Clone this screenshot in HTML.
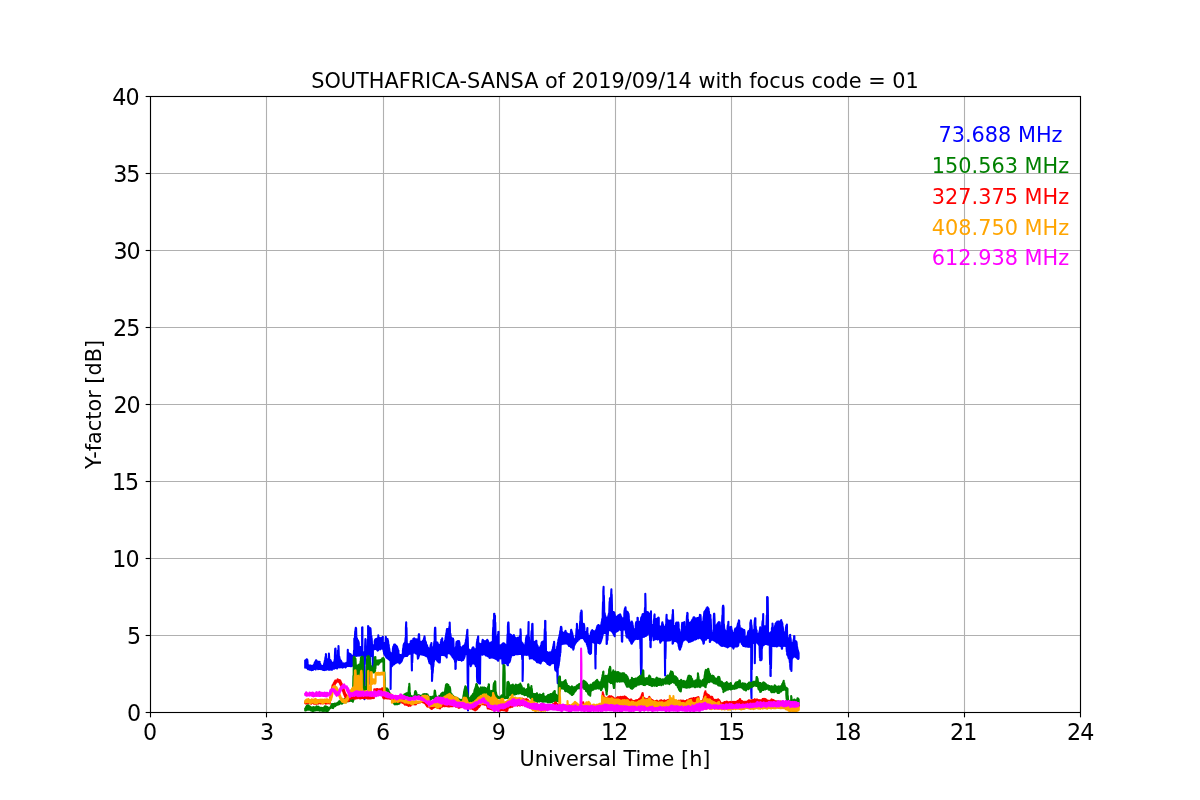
<!DOCTYPE html>
<html lang="en">
<head>
<meta charset="utf-8">
<title>SOUTHAFRICA-SANSA of 2019/09/14 with focus code = 01</title>
<style>
html,body{margin:0;padding:0;background:#fff;}
body{width:1200px;height:800px;overflow:hidden;}
svg{display:block;}
svg text{font-family:"DejaVu Sans","Liberation Sans",sans-serif;font-size:20.83px;}
svg .xlabels text,svg .ylabels text{font-size:22.22px;}
.grid line{stroke:#b0b0b0;stroke-width:1.11;}
.tick line{stroke:#000;stroke-width:1.11;}
.series polyline{fill:none;stroke-width:2.08;stroke-linejoin:round;stroke-linecap:butt;}
</style>
</head>
<body>
<svg width="1200" height="800" viewBox="0 0 1200 800">
<rect x="0" y="0" width="1200" height="800" fill="#ffffff"/>
<g class="grid">
<line x1="150.50" y1="96.00" x2="150.50" y2="712.00"/>
<line x1="266.50" y1="96.00" x2="266.50" y2="712.00"/>
<line x1="383.50" y1="96.00" x2="383.50" y2="712.00"/>
<line x1="499.50" y1="96.00" x2="499.50" y2="712.00"/>
<line x1="615.50" y1="96.00" x2="615.50" y2="712.00"/>
<line x1="731.50" y1="96.00" x2="731.50" y2="712.00"/>
<line x1="848.50" y1="96.00" x2="848.50" y2="712.00"/>
<line x1="964.50" y1="96.00" x2="964.50" y2="712.00"/>
<line x1="1080.50" y1="96.00" x2="1080.50" y2="712.00"/>
<line x1="150.00" y1="712.50" x2="1080.00" y2="712.50"/>
<line x1="150.00" y1="635.50" x2="1080.00" y2="635.50"/>
<line x1="150.00" y1="558.50" x2="1080.00" y2="558.50"/>
<line x1="150.00" y1="481.50" x2="1080.00" y2="481.50"/>
<line x1="150.00" y1="404.50" x2="1080.00" y2="404.50"/>
<line x1="150.00" y1="327.50" x2="1080.00" y2="327.50"/>
<line x1="150.00" y1="250.50" x2="1080.00" y2="250.50"/>
<line x1="150.00" y1="173.50" x2="1080.00" y2="173.50"/>
<line x1="150.00" y1="96.50" x2="1080.00" y2="96.50"/>
</g>
<defs><clipPath id="axclip"><rect x="150.5" y="96.5" width="930" height="616"/></clipPath></defs>
<g class="series" clip-path="url(#axclip)">
<polyline id="s73" stroke="#0000ff" points="305.2,659.8 305.2,667.7 305.5,667.0 305.5,662.3 305.8,660.5 305.8,667.5 306.1,667.4 306.1,659.8 306.4,659.8 306.4,667.5 306.7,667.9 306.7,659.3 307.0,659.4 307.0,668.1 307.3,668.5 307.3,659.9 307.6,662.4 307.6,668.4 307.9,669.2 307.9,664.8 308.2,665.6 308.2,669.0 308.5,669.0 308.5,665.7 308.8,665.6 308.8,669.2 309.1,669.4 309.1,665.5 309.4,666.0 309.4,669.6 309.7,669.5 309.7,666.1 310.0,665.6 310.0,669.7 310.3,669.8 310.3,665.6 310.6,666.0 310.6,669.8 310.9,669.2 310.9,665.9 311.2,666.6 311.2,670.1 311.5,670.0 311.5,665.7 311.8,666.2 311.8,670.1 312.1,669.8 312.1,666.0 312.4,666.1 312.4,669.4 312.7,669.8 312.7,666.2 313.0,665.6 313.0,669.8 313.3,669.7 313.3,665.9 313.6,665.4 313.6,669.2 313.9,669.0 313.9,664.9 314.2,664.6 314.2,668.4 314.5,668.5 314.5,663.5 314.8,662.5 314.8,668.5 315.1,669.0 315.1,662.0 315.4,661.9 315.4,669.0 315.7,669.5 315.7,661.1 316.0,660.4 316.0,669.0 316.3,668.6 316.3,660.2 316.6,661.7 316.6,668.2 316.9,668.3 316.9,661.8 317.2,662.1 317.2,668.5 317.5,668.3 317.5,661.8 317.8,662.0 317.8,668.6 318.1,669.1 318.1,661.8 318.4,662.2 318.4,668.9 318.7,669.0 318.7,661.9 319.0,662.4 319.0,668.6 319.3,668.9 319.3,662.1 319.6,661.8 319.6,668.8 319.9,668.6 319.9,663.6 320.2,663.8 320.2,669.1 320.5,668.7 320.5,665.0 320.8,665.3 320.8,668.9 321.1,669.0 321.1,665.3 321.4,666.2 321.4,669.2 321.7,669.3 321.7,666.1 322.0,666.5 322.0,669.0 322.3,669.1 322.3,666.1 322.6,666.3 322.6,669.3 322.9,669.8 322.9,666.6 323.2,666.0 323.2,669.6 323.5,669.4 323.5,666.0 323.8,664.9 323.8,670.0 324.1,670.0 324.1,664.0 324.4,662.7 324.4,670.0 324.7,670.1 324.7,661.2 325.0,660.2 325.0,669.5 325.3,669.2 325.3,658.6 325.6,656.7 325.6,669.6 325.9,669.1 325.9,654.0 326.2,657.3 326.2,669.8 326.5,669.2 326.5,659.6 326.8,659.8 326.8,669.0 327.1,668.8 327.1,659.4 327.4,659.4 327.4,668.6 327.7,668.9 327.7,659.8 328.0,659.6 328.0,669.3 328.3,669.7 328.3,659.7 328.6,659.4 328.6,669.8 328.9,669.8 328.9,653.5 329.2,658.1 329.2,669.7 329.5,669.7 329.5,659.7 329.8,660.3 329.8,669.8 330.1,669.5 330.1,660.6 330.4,660.2 330.4,669.3 330.7,668.8 330.7,660.8 331.0,661.3 331.0,669.3 331.3,669.6 331.3,662.1 331.6,662.7 331.6,669.7 331.9,669.8 331.9,662.8 332.2,663.6 332.2,669.0 332.5,669.0 332.5,663.3 332.8,663.1 332.8,668.7 333.1,668.7 333.1,662.6 333.4,662.9 333.4,668.0 333.7,668.0 333.7,663.0 334.0,663.2 334.0,668.7 334.3,668.4 334.3,663.3 334.6,659.9 334.6,668.3 334.9,668.1 334.9,656.4 335.2,648.7 335.2,667.9 335.5,667.5 335.5,648.6 335.8,659.1 335.8,667.8 336.1,668.1 336.1,659.4 336.4,659.8 336.4,668.3 336.7,668.1 336.7,659.0 337.0,659.3 337.0,668.5 337.3,668.2 337.3,659.1 337.6,655.3 337.6,667.7 337.9,667.5 337.9,650.5 338.2,650.3 338.2,667.1 338.5,666.9 338.5,646.0 338.8,654.8 338.8,667.0 339.1,666.9 339.1,656.2 339.4,657.2 339.4,667.0 339.7,667.4 339.7,658.8 340.0,660.0 340.0,667.0 340.3,666.8 340.3,660.2 340.6,660.6 340.6,667.2 340.9,667.3 340.9,660.6 341.2,661.3 341.2,666.8 341.5,666.5 341.5,661.7 341.8,662.8 341.8,666.5 342.1,666.8 342.1,663.1 342.4,663.7 342.4,667.5 342.7,667.6 342.7,664.0 343.0,664.1 343.0,667.5 343.3,666.7 343.3,664.1 343.6,663.8 343.6,666.3 343.9,666.7 343.9,663.3 344.2,663.8 344.2,666.4 344.5,666.6 344.5,663.7 344.8,664.2 344.8,666.9 345.1,667.1 345.1,664.2 345.4,663.6 345.4,667.4 345.7,667.1 345.7,663.6 346.0,663.4 346.0,666.8 346.3,666.8 346.3,662.9 346.6,663.0 346.6,666.2 346.9,665.9 346.9,663.0 347.2,663.4 347.2,666.0 347.5,665.8 347.5,663.2 347.8,649.8 347.8,665.5 348.1,665.9 348.1,653.6 348.4,652.7 348.4,665.5 348.7,665.2 348.7,653.3 349.0,653.4 349.0,666.1 349.3,665.8 349.3,654.2 349.6,654.6 349.6,665.9 349.9,665.8 349.9,654.4 350.2,654.4 350.2,665.5 350.5,666.1 350.5,654.1 350.8,655.0 350.8,666.2 351.1,665.9 351.1,655.1 351.4,655.8 351.4,666.2 351.7,665.3 351.7,655.8 352.0,655.9 352.0,666.0 352.3,662.5 352.3,655.7 352.6,655.7 352.6,656.0 353.2,655.9 353.2,655.6 353.8,655.6 354.0,650.5 354.0,655.7 354.3,655.8 354.3,638.7 354.6,638.5 354.6,655.2 354.9,655.4 354.9,638.4 355.2,631.2 355.2,655.4 355.5,655.6 355.5,629.8 355.8,627.7 355.8,655.7 356.1,656.0 356.1,628.4 356.4,638.4 356.4,655.2 356.7,655.0 356.7,638.2 357.0,638.6 357.0,655.7 357.3,655.1 357.3,639.6 357.6,639.9 357.6,655.4 357.9,655.2 357.9,640.5 358.2,641.0 358.2,655.6 358.5,655.2 358.5,641.7 358.8,643.4 358.8,655.3 359.1,655.4 359.1,646.7 359.4,646.8 359.4,655.3 359.7,655.3 359.7,647.0 360.0,647.0 360.0,655.7 360.3,655.3 360.3,647.5 360.6,647.3 360.6,655.5 360.9,655.4 360.9,647.4 361.2,646.8 361.2,655.5 361.5,655.3 361.5,647.4 361.8,647.2 361.8,655.4 362.1,655.0 362.1,627.6 362.4,627.3 362.4,655.6 362.7,656.5 362.7,652.0 363.0,652.2 363.0,656.5 363.3,655.7 363.3,652.9 363.6,653.1 363.6,655.3 363.9,656.0 363.9,652.8 364.2,652.9 364.2,690.7 364.5,699.2 364.5,652.4 364.8,652.2 364.8,664.2 365.1,655.6 365.1,646.9 365.4,639.1 365.4,655.7 365.7,655.7 365.7,646.9 366.0,647.3 366.0,655.6 366.3,655.4 366.3,646.6 366.6,647.0 366.6,655.5 366.9,655.6 366.9,646.6 367.2,647.3 367.2,655.3 367.5,655.9 367.5,647.0 367.8,639.6 367.8,655.8 368.1,655.7 368.1,626.1 368.4,626.6 368.4,655.6 368.7,655.3 368.7,627.1 369.0,629.0 369.0,655.5 369.3,655.3 369.3,628.7 369.6,628.8 369.6,683.7 369.9,656.0 369.9,628.3 370.2,628.1 370.2,655.9 370.5,655.5 370.5,628.6 370.8,633.0 370.8,655.2 371.1,655.1 371.1,636.3 371.4,636.1 371.4,655.6 371.7,655.9 371.7,638.6 372.0,645.1 372.0,655.7 372.3,656.2 372.3,645.1 372.6,645.0 372.6,655.6 372.9,667.4 372.9,645.5 373.2,645.3 373.2,649.6 373.5,648.8 373.5,645.4 373.8,645.2 373.8,649.0 374.1,648.8 374.1,645.5 374.4,645.0 374.4,649.1 374.7,649.2 374.7,641.4 375.0,640.1 375.0,648.6 375.3,648.4 375.3,639.6 375.6,639.5 375.6,649.0 375.9,649.0 375.9,639.0 376.2,639.4 376.2,649.0 376.5,649.4 376.5,639.6 376.8,638.9 376.8,649.0 377.1,649.8 377.1,638.7 377.4,639.2 377.4,649.7 377.7,650.6 377.7,639.1 378.0,638.3 378.0,650.4 378.3,649.2 378.3,635.4 378.6,637.9 378.6,649.0 378.9,649.2 378.9,638.5 379.2,638.1 379.2,649.3 379.5,648.9 379.5,638.6 379.8,638.2 379.8,648.9 380.1,649.3 380.1,638.4 380.4,638.4 380.4,648.6 380.7,648.6 380.7,638.1 381.0,638.1 381.0,648.6 381.3,647.9 381.3,637.9 381.6,638.2 381.6,648.1 381.9,648.5 381.9,638.0 382.2,638.2 382.2,648.7 382.5,648.8 382.5,637.9 382.8,636.7 382.8,648.7 383.1,648.5 383.1,643.7 383.4,643.4 383.4,648.9 383.7,651.3 383.7,643.0 384.0,643.7 384.0,653.1 384.3,654.0 384.3,643.1 384.6,643.2 384.6,654.6 384.9,654.9 384.9,643.7 385.2,643.6 385.2,655.2 385.5,656.0 385.5,643.7 385.8,636.9 385.8,656.2 386.1,656.8 386.1,637.9 386.4,639.2 386.4,657.5 386.7,657.3 386.7,639.4 387.0,638.9 387.0,658.0 387.3,658.2 387.3,639.1 387.6,639.0 387.6,658.4 387.9,658.4 387.9,640.4 388.2,642.2 388.2,658.8 388.5,658.8 388.5,644.1 388.8,645.5 388.8,659.3 389.1,659.5 389.1,647.8 389.4,649.6 389.4,659.4 389.7,660.0 389.7,651.4 390.0,653.6 390.0,660.5 390.3,660.7 390.3,653.2 390.6,653.7 390.6,689.0 390.9,666.2 390.9,653.6 391.2,653.6 391.2,666.6 391.5,666.6 391.5,653.9 391.8,653.5 391.8,665.6 392.1,665.9 392.1,653.1 392.4,653.7 392.4,665.5 392.7,665.2 392.7,653.0 393.0,648.0 393.0,664.6 393.3,664.3 393.3,646.6 393.6,646.7 393.6,663.6 393.9,663.6 393.9,646.0 394.2,644.5 394.2,664.3 394.5,663.6 394.5,645.2 394.8,644.9 394.8,663.5 395.1,663.3 395.1,644.6 395.4,645.3 395.4,663.0 395.7,662.4 395.7,645.7 396.0,645.6 396.0,662.9 396.3,662.3 396.3,646.0 396.6,646.3 396.6,662.4 396.9,662.1 396.9,646.5 397.2,647.4 397.2,661.6 397.5,662.1 397.5,648.4 397.8,649.3 397.8,661.7 398.1,662.1 398.1,650.3 398.4,650.5 398.4,662.4 398.7,661.8 398.7,653.7 399.0,655.9 399.0,662.0 399.3,662.4 399.3,655.9 399.6,656.1 399.6,663.4 399.9,663.2 399.9,655.5 400.2,655.2 400.2,662.6 400.5,662.6 400.5,655.0 400.8,655.7 400.8,662.0 401.1,661.9 401.1,655.4 401.4,655.6 401.4,661.6 401.7,660.9 401.7,655.0 402.0,654.9 402.0,660.2 402.3,658.9 402.3,654.2 402.6,654.5 402.6,658.3 402.9,657.9 402.9,650.7 403.2,648.0 403.2,657.2 403.5,656.8 403.5,645.9 403.8,644.5 403.8,656.3 404.1,656.3 404.1,643.6 404.4,643.4 404.4,655.7 404.7,655.9 404.7,643.1 405.0,642.3 405.0,656.1 405.3,655.5 405.3,642.0 405.6,637.9 405.6,656.0 405.9,655.8 405.9,628.1 406.2,622.3 406.2,655.6 406.5,656.0 406.5,627.8 406.8,643.4 406.8,655.8 407.1,656.0 407.1,643.6 407.4,644.1 407.4,655.1 407.7,654.8 407.7,644.1 408.0,644.5 408.0,654.8 408.3,654.0 408.3,644.8 408.6,644.3 408.6,653.8 408.9,654.0 408.9,644.9 409.2,644.4 409.2,653.3 409.5,653.5 409.5,644.6 409.8,645.0 409.8,653.7 410.1,653.7 410.1,644.3 410.4,643.2 410.4,653.3 410.7,652.9 410.7,641.5 411.0,641.2 411.0,653.3 411.3,653.1 411.3,640.8 411.6,640.7 411.6,657.7 411.9,670.5 411.9,641.4 412.2,641.5 412.2,662.6 412.5,656.0 412.5,641.7 412.8,641.1 412.8,652.4 413.1,652.4 413.1,640.7 413.4,638.7 413.4,652.7 413.7,652.6 413.7,639.2 414.0,638.7 414.0,652.5 414.3,652.0 414.3,638.4 414.6,638.7 414.6,652.6 414.9,652.4 414.9,638.9 415.2,639.5 415.2,652.8 415.5,652.8 415.5,639.5 415.8,639.8 415.8,653.4 416.1,653.2 416.1,639.8 416.4,639.5 416.4,653.5 416.7,653.8 416.7,639.2 417.0,639.5 417.0,653.5 417.3,654.3 417.3,639.9 417.6,639.9 417.6,654.6 417.9,658.6 417.9,639.7 418.2,639.8 418.2,658.2 418.5,657.1 418.5,639.2 418.8,634.4 418.8,656.3 419.1,655.1 419.1,634.4 419.4,641.6 419.4,653.7 419.7,653.6 419.7,641.6 420.0,641.8 420.0,654.1 420.3,654.2 420.3,641.6 420.6,642.3 420.6,654.1 420.9,653.6 420.9,642.1 421.2,641.8 421.2,654.5 421.5,654.5 421.5,642.2 421.8,642.1 421.8,654.1 422.1,654.1 422.1,642.1 422.4,641.9 422.4,654.6 422.7,654.7 422.7,641.4 423.0,640.6 423.0,654.8 423.3,654.2 423.3,640.4 423.6,640.0 423.6,654.9 423.9,654.7 423.9,639.0 424.2,637.8 424.2,654.7 424.5,655.0 424.5,636.3 424.8,638.5 424.8,654.9 425.1,655.5 425.1,640.5 425.4,641.5 425.4,655.4 425.7,655.5 425.7,641.7 426.0,642.7 426.0,656.1 426.3,655.6 426.3,644.1 426.6,644.7 426.6,656.2 426.9,656.1 426.9,645.2 427.2,646.0 427.2,656.1 427.5,656.6 427.5,647.2 427.8,647.5 427.8,656.7 428.1,658.1 428.1,648.9 428.4,648.9 428.4,658.9 428.7,659.9 428.7,649.2 429.0,648.8 429.0,661.3 429.3,662.2 429.3,648.8 429.6,648.7 429.6,663.3 429.9,663.1 429.9,648.4 430.2,648.8 430.2,663.5 430.5,663.1 430.5,646.5 430.8,644.7 430.8,663.8 431.1,664.6 431.1,645.7 431.4,643.1 431.4,665.2 431.7,669.5 431.7,648.3 432.0,647.9 432.0,680.9 432.3,675.8 432.3,648.0 432.6,647.8 432.6,673.1 432.9,669.9 432.9,647.4 433.2,647.9 433.2,666.9 433.5,664.3 433.5,647.8 433.8,646.1 433.8,661.9 434.1,660.3 434.1,643.9 434.4,641.5 434.4,658.3 434.7,658.0 434.7,634.8 435.0,627.8 435.0,658.2 435.3,659.2 435.3,627.9 435.6,639.3 435.6,658.9 435.9,659.0 435.9,642.5 436.2,642.8 436.2,658.8 436.5,658.3 436.5,642.6 436.8,642.5 436.8,659.5 437.1,660.4 437.1,642.6 437.4,642.6 437.4,660.3 437.7,661.5 437.7,643.3 438.0,644.8 438.0,661.2 438.3,661.4 438.3,645.1 438.6,645.5 438.6,661.8 438.9,662.3 438.9,645.4 439.2,645.3 439.2,661.9 439.5,660.6 439.5,645.1 439.8,644.8 439.8,662.4 440.1,656.8 440.1,645.1 440.4,644.9 440.4,655.6 440.7,654.3 440.7,643.5 441.0,641.8 441.0,654.3 441.3,654.6 441.3,639.7 441.6,639.8 441.6,654.7 441.9,654.5 441.9,641.6 442.2,638.2 442.2,655.0 442.5,654.8 442.5,642.7 442.8,642.8 442.8,655.0 443.1,654.9 443.1,642.9 443.4,642.9 443.4,654.6 443.7,654.9 443.7,643.0 444.0,642.8 444.0,655.3 444.3,655.0 444.3,642.0 444.6,641.6 444.6,654.9 444.9,655.0 444.9,640.9 445.2,640.2 445.2,655.1 445.5,655.7 445.5,638.4 445.8,636.3 445.8,656.2 446.1,656.1 446.1,634.9 446.4,632.8 446.4,655.9 446.7,657.5 446.7,630.9 447.0,629.1 447.0,654.2 447.3,653.5 447.3,629.0 447.6,629.0 447.6,653.2 447.9,652.9 447.9,629.6 448.2,629.5 448.2,652.6 448.5,653.2 448.5,629.4 448.8,629.2 448.8,652.7 449.1,652.8 449.1,629.3 449.4,626.6 449.4,652.5 449.7,652.5 449.7,622.6 450.0,632.5 450.0,653.4 450.3,653.8 450.3,633.5 450.6,635.3 450.6,653.7 450.9,653.6 450.9,637.1 451.2,638.0 451.2,654.5 451.5,655.3 451.5,638.4 451.8,638.5 451.8,655.6 452.1,655.9 452.1,638.9 452.4,638.6 452.4,656.7 452.7,657.1 452.7,638.7 453.0,638.5 453.0,657.0 453.3,657.8 453.3,639.5 453.6,646.5 453.6,658.1 453.9,658.6 453.9,648.7 454.2,648.3 454.2,658.9 454.5,659.6 454.5,648.0 454.8,648.3 454.8,659.8 455.1,662.0 455.1,648.1 455.4,648.8 455.4,668.9 455.7,668.7 455.7,648.5 456.0,646.7 456.0,661.8 456.3,659.6 456.3,643.8 456.6,641.8 456.6,659.3 456.9,659.4 456.9,642.0 457.2,641.8 457.2,659.0 457.5,659.4 457.5,641.7 457.8,641.1 457.8,659.2 458.1,659.3 458.1,641.2 458.4,641.0 458.4,659.5 458.7,660.0 458.7,641.4 459.0,641.2 459.0,659.7 459.3,659.9 459.3,642.1 459.6,644.4 459.6,659.9 459.9,659.8 459.9,646.5 460.2,647.7 460.2,659.9 460.5,659.6 460.5,647.7 460.8,647.6 460.8,659.8 461.1,659.9 461.1,647.5 461.4,647.9 461.4,660.1 461.7,660.6 461.7,647.6 462.0,648.0 462.0,660.2 462.3,659.9 462.3,647.8 462.6,647.2 462.6,660.1 462.9,660.0 462.9,646.6 463.2,646.0 463.2,659.9 463.5,658.9 463.5,645.8 463.8,645.8 463.8,658.6 464.1,658.0 464.1,646.1 464.4,645.3 464.4,657.2 464.7,656.0 464.7,645.3 465.0,644.7 465.0,654.6 465.3,654.0 465.3,643.5 465.6,642.5 465.6,654.2 465.9,653.6 465.9,640.4 466.2,639.1 466.2,653.7 466.5,654.1 466.5,637.2 466.8,634.5 466.8,654.3 467.1,654.5 467.1,632.2 467.4,629.7 467.4,653.8 467.7,683.6 467.7,637.1 468.0,648.2 468.0,710.5 468.3,671.0 468.3,648.6 468.6,649.3 468.6,663.8 468.9,663.7 468.9,650.0 469.2,650.5 469.2,663.9 469.5,663.9 469.5,650.7 469.8,650.9 469.8,663.7 470.1,663.6 470.1,650.1 470.4,650.5 470.4,663.8 470.7,666.2 470.7,650.6 471.0,650.3 471.0,664.8 471.3,664.9 471.3,650.6 471.6,650.3 471.6,663.9 471.9,663.7 471.9,649.8 472.2,648.9 472.2,663.2 472.5,662.8 472.5,647.9 472.8,647.8 472.8,663.1 473.1,663.5 473.1,647.3 473.4,647.4 473.4,663.4 473.7,663.4 473.7,648.1 474.0,649.0 474.0,663.5 474.3,663.3 474.3,649.5 474.6,649.7 474.6,662.7 474.9,663.6 474.9,650.0 475.2,649.6 475.2,664.5 475.5,665.2 475.5,649.7 475.8,649.9 475.8,666.2 476.1,666.1 476.1,649.6 476.4,648.2 476.4,666.1 476.7,667.0 476.7,645.3 477.0,641.8 477.0,677.2 477.3,681.6 477.3,639.5 477.6,639.1 477.6,681.6 477.9,682.2 477.9,638.0 478.2,636.4 478.2,682.6 478.5,683.0 478.5,643.7 478.8,643.9 478.8,682.8 479.1,683.4 479.1,643.4 479.4,643.5 479.4,679.0 479.7,668.5 479.7,643.9 480.0,644.4 480.0,683.6 480.3,654.5 480.3,644.2 480.6,644.4 480.6,654.7 480.9,654.5 480.9,644.1 481.2,644.4 481.2,654.2 481.5,654.3 481.5,644.3 481.8,644.0 481.8,654.5 482.1,654.7 482.1,644.5 482.4,640.9 482.4,654.7 482.7,654.4 482.7,639.7 483.0,640.4 483.0,654.2 483.3,654.1 483.3,640.6 483.6,641.3 483.6,654.3 483.9,654.3 483.9,641.8 484.2,641.7 484.2,654.3 484.5,654.0 484.5,641.6 484.8,641.8 484.8,654.1 485.1,654.3 485.1,641.0 485.4,641.9 485.4,654.7 485.7,655.3 485.7,641.7 486.0,641.8 486.0,655.3 486.3,655.5 486.3,641.1 486.6,641.1 486.6,655.2 486.9,655.6 486.9,641.3 487.2,639.7 487.2,655.4 487.5,656.1 487.5,640.5 487.8,640.5 487.8,656.2 488.1,656.3 488.1,641.2 488.4,642.5 488.4,656.0 488.7,656.6 488.7,642.9 489.0,643.4 489.0,657.0 489.3,657.2 489.3,643.1 489.6,643.3 489.6,658.0 489.9,657.1 489.9,643.3 490.2,643.0 490.2,657.0 490.5,657.0 490.5,643.1 490.8,642.5 490.8,657.7 491.1,657.0 491.1,642.9 491.4,642.3 491.4,656.8 491.7,657.2 491.7,642.5 492.0,641.9 492.0,657.0 492.3,657.6 492.3,641.7 492.6,641.5 492.6,657.1 492.9,657.0 492.9,634.7 493.2,627.5 493.2,656.6 493.5,656.8 493.5,620.6 493.8,619.5 493.8,657.9 494.1,657.6 494.1,613.7 494.4,613.7 494.4,658.1 494.7,657.7 494.7,616.2 495.0,615.8 495.0,657.9 495.3,658.7 495.3,622.5 495.6,637.1 495.6,658.3 495.9,658.8 495.9,636.7 496.2,636.7 496.2,659.0 496.5,659.3 496.5,636.6 496.8,636.8 496.8,659.3 497.1,659.2 497.1,637.2 497.4,636.9 497.4,659.2 497.7,659.9 497.7,636.9 498.0,634.5 498.0,660.7 498.3,660.7 498.3,632.0 498.6,631.9 498.6,659.1 498.9,657.8 498.9,645.4 499.2,645.4 499.2,658.3 499.5,658.2 499.5,645.2 499.8,645.8 499.8,658.0 500.1,658.2 500.1,645.2 500.4,646.0 500.4,658.4 500.7,657.8 500.7,645.6 501.0,645.7 501.0,657.2 501.3,658.2 501.3,645.2 501.6,644.7 501.6,658.1 501.9,658.1 501.9,644.6 502.2,644.8 502.2,658.1 502.5,663.7 502.5,644.4 502.8,644.3 502.8,663.4 503.1,660.1 503.1,643.3 503.4,643.5 503.4,663.1 503.7,663.0 503.7,643.2 504.0,643.5 504.0,663.1 504.3,663.4 504.3,643.7 504.6,643.9 504.6,662.8 504.9,663.0 504.9,644.5 505.2,645.6 505.2,662.8 505.5,662.9 505.5,645.2 505.8,645.8 505.8,662.9 506.1,663.0 506.1,645.3 506.4,645.9 506.4,663.6 506.7,663.4 506.7,645.9 507.0,645.8 507.0,663.8 507.3,663.9 507.3,642.2 507.6,634.2 507.6,665.2 507.9,665.3 507.9,626.3 508.2,622.6 508.2,663.5 508.5,663.1 508.5,622.6 508.8,631.9 508.8,662.3 509.1,662.4 509.1,635.1 509.4,634.6 509.4,661.5 509.7,661.8 509.7,634.4 510.0,635.0 510.0,660.8 510.3,659.4 510.3,634.6 510.6,635.0 510.6,658.0 510.9,657.0 510.9,634.9 511.2,635.3 511.2,655.8 511.5,655.1 511.5,635.7 511.8,636.3 511.8,655.1 512.1,654.9 512.1,635.7 512.4,635.9 512.4,655.2 512.7,655.3 512.7,636.0 513.0,635.9 513.0,655.3 513.3,655.0 513.3,636.1 513.6,636.2 513.6,654.9 513.9,654.9 513.9,635.1 514.2,636.9 514.2,655.0 514.5,654.5 514.5,636.9 514.8,638.0 514.8,654.2 515.1,654.2 515.1,637.5 515.4,638.3 515.4,654.2 515.7,654.2 515.7,638.1 516.0,638.3 516.0,653.9 516.3,654.0 516.3,638.7 516.6,638.9 516.6,654.2 516.9,654.1 516.9,638.7 517.2,638.7 517.2,654.3 517.5,654.3 517.5,637.8 517.8,638.3 517.8,654.0 518.1,653.6 518.1,637.9 518.4,638.3 518.4,654.1 518.7,654.0 518.7,637.9 519.0,638.1 519.0,654.0 519.3,653.8 519.3,637.7 519.6,636.7 519.6,653.8 519.9,654.0 519.9,636.2 520.2,635.3 520.2,654.0 520.5,653.9 520.5,629.3 520.8,634.4 520.8,653.1 521.1,653.9 521.1,641.0 521.4,642.3 521.4,654.1 521.7,654.3 521.7,642.5 522.0,643.1 522.0,654.9 522.3,659.4 522.3,643.0 522.6,643.7 522.6,680.9 522.9,669.3 522.9,644.1 523.2,645.3 523.2,654.5 523.5,654.3 523.5,645.5 523.8,645.8 523.8,654.6 524.1,654.6 524.1,645.5 524.4,646.1 524.4,654.7 524.7,654.5 524.7,645.7 525.0,646.1 525.0,654.4 525.3,654.7 525.3,645.3 525.6,642.6 525.6,654.1 525.9,654.4 525.9,640.6 526.2,637.7 526.2,654.5 526.5,654.9 526.5,636.1 526.8,636.0 526.8,655.0 527.1,654.3 527.1,635.6 527.4,635.4 527.4,653.9 527.7,654.3 527.7,635.4 528.0,635.7 528.0,653.8 528.3,654.0 528.3,631.7 528.6,622.1 528.6,654.6 528.9,654.9 528.9,636.8 529.2,641.2 529.2,655.5 529.5,656.5 529.5,641.3 529.8,641.9 529.8,658.8 530.1,657.5 530.1,641.7 530.4,642.1 530.4,657.6 530.7,657.4 530.7,641.3 531.0,641.5 531.0,657.6 531.3,658.0 531.3,636.2 531.6,631.1 531.6,657.8 531.9,658.3 531.9,637.4 532.2,624.1 532.2,658.3 532.5,657.8 532.5,623.8 532.8,641.1 532.8,658.1 533.1,657.8 533.1,641.4 533.4,642.2 533.4,658.6 533.7,658.5 533.7,642.7 534.0,642.2 534.0,659.4 534.3,659.0 534.3,642.4 534.6,642.2 534.6,658.8 534.9,659.4 534.9,641.8 535.2,641.6 535.2,660.0 535.5,660.3 535.5,641.8 535.8,641.8 535.8,660.2 536.1,660.4 536.1,640.9 536.4,640.9 536.4,661.3 536.7,661.2 536.7,643.9 537.0,645.2 537.0,662.2 537.3,661.8 537.3,645.5 537.6,646.0 537.6,661.9 537.9,662.1 537.9,647.1 538.2,647.6 538.2,662.4 538.5,662.2 538.5,647.8 538.8,648.7 538.8,662.5 539.1,662.2 539.1,648.3 539.4,648.1 539.4,662.3 539.7,662.8 539.7,647.5 540.0,647.7 540.0,662.5 540.3,662.2 540.3,647.5 540.6,646.3 540.6,663.4 540.9,662.3 540.9,645.8 541.2,645.1 541.2,661.6 541.5,661.3 541.5,643.4 541.8,642.2 541.8,661.2 542.1,661.1 542.1,642.1 542.4,641.9 542.4,660.6 542.7,660.4 542.7,641.8 543.0,641.6 543.0,660.4 543.3,660.2 543.3,641.4 543.6,641.5 543.6,659.9 543.9,660.1 543.9,641.3 544.2,640.7 544.2,660.3 544.5,660.9 544.5,639.6 544.8,629.0 544.8,660.5 545.1,660.9 545.1,620.9 545.4,621.0 545.4,660.8 545.7,661.2 545.7,631.7 546.0,652.1 546.0,662.0 546.3,661.9 546.3,652.5 546.6,652.0 546.6,662.4 546.9,662.5 546.9,652.3 547.2,652.1 547.2,663.2 547.5,663.8 547.5,652.4 547.8,652.4 547.8,663.9 548.1,663.7 548.1,652.5 548.4,653.0 548.4,664.0 548.7,664.0 548.7,653.1 549.0,653.5 549.0,664.7 549.3,664.4 549.3,652.9 549.6,653.1 549.6,664.7 549.9,665.1 549.9,652.4 550.2,652.9 550.2,664.4 550.5,664.5 550.5,652.6 550.8,652.5 550.8,663.8 551.1,663.5 551.1,653.1 551.4,652.2 551.4,663.0 551.7,662.6 551.7,651.6 552.0,651.3 552.0,662.5 552.3,662.9 552.3,650.1 552.6,649.7 552.6,663.2 552.9,662.8 552.9,648.7 553.2,646.6 553.2,662.7 553.5,663.0 553.5,645.5 553.8,643.7 553.8,662.7 554.1,662.9 554.1,641.7 554.4,647.6 554.4,662.7 554.7,664.0 554.7,650.5 555.0,649.9 555.0,667.4 555.3,669.9 555.3,650.3 555.6,650.6 555.6,670.5 555.9,670.4 555.9,650.9 556.2,651.0 556.2,670.8 556.5,671.0 556.5,650.5 556.8,649.1 556.8,670.7 557.1,672.1 557.1,646.9 557.4,646.0 557.4,676.0 557.7,683.3 557.7,644.0 558.0,642.5 558.0,668.1 558.3,666.9 558.3,640.8 558.6,639.3 558.6,665.5 558.9,663.3 558.9,638.4 559.2,637.1 559.2,661.6 559.5,658.9 559.5,635.6 559.8,634.2 559.8,656.7 560.1,654.2 560.1,632.3 560.4,630.6 560.4,652.7 560.7,644.4 560.7,628.8 561.0,626.7 561.0,644.0 561.3,644.1 561.3,627.0 561.6,629.2 561.6,644.0 561.9,644.1 561.9,631.6 562.2,633.1 562.2,643.8 562.5,643.6 562.5,633.2 562.8,633.0 562.8,643.6 563.1,643.1 563.1,632.8 563.4,633.4 563.4,643.6 563.7,643.3 563.7,632.9 564.0,633.2 564.0,643.7 564.3,643.5 564.3,633.2 564.6,632.9 564.6,643.4 564.9,643.2 564.9,632.0 565.2,631.7 565.2,643.4 565.5,643.4 565.5,630.8 565.8,632.3 565.8,643.2 566.1,642.9 566.1,632.8 566.4,633.1 566.4,643.1 566.7,643.1 566.7,633.6 567.0,633.3 567.0,643.8 567.3,643.6 567.3,633.6 567.6,633.8 567.6,643.9 567.9,643.9 567.9,634.5 568.2,634.1 568.2,644.5 568.5,645.0 568.5,634.4 568.8,634.7 568.8,645.3 569.1,646.0 569.1,634.3 569.4,634.6 569.4,645.7 569.7,645.9 569.7,634.7 570.0,634.3 570.0,646.0 570.3,646.4 570.3,634.5 570.6,633.6 570.6,646.7 570.9,647.1 570.9,631.9 571.2,629.7 571.2,646.9 571.5,647.5 571.5,630.8 571.8,632.0 571.8,647.0 572.1,647.4 572.1,632.8 572.4,634.0 572.4,647.2 572.7,647.9 572.7,635.4 573.0,637.1 573.0,647.8 573.3,649.6 573.3,638.5 573.6,639.2 573.6,649.0 573.9,646.4 573.9,639.1 574.2,639.6 574.2,645.2 574.5,644.9 574.5,639.6 574.8,639.1 574.8,644.5 575.1,643.1 575.1,639.2 575.4,639.3 575.4,642.7 575.7,642.8 575.7,638.0 576.0,635.2 576.0,642.8 576.3,641.7 576.3,633.3 576.6,628.8 576.6,641.2 576.9,641.3 576.9,623.9 577.2,627.7 577.2,640.7 577.5,641.0 577.5,629.7 577.8,630.2 577.8,640.3 578.1,639.7 578.1,630.0 578.4,630.2 578.4,639.0 578.7,638.9 578.7,630.3 579.0,630.5 579.0,639.5 579.3,639.3 579.3,630.1 579.6,630.2 579.6,638.8 579.9,638.4 579.9,625.7 580.2,621.3 580.2,637.9 580.5,637.5 580.5,616.9 580.8,612.9 580.8,637.9 581.1,638.0 581.1,616.3 581.4,610.6 581.4,638.1 581.7,637.7 581.7,611.3 582.0,624.6 582.0,638.0 582.3,637.3 582.3,624.8 582.6,624.2 582.6,637.2 582.9,637.4 582.9,624.1 583.2,624.1 583.2,638.3 583.5,638.4 583.5,623.9 583.8,623.8 583.8,638.8 584.1,639.4 584.1,624.8 584.4,628.2 584.4,639.9 584.7,640.1 584.7,631.5 585.0,632.1 585.0,640.9 585.3,641.4 585.3,632.2 585.6,632.6 585.6,641.7 585.9,641.8 585.9,632.1 586.2,632.4 586.2,642.0 586.5,642.7 586.5,632.5 586.8,632.1 586.8,643.9 587.1,644.7 587.1,630.6 587.4,628.0 587.4,645.6 587.7,646.8 587.7,633.4 588.0,637.0 588.0,647.0 588.3,649.0 588.3,637.3 588.6,637.1 588.6,651.7 588.9,652.6 588.9,636.4 589.2,636.3 589.2,653.2 589.5,653.0 589.5,636.2 589.8,636.8 589.8,653.5 590.1,654.0 590.1,636.8 590.4,635.1 590.4,649.4 590.7,653.6 590.7,634.1 591.0,632.5 591.0,653.3 591.3,642.0 591.3,631.5 591.6,630.9 591.6,641.6 591.9,641.6 591.9,630.6 592.2,630.2 592.2,641.8 592.5,641.7 592.5,630.6 592.8,631.0 592.8,642.0 593.1,642.2 593.1,630.9 593.4,631.3 593.4,642.1 593.7,642.0 593.7,631.3 594.0,631.2 594.0,642.2 594.3,642.8 594.3,631.7 594.6,631.7 594.6,642.6 594.9,642.5 594.9,631.3 595.2,631.3 595.2,650.7 595.5,668.4 595.5,631.6 595.8,631.3 595.8,654.7 596.1,642.3 596.1,630.1 596.4,629.6 596.4,642.6 596.7,642.4 596.7,628.4 597.0,627.2 597.0,642.3 597.3,642.1 597.3,626.3 597.6,625.7 597.6,642.1 597.9,642.6 597.9,625.7 598.2,625.2 598.2,642.9 598.5,642.9 598.5,625.0 598.8,625.8 598.8,642.7 599.1,643.0 599.1,626.4 599.4,626.3 599.4,642.9 599.7,643.5 599.7,625.9 600.0,626.0 600.0,643.1 600.3,643.0 600.3,625.9 600.6,626.0 600.6,642.1 600.9,641.3 600.9,626.3 601.2,624.6 601.2,640.1 601.5,639.6 601.5,623.5 601.8,621.8 601.8,638.4 602.1,637.8 602.1,619.8 602.4,618.4 602.4,636.0 602.7,634.5 602.7,613.0 603.0,602.0 603.0,633.1 603.3,633.0 603.3,591.4 603.6,586.9 603.6,633.1 603.9,632.6 603.9,595.5 604.2,608.1 604.2,633.0 604.5,632.8 604.5,612.8 604.8,613.8 604.8,632.9 605.1,632.7 605.1,615.2 605.4,616.8 605.4,632.7 605.7,632.6 605.7,617.4 606.0,618.1 606.0,633.1 606.3,633.7 606.3,617.9 606.6,618.2 606.6,644.0 606.9,643.8 606.9,618.1 607.2,618.1 607.2,640.5 607.5,639.6 607.5,617.3 607.8,617.4 607.8,635.5 608.1,629.4 608.1,618.0 608.4,615.7 608.4,629.6 608.7,629.6 608.7,614.7 609.0,613.3 609.0,630.1 609.3,629.7 609.3,611.0 609.6,601.8 609.6,630.3 609.9,629.8 609.9,598.3 610.2,598.1 610.2,629.9 610.5,630.3 610.5,597.8 610.8,597.3 610.8,630.0 611.1,630.1 611.1,594.8 611.4,589.4 611.4,630.4 611.7,631.5 611.7,594.6 612.0,607.5 612.0,631.1 612.3,631.5 612.3,612.0 612.6,612.1 612.6,632.0 612.9,632.5 612.9,611.9 613.2,612.0 613.2,633.2 613.5,633.8 613.5,613.0 613.8,612.7 613.8,634.7 614.1,635.0 614.1,612.3 614.4,612.9 614.4,634.4 614.7,636.3 614.7,614.5 615.0,616.6 615.0,632.3 615.3,631.5 615.3,617.0 615.6,617.0 615.6,631.2 615.9,631.2 615.9,617.4 616.2,616.9 616.2,631.8 616.5,631.5 616.5,617.2 616.8,617.0 616.8,631.3 617.1,631.1 617.1,616.6 617.4,616.8 617.4,630.5 617.7,630.9 617.7,617.0 618.0,615.8 618.0,630.2 618.3,630.2 618.3,615.2 618.6,615.3 618.6,629.3 618.9,629.2 618.9,615.1 619.2,615.7 619.2,629.4 619.5,629.0 619.5,614.9 619.8,614.8 619.8,629.4 620.1,629.5 620.1,614.2 620.4,614.9 620.4,629.4 620.7,630.0 620.7,615.8 621.0,616.6 621.0,629.5 621.3,629.7 621.3,617.1 621.6,618.1 621.6,629.2 621.9,641.5 621.9,618.5 622.2,618.8 622.2,641.7 622.5,629.2 622.5,618.9 622.8,618.8 622.8,629.2 623.1,629.4 623.1,618.8 623.4,618.1 623.4,629.3 623.7,629.2 623.7,618.6 624.0,617.9 624.0,629.6 624.3,629.3 624.3,613.9 624.6,610.0 624.6,629.4 624.9,629.5 624.9,608.5 625.2,612.0 625.2,629.4 625.5,629.5 625.5,607.2 625.8,611.5 625.8,630.9 626.1,633.3 626.1,611.5 626.4,611.9 626.4,636.5 626.7,636.7 626.7,611.9 627.0,611.7 627.0,636.6 627.3,637.6 627.3,611.7 627.6,612.1 627.6,637.1 627.9,637.2 627.9,612.6 628.2,613.5 628.2,637.6 628.5,637.6 628.5,613.8 628.8,616.7 628.8,637.9 629.1,638.7 629.1,619.8 629.4,622.8 629.4,639.6 629.7,640.3 629.7,623.4 630.0,622.7 630.0,640.3 630.3,641.0 630.3,622.9 630.6,622.9 630.6,641.4 630.9,641.9 630.9,623.4 631.2,623.3 631.2,642.9 631.5,643.6 631.5,623.5 631.8,621.6 631.8,643.7 632.1,642.4 632.1,622.4 632.4,623.1 632.4,642.0 632.7,641.4 632.7,625.0 633.0,627.7 633.0,641.6 633.3,641.1 633.3,629.7 633.6,629.1 633.6,640.4 633.9,639.9 633.9,629.3 634.2,629.3 634.2,639.6 634.5,639.5 634.5,629.4 634.8,629.1 634.8,638.9 635.1,639.1 635.1,629.5 635.4,628.5 635.4,638.8 635.7,638.3 635.7,626.0 636.0,622.8 636.0,638.8 636.3,638.8 636.3,622.1 636.6,622.2 636.6,638.5 636.9,638.9 636.9,622.6 637.2,623.0 637.2,638.6 637.5,638.4 637.5,617.8 637.8,617.9 637.8,639.0 638.1,638.3 638.1,621.3 638.4,622.0 638.4,638.1 638.7,638.3 638.7,622.6 639.0,622.4 639.0,638.2 639.3,638.3 639.3,622.3 639.6,622.9 639.6,639.0 639.9,638.9 639.9,622.8 640.2,622.9 640.2,638.7 640.5,648.8 640.5,621.7 640.8,620.1 640.8,662.4 641.1,674.9 641.1,618.2 641.4,617.3 641.4,675.2 641.7,662.2 641.7,617.2 642.0,616.2 642.0,636.4 642.3,636.5 642.3,616.0 642.6,614.3 642.6,636.6 642.9,636.8 642.9,614.0 643.2,614.0 643.2,636.1 643.5,636.6 643.5,614.4 643.8,614.4 643.8,636.3 644.1,636.6 644.1,614.1 644.4,613.8 644.4,636.7 644.7,636.0 644.7,613.9 645.0,607.8 645.0,635.9 645.3,635.8 645.3,593.8 645.6,605.1 645.6,635.9 645.9,635.9 645.9,611.7 646.2,611.6 646.2,635.7 646.5,635.3 646.5,612.0 646.8,612.3 646.8,634.8 647.1,634.7 647.1,612.5 647.4,612.3 647.4,634.5 647.7,633.8 647.7,612.1 648.0,612.4 648.0,633.7 648.3,633.4 648.3,613.7 648.6,614.9 648.6,633.4 648.9,633.4 648.9,614.7 649.2,614.7 649.2,633.7 649.5,633.3 649.5,614.4 649.8,613.7 649.8,633.8 650.1,640.4 650.1,613.7 650.4,614.1 650.4,646.9 650.7,647.1 650.7,614.1 651.0,611.4 651.0,640.8 651.3,635.4 651.3,625.4 651.6,625.5 651.6,635.5 651.9,635.7 651.9,624.9 652.2,625.6 652.2,635.6 652.5,635.2 652.5,625.7 652.8,625.7 652.8,635.3 653.1,635.7 653.1,625.1 653.4,624.3 653.4,635.8 653.7,640.1 653.7,621.6 654.0,619.1 654.0,637.9 654.3,639.2 654.3,615.9 654.6,614.4 654.6,639.2 654.9,638.9 654.9,619.0 655.2,619.5 655.2,639.3 655.5,638.7 655.5,619.0 655.8,619.0 655.8,638.9 656.1,638.6 656.1,619.0 656.4,619.4 656.4,638.7 656.7,638.5 656.7,619.5 657.0,619.6 657.0,638.7 657.3,639.5 657.3,618.6 657.6,618.8 657.6,639.4 657.9,639.2 657.9,618.0 658.2,618.0 658.2,638.7 658.5,639.2 658.5,617.5 658.8,618.2 658.8,639.2 659.1,638.9 659.1,625.8 659.4,627.3 659.4,638.9 659.7,639.4 659.7,627.0 660.0,627.2 660.0,640.4 660.3,642.7 660.3,627.0 660.6,626.8 660.6,641.2 660.9,641.3 660.9,626.6 661.2,627.5 661.2,641.4 661.5,641.0 661.5,626.4 661.8,625.3 661.8,640.2 662.1,640.0 662.1,623.7 662.4,622.3 662.4,640.3 662.7,640.0 662.7,623.7 663.0,624.8 663.0,639.9 663.3,640.1 663.3,625.6 663.6,627.1 663.6,639.8 663.9,640.1 663.9,627.5 664.2,627.2 664.2,640.8 664.5,640.4 664.5,627.6 664.8,627.2 664.8,650.6 665.1,675.4 665.1,627.7 665.4,627.7 665.4,658.7 665.7,646.4 665.7,627.7 666.0,624.4 666.0,640.5 666.3,640.7 666.3,619.8 666.6,614.7 666.6,640.5 666.9,640.6 666.9,618.8 667.2,620.7 667.2,640.4 667.5,640.4 667.5,620.1 667.8,620.4 667.8,640.3 668.1,640.0 668.1,620.3 668.4,621.0 668.4,640.3 668.7,640.3 668.7,620.9 669.0,620.9 669.0,640.5 669.3,640.5 669.3,621.7 669.6,621.2 669.6,639.8 669.9,639.9 669.9,621.3 670.2,620.7 670.2,640.3 670.5,639.5 670.5,620.5 670.8,620.8 670.8,638.6 671.1,638.9 671.1,621.2 671.4,621.1 671.4,639.4 671.7,639.5 671.7,620.9 672.0,621.0 672.0,639.5 672.3,638.9 672.3,618.8 672.6,614.3 672.6,643.7 672.9,643.5 672.9,610.0 673.2,618.8 673.2,641.1 673.5,641.3 673.5,625.7 673.8,625.9 673.8,640.9 674.1,641.0 674.1,626.2 674.4,626.4 674.4,641.0 674.7,641.1 674.7,626.0 675.0,626.1 675.0,641.0 675.3,640.2 675.3,626.0 675.6,625.6 675.6,640.6 675.9,640.7 675.9,623.6 676.2,622.8 676.2,641.3 676.5,641.4 676.5,622.5 676.8,622.6 676.8,641.6 677.1,641.4 677.1,623.4 677.4,623.3 677.4,641.9 677.7,642.2 677.7,622.9 678.0,622.7 678.0,642.7 678.3,643.7 678.3,622.5 678.6,624.8 678.6,645.2 678.9,646.9 678.9,628.7 679.2,632.8 679.2,648.1 679.5,649.3 679.5,632.7 679.8,632.9 679.8,649.7 680.1,649.5 680.1,632.9 680.4,632.6 680.4,648.3 680.7,647.3 680.7,632.5 681.0,632.4 681.0,646.8 681.3,645.9 681.3,633.1 681.6,629.5 681.6,644.8 681.9,643.4 681.9,626.3 682.2,622.9 682.2,642.3 682.5,641.6 682.5,623.4 682.8,623.3 682.8,640.9 683.1,640.7 683.1,623.0 683.4,623.0 683.4,640.4 683.7,640.5 683.7,623.9 684.0,625.8 684.0,639.3 684.3,639.3 684.3,622.0 684.6,627.4 684.6,639.0 684.9,639.6 684.9,627.1 685.2,627.5 685.2,639.4 685.5,638.6 685.5,627.3 685.8,627.3 685.8,638.8 686.1,639.4 686.1,627.8 686.4,626.7 686.4,639.1 686.7,639.4 686.7,621.0 687.0,615.6 687.0,639.8 687.3,640.3 687.3,612.9 687.6,613.3 687.6,640.6 687.9,640.4 687.9,619.4 688.2,622.8 688.2,640.7 688.5,641.2 688.5,622.9 688.8,622.8 688.8,642.1 689.1,641.8 689.1,622.8 689.4,622.8 689.4,641.8 689.7,641.5 689.7,623.0 690.0,623.1 690.0,641.8 690.3,641.1 690.3,622.7 690.6,622.7 690.6,640.8 690.9,640.8 690.9,622.2 691.2,621.8 691.2,641.1 691.5,640.6 691.5,621.4 691.8,621.1 691.8,640.2 692.1,640.9 692.1,620.4 692.4,619.7 692.4,640.4 692.7,640.6 692.7,619.4 693.0,619.0 693.0,640.4 693.3,640.2 693.3,618.3 693.6,617.4 693.6,639.9 693.9,639.6 693.9,617.6 694.2,617.3 694.2,639.6 694.5,639.3 694.5,617.5 694.8,618.2 694.8,639.3 695.1,639.4 695.1,618.6 695.4,618.9 695.4,638.8 695.7,639.3 695.7,619.0 696.0,618.9 696.0,638.8 696.3,639.0 696.3,618.7 696.6,618.7 696.6,638.3 696.9,638.2 696.9,618.9 697.2,618.1 697.2,638.3 697.5,637.9 697.5,618.0 697.8,618.1 697.8,638.1 698.1,638.5 698.1,618.4 698.4,618.2 698.4,637.8 698.7,637.8 698.7,618.0 699.0,617.4 699.0,637.8 699.3,637.8 699.3,617.4 699.6,617.5 699.6,637.5 699.9,637.8 699.9,614.8 700.2,616.0 700.2,637.9 700.5,638.2 700.5,615.1 700.8,619.8 700.8,637.4 701.1,637.2 701.1,622.6 701.4,623.1 701.4,638.3 701.7,639.0 701.7,623.3 702.0,622.7 702.0,639.7 702.3,639.7 702.3,622.8 702.6,623.3 702.6,640.3 702.9,641.1 702.9,623.2 703.2,621.0 703.2,641.6 703.5,643.7 703.5,618.8 703.8,616.4 703.8,643.5 704.1,640.9 704.1,613.9 704.4,611.8 704.4,640.0 704.7,639.7 704.7,611.9 705.0,611.1 705.0,639.8 705.3,639.6 705.3,611.1 705.6,610.5 705.6,639.4 705.9,639.7 705.9,609.7 706.2,609.4 706.2,639.4 706.5,638.7 706.5,608.4 706.8,608.7 706.8,638.1 707.1,637.9 707.1,608.0 707.4,607.2 707.4,637.7 707.7,637.7 707.7,607.5 708.0,608.3 708.0,637.8 708.3,637.9 708.3,608.4 708.6,609.2 708.6,637.9 708.9,637.5 708.9,611.4 709.2,614.0 709.2,638.1 709.5,638.3 709.5,615.3 709.8,615.3 709.8,642.0 710.1,641.7 710.1,615.1 710.4,615.0 710.4,640.0 710.7,640.4 710.7,619.0 711.0,627.0 711.0,639.7 711.3,639.5 711.3,634.1 711.6,634.2 711.6,639.1 711.9,638.8 711.9,634.0 712.2,633.7 712.2,639.7 712.5,639.6 712.5,633.4 712.8,633.1 712.8,639.2 713.1,639.4 713.1,633.6 713.4,630.1 713.4,639.9 713.7,640.2 713.7,620.1 714.0,613.7 714.0,640.0 714.3,640.6 714.3,613.9 714.6,620.7 714.6,640.8 714.9,640.4 714.9,625.0 715.2,625.4 715.2,640.9 715.5,641.2 715.5,625.4 715.8,625.5 715.8,641.2 716.1,641.4 716.1,625.5 716.4,625.5 716.4,642.2 716.7,642.2 716.7,625.5 717.0,624.7 717.0,642.7 717.3,642.6 717.3,624.1 717.6,624.1 717.6,642.1 717.9,642.3 717.9,623.8 718.2,622.7 718.2,642.1 718.5,642.4 718.5,622.6 718.8,622.2 718.8,642.9 719.1,643.4 719.1,623.2 719.4,622.3 719.4,643.8 719.7,644.4 719.7,622.2 720.0,627.4 720.0,644.3 720.3,644.4 720.3,627.1 720.6,627.1 720.6,644.7 720.9,645.5 720.9,626.8 721.2,626.3 721.2,645.6 721.5,645.5 721.5,626.5 721.8,626.8 721.8,645.6 722.1,645.8 722.1,621.8 722.4,615.2 722.4,645.8 722.7,645.7 722.7,608.5 723.0,605.7 723.0,645.4 723.3,645.3 723.3,605.9 723.6,608.2 723.6,645.8 723.9,645.6 723.9,624.1 724.2,628.7 724.2,645.9 724.5,645.6 724.5,629.2 724.8,630.1 724.8,646.1 725.1,646.0 725.1,630.8 725.4,630.7 725.4,646.4 725.7,645.9 725.7,631.3 726.0,631.6 726.0,646.3 726.3,646.7 726.3,631.7 726.6,631.7 726.6,646.6 726.9,646.6 726.9,631.4 727.2,631.4 727.2,647.0 727.5,647.4 727.5,628.6 727.8,625.4 727.8,647.2 728.1,646.5 728.1,626.3 728.4,621.8 728.4,646.5 728.7,646.6 728.7,627.1 729.0,627.8 729.0,645.7 729.3,646.0 729.3,627.9 729.6,627.5 729.6,645.7 729.9,645.6 729.9,627.5 730.2,627.5 730.2,645.6 730.5,645.7 730.5,627.2 730.8,627.1 730.8,645.9 731.1,646.2 731.1,626.7 731.4,628.7 731.4,646.1 731.7,646.4 731.7,629.7 732.0,631.2 732.0,646.6 732.3,646.2 732.3,632.2 732.6,632.8 732.6,647.1 732.9,647.1 732.9,632.5 733.2,632.7 733.2,647.9 733.5,648.6 733.5,633.1 733.8,633.1 733.8,647.3 734.1,646.8 734.1,632.9 734.4,632.9 734.4,646.7 734.7,646.4 734.7,630.5 735.0,629.4 735.0,645.9 735.3,646.3 735.3,628.6 735.6,628.7 735.6,646.1 735.9,645.6 735.9,628.8 736.2,628.8 736.2,645.7 736.5,646.5 736.5,628.1 736.8,628.5 736.8,645.8 737.1,646.3 737.1,627.3 737.4,626.0 737.4,645.7 737.7,646.2 737.7,624.9 738.0,623.6 738.0,646.0 738.3,645.1 738.3,623.0 738.6,621.9 738.6,643.3 738.9,641.7 738.9,620.3 739.2,621.0 739.2,641.9 739.5,641.4 739.5,625.2 739.8,628.2 739.8,641.5 740.1,641.6 740.1,628.1 740.4,628.6 740.4,641.2 740.7,641.3 740.7,628.2 741.0,629.1 741.0,641.4 741.3,641.8 741.3,629.2 741.6,628.7 741.6,642.9 741.9,643.8 741.9,628.9 742.2,629.4 742.2,644.3 742.5,644.2 742.5,629.4 742.8,630.1 742.8,644.8 743.1,645.6 743.1,629.8 743.4,629.8 743.4,645.9 743.7,646.0 743.7,630.4 744.0,630.6 744.0,645.8 744.3,646.0 744.3,630.1 744.6,632.3 744.6,645.4 744.9,646.2 744.9,637.1 745.2,637.0 745.2,646.5 745.5,646.5 745.5,637.1 745.8,637.5 745.8,646.4 746.1,646.5 746.1,637.2 746.4,637.9 746.4,646.1 746.7,646.3 746.7,637.6 747.0,637.4 747.0,646.4 747.3,646.5 747.3,636.0 747.6,634.9 747.6,645.9 747.9,646.5 747.9,633.3 748.2,631.7 748.2,647.0 748.5,646.6 748.5,631.1 748.8,631.5 748.8,646.5 749.1,646.6 749.1,631.5 749.4,631.2 749.4,646.5 749.7,646.1 749.7,631.3 750.0,628.9 750.0,646.8 750.3,647.0 750.3,623.2 750.6,621.8 750.6,647.2 750.9,647.4 750.9,620.2 751.2,623.6 751.2,691.2 751.5,698.2 751.5,625.1 751.8,628.4 751.8,669.8 752.1,645.9 752.1,630.9 752.4,631.5 752.4,643.6 752.7,642.6 752.7,631.3 753.0,630.8 753.0,642.9 753.3,642.3 753.3,630.8 753.6,631.3 753.6,642.8 753.9,642.7 753.9,631.0 754.2,629.3 754.2,643.0 754.5,642.4 754.5,624.9 754.8,620.0 754.8,663.3 755.1,642.7 755.1,618.3 755.4,618.2 755.4,642.5 755.7,642.5 755.7,626.3 756.0,629.9 756.0,642.1 756.3,641.9 756.3,630.5 756.6,630.3 756.6,642.2 756.9,642.6 756.9,633.3 757.2,634.0 757.2,642.5 757.5,642.5 757.5,634.1 757.8,634.2 757.8,643.0 758.1,643.6 758.1,633.9 758.4,633.9 758.4,644.0 758.7,644.0 758.7,634.3 759.0,634.7 759.0,644.9 759.3,644.8 759.3,633.0 759.6,631.1 759.6,647.4 759.9,658.0 759.9,630.4 760.2,627.3 760.2,660.3 760.5,660.3 760.5,630.3 760.8,629.9 760.8,660.0 761.1,660.1 761.1,630.1 761.4,630.1 761.4,660.0 761.7,658.7 761.7,630.5 762.0,630.2 762.0,648.5 762.3,645.8 762.3,624.5 762.6,621.0 762.6,646.0 762.9,645.0 762.9,626.5 763.2,614.0 763.2,644.9 763.5,644.9 763.5,626.9 763.8,627.1 763.8,644.9 764.1,644.6 764.1,626.7 764.4,626.4 764.4,644.2 764.7,644.2 764.7,626.9 765.0,626.6 765.0,643.4 765.3,643.4 765.3,627.3 765.6,627.2 765.6,643.7 765.9,643.8 765.9,626.3 766.2,626.0 766.2,644.0 766.5,643.9 766.5,626.4 766.8,615.5 766.8,643.8 767.1,644.1 767.1,597.1 767.4,597.1 767.4,644.5 767.7,644.2 767.7,597.6 768.0,619.5 768.0,644.2 768.3,643.9 768.3,633.3 768.6,633.1 768.6,644.8 768.9,644.7 768.9,633.1 769.2,633.3 769.2,644.5 769.5,643.6 769.5,634.0 769.8,633.5 769.8,652.4 770.1,664.5 770.1,633.6 770.4,633.3 770.4,675.7 770.7,676.0 770.7,632.3 771.0,632.5 771.0,668.5 771.3,650.9 771.3,632.1 771.6,631.6 771.6,645.8 771.9,646.1 771.9,628.4 772.2,627.3 772.2,645.6 772.5,645.7 772.5,623.5 772.8,628.3 772.8,645.8 773.1,645.6 773.1,628.3 773.4,628.1 773.4,645.9 773.7,645.6 773.7,628.8 774.0,628.4 774.0,646.3 774.3,645.7 774.3,628.3 774.6,628.5 774.6,645.9 774.9,645.2 774.9,627.4 775.2,625.5 775.2,645.2 775.5,645.9 775.5,624.0 775.8,623.4 775.8,645.3 776.1,645.6 776.1,623.3 776.4,622.7 776.4,646.4 776.7,646.1 776.7,622.3 777.0,622.4 777.0,646.2 777.3,646.3 777.3,621.6 777.6,622.3 777.6,646.1 777.9,645.9 777.9,622.4 778.2,621.8 778.2,645.5 778.5,645.4 778.5,621.6 778.8,621.7 778.8,645.2 779.1,645.4 779.1,621.6 779.4,621.8 779.4,645.0 779.7,645.1 779.7,621.7 780.0,621.5 780.0,645.9 780.3,645.8 780.3,621.6 780.6,621.6 780.6,646.0 780.9,646.3 780.9,620.6 781.2,620.2 781.2,646.0 781.5,646.7 781.5,621.3 781.8,622.1 781.8,648.8 782.1,648.7 782.1,622.8 782.4,624.1 782.4,646.7 782.7,645.6 782.7,626.6 783.0,629.1 783.0,645.3 783.3,645.8 783.3,631.4 783.6,632.7 783.6,645.5 783.9,645.6 783.9,632.8 784.2,632.4 784.2,645.8 784.5,645.4 784.5,632.5 784.8,632.3 784.8,645.6 785.1,645.9 785.1,632.8 785.4,632.9 785.4,645.9 785.7,646.0 785.7,630.5 786.0,627.0 786.0,646.2 786.3,646.3 786.3,625.5 786.6,632.6 786.6,648.7 786.9,651.9 786.9,624.6 787.2,639.6 787.2,654.5 787.5,655.2 787.5,639.2 787.8,639.7 787.8,655.3 788.1,656.1 788.1,639.6 788.4,639.6 788.4,657.0 788.7,658.2 788.7,639.7 789.0,638.9 789.0,658.4 789.3,659.0 789.3,637.6 789.6,636.7 789.6,659.7 789.9,662.6 789.9,635.0 790.2,634.8 790.2,666.0 790.5,669.1 790.5,637.9 790.8,640.6 790.8,664.6 791.1,659.9 791.1,642.8 791.4,642.9 791.4,670.9 791.7,659.4 791.7,642.8 792.0,642.8 792.0,658.9 792.3,658.2 792.3,643.4 792.6,643.3 792.6,657.8 792.9,657.3 792.9,643.1 793.2,642.4 793.2,656.8 793.5,656.5 793.5,640.7 793.8,639.1 793.8,656.8 794.1,656.5 794.1,636.0 794.4,636.3 794.4,656.5 794.7,656.3 794.7,640.6 795.0,641.8 795.0,656.3 795.3,656.1 795.3,641.4 795.6,641.4 795.6,656.4 795.9,657.1 795.9,641.2 796.2,641.5 796.2,657.0 796.5,657.5 796.5,642.0 796.8,644.8 796.8,657.1 797.1,657.8 797.1,646.9 797.4,648.9 797.4,658.5 797.7,658.7 797.7,649.9 798.0,650.8 798.0,658.4 798.3,658.9 798.3,651.7 798.6,653.1 798.6,658.7"/>
<polyline id="s150" stroke="#008000" points="305.2,707.9 305.2,710.5 305.7,710.4 305.7,707.9 306.0,707.4 306.0,710.1 306.3,710.2 306.3,706.6 306.6,706.4 306.6,710.0 306.9,709.7 306.9,705.8 307.2,705.3 307.2,709.5 307.5,709.2 307.5,705.4 307.8,705.5 307.8,709.3 308.1,709.6 308.1,705.4 308.4,705.3 308.4,709.7 308.7,709.2 308.7,706.6 309.0,706.2 309.0,709.7 309.3,709.7 309.3,706.3 309.6,706.2 309.6,709.4 309.9,708.9 309.9,706.7 310.2,706.8 310.2,709.0 310.6,710.1 310.6,707.5 310.9,707.8 310.9,710.5 311.2,710.3 311.2,707.9 311.7,707.8 311.7,710.4 312.1,710.7 312.1,707.4 312.4,707.5 312.4,711.0 312.7,711.6 312.7,707.6 313.0,707.7 313.0,711.2 313.3,710.7 313.3,707.3 313.6,707.0 313.6,710.8 313.9,710.1 313.9,707.2 314.2,707.7 314.2,710.1 314.5,710.2 314.5,708.3 315.0,707.5 315.0,710.6 315.3,710.3 315.3,707.4 315.6,707.9 315.6,709.8 316.0,709.6 316.0,707.6 316.3,707.2 316.3,710.2 316.6,709.9 316.6,706.2 316.9,706.8 316.9,709.7 317.2,710.0 317.2,706.8 317.5,707.5 317.5,710.2 317.8,710.3 317.8,706.9 318.1,706.8 318.1,710.0 318.4,709.5 318.4,706.9 318.9,707.3 318.9,709.7 319.3,710.5 319.3,708.1 319.6,708.2 319.6,710.7 319.9,710.2 319.9,707.9 320.4,708.9 320.4,710.4 320.8,710.5 320.8,708.3 321.1,707.7 321.1,710.5 321.4,710.4 321.4,708.0 321.9,708.1 321.9,710.6 322.2,711.0 322.2,708.8 322.6,708.3 322.6,710.5 323.1,709.4 323.1,707.9 323.5,707.7 323.5,710.8 323.8,710.9 323.8,708.2 324.1,707.6 324.1,710.9 324.4,710.8 324.4,707.7 324.7,707.0 324.7,709.8 325.0,710.1 325.0,706.2 325.3,707.5 325.3,710.2 325.6,710.4 325.6,706.9 325.9,706.4 325.9,710.9 326.2,710.8 326.2,706.7 326.5,706.9 326.5,710.7 326.8,710.1 326.8,707.3 327.1,707.5 327.1,710.9 327.4,711.1 327.4,707.1 327.7,707.5 327.7,710.8 328.0,710.7 328.0,708.0 328.3,708.1 328.3,710.6 328.8,709.7 328.8,707.9 329.2,707.9 329.2,709.0 329.8,708.3 329.8,707.8 330.4,707.6 330.4,708.2 330.7,707.8 330.7,707.0 331.0,706.1 331.0,707.7 331.3,707.2 331.3,705.5 331.6,704.4 331.6,707.1 331.9,707.5 331.9,704.1 332.2,704.4 332.2,707.3 332.5,707.9 332.5,704.7 332.8,704.3 332.8,707.8 333.1,708.1 333.1,704.4 333.4,704.2 333.4,707.4 333.7,706.7 333.7,704.3 334.2,704.5 334.2,706.4 334.6,706.3 334.6,703.7 334.9,703.6 334.9,706.2 335.4,706.0 335.4,703.8 335.8,704.0 335.8,705.4 336.3,705.3 336.3,703.8 336.7,703.4 336.7,704.9 337.2,704.7 337.2,703.3 337.8,702.8 337.8,704.7 338.2,704.0 338.2,702.5 338.7,701.9 338.7,704.3 339.1,704.2 339.1,701.4 339.6,701.4 339.6,703.7 339.9,703.7 339.9,701.3 340.3,701.4 340.3,703.2 340.8,703.2 340.8,700.9 341.1,700.3 341.1,703.3 341.4,703.5 341.4,700.8 341.7,700.8 341.7,703.8 342.0,703.5 342.0,700.3 342.3,700.3 342.3,703.4 342.6,702.9 342.6,700.0 342.9,700.2 342.9,702.8 343.3,702.6 343.3,700.5 343.8,699.6 343.8,702.1 344.1,702.1 344.1,699.4 344.4,699.1 344.4,702.0 344.8,702.1 344.8,699.7 345.3,699.4 345.3,701.8 345.7,702.3 345.7,699.6 346.0,699.1 346.0,702.0 346.3,702.2 346.3,699.2 346.8,699.6 346.8,701.1 347.2,701.0 347.2,699.6 347.7,699.6 347.7,701.2 348.1,700.7 348.1,699.5 348.6,699.6 348.6,701.1 349.0,701.2 349.0,699.5 349.5,699.5 349.5,700.8 349.9,700.9 349.9,700.0 350.5,699.6 350.5,700.7 351.1,700.8 351.1,700.2 351.7,700.2 351.7,700.9 352.3,701.0 352.3,699.8 352.8,700.1 352.8,701.8 353.1,701.1 353.1,692.2 353.4,675.9 353.4,700.1 353.7,689.2 353.7,657.3 354.0,657.3 354.0,675.3 354.3,675.4 354.3,657.6 354.6,656.9 354.6,675.5 354.9,675.7 354.9,658.2 355.2,658.2 355.2,675.8 355.5,675.3 355.5,658.7 355.8,664.6 355.8,675.2 356.1,674.9 356.1,666.1 356.4,665.7 356.4,675.7 356.7,675.2 356.7,666.0 357.0,666.2 357.0,675.2 357.3,675.3 357.3,666.2 357.6,665.9 357.6,674.9 357.9,674.9 357.9,665.9 358.2,665.3 358.2,674.6 358.5,674.7 358.5,664.8 358.8,664.9 358.8,674.6 359.1,674.3 359.1,664.6 359.4,665.1 359.4,674.2 359.7,675.0 359.7,665.2 360.0,665.3 360.0,675.1 360.3,675.0 360.3,664.8 360.6,661.4 360.6,675.7 360.9,674.9 360.9,657.8 361.2,657.4 361.2,674.7 361.5,674.5 361.5,656.7 361.8,657.1 361.8,675.5 362.1,675.2 362.1,656.7 362.4,656.9 362.4,675.4 362.7,674.8 362.7,657.0 363.0,666.6 363.0,679.3 363.3,689.5 363.3,681.3 363.6,687.1 363.6,689.3 364.0,689.8 364.0,687.3 364.5,687.5 364.5,689.4 364.9,689.5 364.9,687.5 365.2,687.2 365.2,689.8 365.5,689.6 365.5,687.3 366.0,687.4 366.0,689.3 366.4,688.7 366.4,677.0 366.7,665.3 366.7,682.1 367.0,674.9 367.0,659.9 367.3,656.5 367.3,675.0 367.6,675.4 367.6,656.8 367.9,662.5 367.9,674.5 368.2,675.2 368.2,658.7 368.5,656.1 368.5,675.2 368.8,675.5 368.8,656.4 369.1,657.2 369.1,675.7 369.4,675.6 369.4,657.4 369.7,659.0 369.7,675.9 370.0,674.4 370.0,661.8 370.3,663.9 370.3,671.4 370.6,670.9 370.6,665.5 370.9,667.9 370.9,670.4 371.2,669.7 371.2,669.0 371.5,666.3 371.5,670.4 371.8,670.2 371.8,667.5 372.1,668.2 372.1,671.1 372.4,671.0 372.4,669.1 372.7,670.2 372.7,671.5 373.0,671.7 373.0,670.5 373.3,671.2 373.3,672.4 373.9,672.4 373.9,671.8 374.2,664.9 374.2,672.3 374.5,672.1 374.5,657.2 374.8,657.2 374.8,671.3 375.1,670.9 375.1,657.3 375.4,657.0 375.4,668.7 375.7,664.0 375.7,660.6 376.0,660.4 376.0,663.9 376.3,664.3 376.3,660.6 376.6,660.6 376.6,664.3 376.9,664.5 376.9,661.5 377.2,661.4 377.2,664.0 377.5,663.9 377.5,661.2 377.8,660.7 377.8,664.5 378.1,664.5 378.1,660.3 378.4,660.8 378.4,664.6 378.7,663.5 378.7,660.9 379.0,661.0 379.0,663.5 379.3,662.9 379.3,660.3 379.8,660.5 379.8,662.5 380.2,661.5 380.2,660.2 380.7,659.9 380.7,661.6 381.1,661.6 381.1,660.4 381.6,660.3 381.6,661.4 382.0,661.4 382.0,659.5 382.3,658.3 382.3,661.2 382.6,661.3 382.6,658.8 382.9,658.7 382.9,661.2 383.2,661.5 383.2,658.7 383.5,658.1 383.5,667.8 383.8,674.8 383.8,658.7 384.1,659.8 384.1,681.5 384.4,688.9 384.4,672.1 384.7,680.6 384.7,689.8 385.0,690.3 385.0,687.4 385.5,688.0 385.5,690.1 385.8,690.1 385.8,688.1 386.1,688.7 386.1,690.2 386.7,690.2 386.7,689.3 387.0,689.6 387.0,690.5 387.3,691.1 387.3,688.6 387.6,689.3 387.6,691.7 387.9,692.6 387.9,689.6 388.2,689.7 388.2,692.9 388.5,693.0 388.5,690.7 388.8,691.4 388.8,693.5 389.1,694.5 389.1,692.3 389.4,692.7 389.4,694.7 389.7,694.7 389.7,693.2 390.0,693.9 390.0,695.6 390.4,696.7 390.4,694.8 390.9,695.9 390.9,697.9 391.3,698.7 391.3,696.7 391.8,697.9 391.8,699.3 392.2,700.5 392.2,699.0 392.7,699.7 392.7,701.1 393.1,702.1 393.1,700.0 393.6,701.2 393.6,702.5 394.0,703.5 394.0,701.4 394.5,702.1 394.5,704.0 394.8,704.4 394.8,702.2 395.1,702.6 395.1,703.4 395.4,703.7 395.4,702.8 395.8,702.5 395.8,703.7 396.3,704.1 396.3,702.1 396.7,702.3 396.7,703.7 397.2,704.3 397.2,702.1 397.6,702.1 397.6,704.0 398.1,703.9 398.1,702.5 398.5,702.1 398.5,703.4 398.8,703.7 398.8,702.4 399.3,702.2 399.3,703.6 399.7,703.1 399.7,699.1 400.0,698.1 400.0,700.8 400.5,700.0 400.5,697.4 400.9,697.0 400.9,699.5 401.2,698.4 401.2,698.1 401.8,697.4 401.8,697.9 402.4,697.7 402.4,697.1 403.0,696.7 403.0,697.0 403.6,696.7 403.6,696.0 404.1,695.1 404.1,697.3 404.5,697.7 404.5,694.2 404.8,694.6 404.8,697.8 405.1,697.9 405.1,694.6 405.4,694.3 405.4,698.0 405.7,697.6 405.7,693.9 406.0,693.9 406.0,697.1 406.3,696.2 406.3,693.4 406.6,693.6 406.6,696.6 406.9,696.7 406.9,693.3 407.2,693.7 407.2,696.6 407.5,696.2 407.5,693.9 407.8,693.2 407.8,697.4 408.1,697.3 408.1,693.1 408.4,692.1 408.4,697.5 408.7,697.0 408.7,690.1 409.0,686.7 409.0,697.7 409.3,697.1 409.3,683.9 409.6,688.4 409.6,696.8 409.9,696.7 409.9,692.7 410.2,695.8 410.2,696.8 410.8,696.9 410.8,695.9 411.3,696.5 411.3,696.9 411.9,696.9 411.9,696.4 412.5,696.7 412.5,697.1 413.1,697.1 413.1,696.4 413.7,696.6 413.7,697.1 414.3,697.0 414.3,696.6 414.6,694.7 414.6,697.0 414.9,697.0 414.9,692.5 415.2,691.4 415.2,696.9 415.5,696.8 415.5,691.0 415.8,691.6 415.8,697.0 416.1,697.3 416.1,692.1 416.4,693.0 416.4,697.3 416.7,697.2 416.7,694.4 417.0,695.2 417.0,697.7 417.4,697.9 417.4,695.2 417.9,695.3 417.9,697.6 418.3,697.6 418.3,695.4 418.8,695.2 418.8,697.3 419.2,697.1 419.2,695.7 419.7,695.6 419.7,697.0 420.3,696.8 420.3,695.8 420.7,696.1 420.7,696.6 421.2,696.7 421.2,695.9 421.8,695.8 421.8,696.8 422.4,696.8 422.4,695.2 422.8,694.8 422.8,697.1 423.1,697.1 423.1,694.3 423.4,694.8 423.4,696.9 423.9,697.6 423.9,694.9 424.2,694.8 424.2,697.4 424.5,697.1 424.5,694.0 424.8,694.2 424.8,697.1 425.1,696.4 425.1,694.2 425.5,694.5 425.5,696.0 426.0,696.3 426.0,694.3 426.4,694.2 426.4,697.5 426.7,697.8 426.7,694.3 427.0,694.7 427.0,697.5 427.3,697.5 427.3,694.5 427.6,694.5 427.6,697.4 427.9,698.0 427.9,695.4 428.2,696.0 428.2,698.3 428.7,698.7 428.7,696.8 429.1,696.8 429.1,700.5 429.4,700.6 429.4,697.1 429.7,697.1 429.7,700.2 430.0,699.6 430.0,696.7 430.3,697.4 430.3,699.3 430.8,699.1 430.8,697.0 431.2,697.8 431.2,699.0 431.7,698.5 431.7,697.5 432.3,696.6 432.3,698.3 432.7,698.2 432.7,696.7 433.2,697.0 433.2,698.0 433.6,698.2 433.6,696.4 434.1,696.0 434.1,698.8 434.4,698.8 434.4,693.9 434.7,690.5 434.7,698.6 435.0,698.7 435.0,690.7 435.3,693.2 435.3,698.6 435.6,697.6 435.6,694.9 435.9,696.3 435.9,697.2 436.3,697.3 436.3,696.4 436.9,697.1 436.9,697.5 437.5,697.5 439.1,697.4 439.3,697.8 439.3,695.8 439.6,695.7 439.6,697.6 439.9,697.6 439.9,696.8 440.5,695.9 440.5,697.6 441.0,697.8 441.0,694.5 441.3,693.7 441.3,698.4 441.6,697.8 441.6,693.6 441.9,694.1 441.9,698.1 442.2,697.5 442.2,693.0 442.5,692.7 442.5,697.6 442.8,698.2 442.8,692.8 443.1,693.4 443.1,698.3 443.4,698.0 443.4,693.4 443.7,693.2 443.7,697.7 444.0,697.6 444.0,692.5 444.3,692.6 444.3,697.4 444.6,697.3 444.6,692.2 444.9,691.2 444.9,696.4 445.2,696.5 445.2,690.1 445.5,687.8 445.5,696.5 445.8,696.6 445.8,686.1 446.1,684.8 446.1,696.4 446.4,696.5 446.4,684.2 446.7,684.2 446.7,697.1 447.0,698.1 447.0,684.1 447.3,685.0 447.3,698.0 447.6,697.5 447.6,684.8 447.9,685.2 447.9,696.9 448.2,696.6 448.2,684.7 448.5,685.5 448.5,697.4 448.8,697.1 448.8,686.9 449.1,686.8 449.1,697.1 449.4,696.6 449.4,686.9 449.7,687.0 449.7,696.6 450.0,696.4 450.0,687.8 450.3,690.4 450.3,695.9 450.6,696.1 450.6,692.6 450.9,694.1 450.9,696.1 451.3,696.6 451.3,694.3 451.8,694.3 451.8,696.7 452.2,696.7 452.2,695.5 452.7,695.7 452.7,697.1 453.1,697.5 453.1,695.8 453.6,696.5 453.6,697.5 454.2,697.5 454.2,696.9 454.8,697.5 454.8,698.2 455.4,698.2 455.4,697.6 456.0,698.1 456.0,698.5 456.6,698.6 456.8,699.5 456.8,697.7 457.2,698.3 457.2,699.2 457.8,699.4 457.8,698.3 458.4,699.1 458.4,699.6 459.0,700.1 459.0,699.3 459.6,699.5 459.6,700.2 460.2,699.9 461.0,700.1 461.2,700.3 461.2,700.0 461.8,699.8 461.8,700.5 462.4,700.4 462.4,700.1 463.0,699.4 463.0,700.2 463.3,700.5 463.3,697.3 463.6,695.0 463.6,700.6 463.9,700.2 463.9,693.4 464.2,691.1 464.2,700.3 464.5,699.9 464.5,690.0 464.8,688.6 464.8,700.1 465.1,700.1 465.1,687.3 465.4,686.2 465.4,700.2 465.7,699.3 465.7,686.6 466.0,687.2 466.0,699.8 466.3,699.8 466.3,688.8 466.6,690.2 466.6,699.5 466.9,699.2 466.9,691.9 467.2,692.9 467.2,699.1 467.5,699.3 467.5,694.2 467.8,695.7 467.8,699.2 468.1,699.9 468.1,697.2 468.4,698.1 468.4,700.6 468.9,701.1 468.9,698.7 469.2,699.1 469.2,701.8 469.5,703.3 469.5,698.8 469.8,698.6 469.8,703.4 470.1,702.1 470.1,698.2 470.4,697.6 470.4,701.9 470.7,702.7 470.7,697.4 471.0,696.9 471.0,702.9 471.3,702.3 471.3,696.4 471.6,695.9 471.6,701.7 471.9,701.1 471.9,695.8 472.2,695.7 472.2,701.7 472.5,701.3 472.5,695.3 472.8,694.8 472.8,701.2 473.1,701.3 473.1,693.8 473.4,694.0 473.4,701.5 473.7,701.0 473.7,693.3 474.0,693.0 474.0,700.4 474.3,700.1 474.3,691.6 474.6,689.9 474.6,699.7 474.9,700.0 474.9,689.0 475.2,688.6 475.2,699.6 475.5,699.6 475.5,687.4 475.8,686.8 475.8,699.0 476.1,699.0 476.1,685.1 476.4,684.0 476.4,698.4 476.7,698.0 476.7,684.2 477.0,684.9 477.0,697.7 477.3,698.0 477.3,686.3 477.6,686.8 477.6,697.4 477.9,697.6 477.9,687.3 478.2,687.8 478.2,696.8 478.5,696.6 478.5,688.5 478.8,688.8 478.8,696.0 479.1,696.5 479.1,688.8 479.4,689.0 479.4,696.8 479.7,697.5 479.7,689.5 480.0,689.1 480.0,697.6 480.3,697.5 480.3,688.7 480.6,687.7 480.6,697.4 480.9,697.4 480.9,687.4 481.2,687.9 481.2,697.3 481.5,696.8 481.5,687.8 481.8,687.8 481.8,696.5 482.1,696.2 482.1,687.8 482.4,687.5 482.4,696.0 482.7,696.7 482.7,687.9 483.0,687.6 483.0,696.4 483.3,696.4 483.3,688.1 483.6,687.9 483.6,696.5 483.9,697.1 483.9,688.6 484.2,687.6 484.2,697.2 484.5,696.5 484.5,688.0 484.8,687.9 484.8,696.9 485.1,696.8 485.1,688.5 485.4,688.7 485.4,697.3 485.7,697.4 485.7,688.2 486.0,688.5 486.0,696.8 486.3,696.7 486.3,688.6 486.6,688.8 486.6,697.1 486.9,697.4 486.9,689.6 487.2,689.4 487.2,697.6 487.5,697.5 487.5,688.8 487.8,687.8 487.8,697.8 488.1,697.9 488.1,686.9 488.4,686.4 488.4,698.2 488.7,698.2 488.7,684.2 489.0,684.5 489.0,698.5 489.3,698.2 489.3,690.0 489.6,690.4 489.6,698.2 489.9,697.4 489.9,690.9 490.2,691.3 490.2,697.5 490.5,696.8 490.5,691.9 490.8,691.7 490.8,697.0 491.1,697.7 491.1,691.3 491.4,691.0 491.4,697.2 491.7,697.8 491.7,692.0 492.0,691.5 492.0,697.4 492.3,697.3 492.3,691.1 492.6,690.5 492.6,697.0 492.9,697.5 492.9,691.0 493.2,690.3 493.2,698.1 493.5,698.2 493.5,687.2 493.8,684.1 493.8,698.6 494.1,698.2 494.1,683.1 494.4,682.9 494.4,697.9 494.7,697.5 494.7,685.4 495.0,681.4 495.0,697.8 495.3,697.9 495.3,681.6 495.6,691.4 495.6,697.9 495.9,697.4 495.9,692.0 496.2,693.4 496.2,697.6 496.5,697.9 496.5,694.9 496.8,695.3 496.8,697.5 497.2,697.7 497.2,695.7 497.7,696.5 497.7,698.1 498.1,698.0 498.1,696.8 498.7,697.5 498.7,697.9 499.3,697.8 499.3,697.5 499.9,697.4 499.9,697.9 500.5,698.0 500.5,697.5 500.8,696.7 500.8,698.3 501.1,697.8 501.1,696.0 501.6,695.3 501.6,698.6 501.9,698.7 501.9,695.6 502.2,695.6 502.2,698.5 502.5,697.5 502.5,695.3 502.9,695.0 502.9,697.5 503.2,697.6 503.2,679.8 503.5,664.9 503.5,697.3 503.8,697.8 503.8,665.8 504.1,665.3 504.1,697.6 504.4,697.8 504.4,665.5 504.7,673.2 504.7,698.0 505.0,698.2 505.0,696.2 505.3,698.0 506.3,697.8 506.5,697.6 506.5,697.9 507.1,697.5 507.1,689.1 507.4,682.3 507.4,698.1 507.7,698.0 507.7,682.0 508.0,682.4 508.0,697.9 508.3,696.9 508.3,681.8 508.6,682.6 508.6,695.8 508.9,695.7 508.9,683.0 509.2,685.4 509.2,695.4 509.5,694.7 509.5,685.7 509.8,685.4 509.8,694.4 510.1,694.7 510.1,685.4 510.4,685.8 510.4,694.9 510.7,694.8 510.7,685.8 511.0,685.6 511.0,694.4 511.3,693.5 511.3,685.4 511.6,685.6 511.6,693.6 511.9,693.5 511.9,685.7 512.2,685.0 512.2,693.8 512.5,694.1 512.5,685.1 512.8,684.5 512.8,693.6 513.1,694.0 513.1,685.0 513.4,685.6 513.4,694.4 513.7,694.2 513.7,686.0 514.0,686.5 514.0,694.5 514.3,693.7 514.3,686.1 514.6,685.9 514.6,693.4 514.9,694.4 514.9,686.0 515.2,685.8 515.2,693.6 515.5,693.8 515.5,685.0 515.8,684.6 515.8,693.4 516.1,693.8 516.1,684.7 516.4,685.3 516.4,693.9 516.7,693.4 516.7,685.4 517.0,685.7 517.0,693.3 517.3,693.4 517.3,685.5 517.6,685.5 517.6,692.7 517.9,692.4 517.9,685.0 518.2,685.4 518.2,692.3 518.5,693.5 518.5,684.8 518.8,684.7 518.8,693.6 519.1,693.2 519.1,684.8 519.4,684.6 519.4,693.0 519.7,693.2 519.7,684.5 520.0,684.8 520.0,693.3 520.3,693.2 520.3,683.6 520.6,685.2 520.6,692.6 520.9,692.6 520.9,685.2 521.2,685.4 521.2,692.7 521.5,693.0 521.5,686.0 521.8,686.8 521.8,693.7 522.1,694.1 522.1,688.0 522.4,688.6 522.4,693.8 522.7,693.7 522.7,689.4 523.0,688.9 523.0,694.0 523.3,693.8 523.3,688.6 523.6,688.4 523.6,693.7 523.9,694.3 523.9,688.8 524.2,688.5 524.2,694.9 524.5,695.1 524.5,689.3 524.8,690.1 524.8,694.9 525.1,694.8 525.1,689.7 525.4,690.2 525.4,694.4 525.7,694.5 525.7,690.3 526.0,690.6 526.0,695.0 526.3,694.9 526.3,689.6 526.6,689.4 526.6,694.7 526.9,694.8 526.9,689.0 527.2,689.4 527.2,695.2 527.5,695.7 527.5,689.3 527.8,689.2 527.8,696.6 528.1,696.3 528.1,684.4 528.4,684.3 528.4,696.5 528.7,695.9 528.7,686.1 529.0,688.2 529.0,695.9 529.3,696.1 529.3,689.0 529.6,688.3 529.6,696.5 529.9,696.9 529.9,688.8 530.2,688.5 530.2,697.6 530.5,697.8 530.5,688.5 530.8,688.6 530.8,698.2 531.1,698.1 531.1,688.6 531.4,686.1 531.4,698.8 531.7,699.3 531.7,688.4 532.0,690.5 532.0,699.7 532.3,699.7 532.3,693.0 532.6,693.6 532.6,699.6 532.9,699.8 532.9,694.0 533.2,694.2 533.2,699.9 533.5,700.2 533.5,694.0 533.8,694.2 533.8,699.9 534.1,700.6 534.1,694.1 534.4,694.0 534.4,701.3 534.7,701.4 534.7,694.6 535.0,694.7 535.0,701.0 535.3,700.5 535.3,694.8 535.6,694.0 535.6,700.6 535.9,700.5 535.9,694.1 536.2,694.1 536.2,700.5 536.5,700.8 536.5,694.3 536.8,693.4 536.8,701.3 537.1,701.2 537.1,693.4 537.4,695.0 537.4,701.9 537.7,701.2 537.7,695.7 538.0,695.8 538.0,701.1 538.3,701.1 538.3,695.6 538.6,695.7 538.6,701.2 538.9,701.3 538.9,695.2 539.2,694.8 539.2,701.6 539.5,701.3 539.5,694.8 539.8,694.4 539.8,701.1 540.1,700.4 540.1,695.4 540.4,695.1 540.4,700.7 540.7,700.4 540.7,694.8 541.0,695.1 541.0,701.1 541.3,701.1 541.3,695.3 541.6,695.4 541.6,700.9 541.9,701.0 541.9,695.8 542.2,695.5 542.2,701.2 542.5,701.7 542.5,694.7 542.8,694.8 542.8,701.3 543.1,701.2 543.1,693.8 543.4,693.6 543.4,701.6 543.7,701.6 543.7,696.0 544.0,697.2 544.0,700.7 544.3,700.6 544.3,697.0 544.6,696.9 544.6,701.0 544.9,701.3 544.9,696.9 545.2,697.2 545.2,701.7 545.5,701.3 545.5,697.1 545.8,696.8 545.8,701.3 546.1,701.0 546.1,697.2 546.4,696.7 546.4,700.5 546.7,701.0 546.7,696.4 547.0,696.7 547.0,701.7 547.3,702.1 547.3,697.0 547.6,696.3 547.6,701.9 547.9,702.0 547.9,695.2 548.2,694.9 548.2,702.5 548.5,702.1 548.5,695.1 548.8,695.5 548.8,702.1 549.1,701.8 549.1,695.9 549.4,694.9 549.4,702.1 549.7,701.5 549.7,695.0 550.0,694.9 550.0,701.6 550.3,702.4 550.3,694.7 550.6,694.0 550.6,701.7 550.9,701.6 550.9,694.2 551.2,694.7 551.2,701.4 551.5,701.4 551.5,694.4 551.8,694.4 551.8,702.1 552.1,701.8 552.1,694.0 552.4,693.7 552.4,701.8 552.7,700.9 552.7,693.5 553.0,693.2 553.0,700.8 553.3,700.3 553.3,692.5 553.6,692.2 553.6,700.9 553.9,700.5 553.9,692.7 554.2,692.8 554.2,700.6 554.5,700.9 554.5,691.1 554.8,691.1 554.8,701.2 555.1,701.5 555.1,694.9 555.4,695.4 555.4,701.5 555.7,700.8 555.7,695.4 556.0,694.7 556.0,700.4 556.3,700.7 556.3,694.8 556.6,695.5 556.6,701.4 556.9,700.9 556.9,695.8 557.2,696.5 557.2,700.7 557.5,701.0 557.5,696.7 557.8,696.5 557.8,699.1 558.1,697.8 558.1,695.8 558.4,695.8 558.4,696.5 558.7,701.1 558.7,679.3 559.0,677.3 559.0,699.2 559.3,698.5 559.3,676.9 559.6,676.7 559.6,691.8 559.9,690.7 559.9,676.6 560.2,682.3 560.2,689.7 560.5,687.6 560.5,683.9 560.8,683.3 560.8,687.7 561.1,688.3 561.1,683.2 561.4,683.3 561.4,688.2 561.7,688.0 561.7,682.5 562.0,682.1 562.0,688.1 562.3,688.0 562.3,682.5 562.6,682.8 562.6,688.2 562.9,688.6 562.9,683.0 563.2,682.8 563.2,688.2 563.5,687.9 563.5,682.9 563.8,681.9 563.8,688.1 564.1,688.7 564.1,682.4 564.4,681.5 564.4,689.1 564.7,689.3 564.7,681.1 565.0,680.6 565.0,690.3 565.3,691.1 565.3,680.7 565.6,680.1 565.6,691.1 565.9,691.0 565.9,681.9 566.2,683.1 566.2,691.3 566.5,690.8 566.5,683.5 566.8,683.9 566.8,690.8 567.1,690.6 567.1,685.2 567.4,685.5 567.4,690.6 567.7,691.3 567.7,686.1 568.0,686.7 568.0,691.9 568.3,692.0 568.3,686.5 568.6,686.0 568.6,692.3 568.9,692.0 568.9,686.4 569.2,687.1 569.2,692.6 569.5,692.9 569.5,687.4 569.8,687.1 569.8,692.9 570.1,693.5 570.1,687.5 570.4,687.3 570.4,693.0 570.7,693.6 570.7,687.2 571.0,687.4 571.0,693.2 571.3,694.5 571.3,687.2 571.6,687.1 571.6,694.4 571.9,694.9 571.9,686.2 572.2,687.3 572.2,694.9 572.5,694.6 572.5,687.7 572.8,687.3 572.8,693.9 573.1,693.5 573.1,687.6 573.4,687.6 573.4,694.1 573.7,692.8 573.7,687.3 574.0,687.4 574.0,692.5 574.3,692.4 574.3,687.0 574.6,687.6 574.6,692.0 574.9,691.6 574.9,687.8 575.2,687.9 575.2,691.0 575.5,691.0 575.5,687.7 575.8,687.3 575.8,690.4 576.1,689.9 576.1,686.6 576.4,686.6 576.4,689.2 576.7,688.8 576.7,686.0 577.0,685.7 577.0,688.5 577.3,688.3 577.3,685.4 577.6,685.4 577.6,688.6 577.9,688.2 577.9,685.5 578.2,685.0 578.2,688.3 578.5,688.1 578.5,685.3 578.8,684.9 578.8,687.9 579.1,687.3 579.1,684.0 579.4,684.2 579.4,687.6 579.7,687.8 579.7,684.2 580.0,683.9 580.0,687.8 580.3,688.8 580.3,684.2 580.6,683.4 580.6,688.4 580.9,688.4 580.9,683.0 581.2,682.3 581.2,688.3 581.5,687.7 581.5,682.6 581.8,683.0 581.8,687.3 582.1,686.9 582.1,682.3 582.4,682.1 582.4,687.4 582.7,687.4 582.7,681.8 583.0,681.4 583.0,687.5 583.3,686.7 583.3,680.9 583.6,680.8 583.6,687.3 583.9,687.8 583.9,680.9 584.2,681.1 584.2,688.9 584.5,688.7 584.5,682.2 584.8,681.9 584.8,688.3 585.1,688.7 585.1,681.7 585.4,681.8 585.4,688.8 585.7,689.5 585.7,682.1 586.0,682.7 586.0,691.0 586.3,691.0 586.3,683.0 586.6,683.4 586.6,691.2 586.9,691.2 586.9,683.4 587.2,684.3 587.2,691.8 587.5,692.2 587.5,684.5 587.8,685.1 587.8,692.2 588.1,693.4 588.1,686.0 588.4,685.7 588.4,694.3 588.7,694.7 588.7,685.5 589.0,686.2 589.0,694.0 589.3,694.0 589.3,685.9 589.6,686.0 589.6,694.2 589.9,693.6 589.9,685.4 590.2,685.0 590.2,695.8 590.5,692.1 590.5,684.7 590.8,684.5 590.8,691.3 591.1,690.9 591.1,685.0 591.4,686.2 591.4,690.6 591.7,689.9 591.7,685.7 592.0,685.3 592.0,690.2 592.3,689.4 592.3,685.1 592.6,684.0 592.6,689.3 592.9,689.4 592.9,683.6 593.2,682.8 593.2,689.6 593.5,689.6 593.5,682.8 593.8,682.5 593.8,688.7 594.1,688.0 594.1,682.8 594.4,682.9 594.4,688.0 594.7,688.7 594.7,682.4 595.0,682.0 595.0,688.5 595.3,688.1 595.3,682.1 595.6,681.4 595.6,687.7 595.9,688.7 595.9,681.3 596.2,681.1 596.2,688.6 596.5,688.5 596.5,680.6 596.8,680.4 596.8,688.0 597.1,687.9 597.1,679.8 597.4,681.3 597.4,687.7 597.7,688.1 597.7,681.5 598.0,681.4 598.0,688.2 598.3,688.3 598.3,681.7 598.6,682.2 598.6,688.5 598.9,688.6 598.9,683.8 599.2,684.1 599.2,688.3 599.5,688.5 599.5,683.7 599.8,683.1 599.8,687.9 600.1,687.4 600.1,682.3 600.4,682.7 600.4,687.2 600.7,688.3 600.7,683.5 601.0,683.2 601.0,690.3 601.3,690.1 601.3,681.6 601.6,679.8 601.6,689.2 601.9,688.7 601.9,679.4 602.2,677.4 602.2,687.8 602.5,686.9 602.5,675.5 602.8,674.5 602.8,685.9 603.1,686.1 603.1,672.1 603.4,671.7 603.4,686.6 603.7,686.1 603.7,676.1 604.0,676.8 604.0,686.4 604.3,686.6 604.3,677.0 604.6,677.1 604.6,685.8 604.9,686.1 604.9,676.9 605.2,676.4 605.2,686.7 605.5,688.2 605.5,675.9 605.8,675.9 605.8,689.1 606.1,690.5 606.1,676.3 606.4,677.0 606.4,692.6 606.7,694.5 606.7,676.5 607.0,676.0 607.0,691.8 607.3,686.5 607.3,675.7 607.6,676.1 607.6,681.8 607.9,681.2 607.9,675.9 608.2,676.3 608.2,681.1 608.5,681.3 608.5,676.0 608.8,673.6 608.8,681.2 609.1,681.6 609.1,669.9 609.4,668.7 609.4,682.0 609.7,681.4 609.7,669.2 610.0,666.7 610.0,681.7 610.3,682.5 610.3,667.2 610.6,672.7 610.6,683.1 610.9,682.7 610.9,672.4 611.2,673.0 611.2,682.9 611.5,682.8 611.5,673.0 611.8,673.2 611.8,682.7 612.1,682.8 612.1,673.1 612.4,672.6 612.4,683.3 612.7,683.1 612.7,672.2 613.0,671.3 613.0,683.7 613.3,684.7 613.3,670.4 613.6,672.4 613.6,685.8 613.9,688.0 613.9,673.1 614.2,673.3 614.2,687.9 614.5,684.4 614.5,672.8 614.8,673.0 614.8,682.0 615.1,681.9 615.1,672.0 615.4,671.6 615.4,681.3 615.7,680.7 615.7,672.1 616.0,672.0 616.0,681.1 616.3,680.5 616.3,672.6 616.6,672.5 616.6,680.5 616.9,681.6 616.9,672.9 617.2,673.2 617.2,681.7 617.5,681.2 617.5,672.8 617.8,672.1 617.8,680.8 618.1,681.2 618.1,672.0 618.4,672.2 618.4,681.3 618.7,681.3 618.7,672.9 619.0,673.7 619.0,681.2 619.3,681.5 619.3,673.6 619.6,673.4 619.6,681.2 619.9,681.7 619.9,673.5 620.2,673.4 620.2,681.3 620.5,681.0 620.5,673.6 620.8,674.1 620.8,681.1 621.1,681.1 621.1,674.7 621.4,673.8 621.4,681.1 621.7,681.3 621.7,673.9 622.0,673.7 622.0,681.3 622.3,681.3 622.3,673.3 622.6,673.5 622.6,681.0 622.9,681.0 622.9,673.3 623.2,674.1 623.2,680.9 623.5,681.2 623.5,673.4 623.8,673.7 623.8,681.4 624.1,681.3 624.1,673.4 624.4,674.1 624.4,681.5 624.7,682.0 624.7,674.3 625.0,675.2 625.0,682.6 625.3,682.9 625.3,674.9 625.6,675.1 625.6,683.6 625.9,684.4 625.9,675.7 626.2,675.1 626.2,684.9 626.5,685.6 626.5,675.8 626.8,676.2 626.8,686.6 627.1,686.5 627.1,676.4 627.4,676.9 627.4,686.7 627.7,686.6 627.7,677.9 628.0,678.2 628.0,685.6 628.3,686.6 628.3,679.3 628.6,679.9 628.6,686.2 628.9,686.3 628.9,680.3 629.2,680.7 629.2,685.7 629.5,685.9 629.5,680.5 629.8,680.8 629.8,686.1 630.1,687.1 630.1,680.7 630.4,680.3 630.4,687.3 630.7,688.1 630.7,681.0 631.0,680.6 631.0,687.7 631.3,688.0 631.3,679.8 631.6,679.6 631.6,688.1 631.9,688.6 631.9,677.8 632.2,679.2 632.2,688.8 632.5,688.0 632.5,679.8 632.8,679.6 632.8,687.8 633.1,687.9 633.1,679.0 633.4,679.0 633.4,687.5 633.7,687.3 633.7,679.0 634.0,679.6 634.0,686.5 634.3,685.8 634.3,679.3 634.6,679.5 634.6,686.0 634.9,686.3 634.9,679.4 635.2,679.1 635.2,686.1 635.5,685.8 635.5,678.5 635.8,678.6 635.8,686.3 636.1,685.8 636.1,678.6 636.4,678.7 636.4,685.5 636.7,685.4 636.7,678.6 637.0,678.4 637.0,684.3 637.3,683.0 637.3,678.6 637.6,678.3 637.6,682.9 637.9,684.1 637.9,677.7 638.2,677.4 638.2,684.3 638.5,684.7 638.5,677.4 638.8,677.2 638.8,684.4 639.1,684.2 639.1,677.4 639.4,676.6 639.4,684.5 639.7,684.0 639.7,676.6 640.0,675.9 640.0,683.9 640.3,683.6 640.3,676.5 640.6,676.7 640.6,683.9 640.9,684.0 640.9,677.3 641.2,677.1 641.2,684.2 641.5,683.5 641.5,677.0 641.8,676.2 641.8,683.4 642.1,683.4 642.1,675.5 642.4,674.0 642.4,683.7 642.7,683.9 642.7,673.2 643.0,670.2 643.0,684.2 643.3,684.8 643.3,670.5 643.6,678.2 643.6,684.9 643.9,685.0 643.9,677.9 644.2,678.1 644.2,684.5 644.5,684.6 644.5,678.2 644.8,678.4 644.8,684.4 645.1,685.1 645.1,679.2 645.4,679.3 645.4,684.5 645.7,684.5 645.7,679.8 646.0,679.2 646.0,684.0 646.3,683.7 646.3,678.6 646.6,678.2 646.6,683.5 646.9,683.5 646.9,678.6 647.2,678.7 647.2,683.9 647.5,683.9 647.5,678.9 647.8,678.5 647.8,684.1 648.1,683.7 648.1,678.0 648.4,678.1 648.4,683.8 648.7,684.2 648.7,677.4 649.0,676.4 649.0,684.8 649.3,684.9 649.3,675.6 649.6,676.4 649.6,684.5 649.9,684.8 649.9,676.2 650.2,676.6 650.2,684.8 650.5,684.2 650.5,677.8 650.8,678.8 650.8,685.2 651.1,685.1 651.1,679.3 651.4,679.4 651.4,685.7 651.7,685.4 651.7,679.3 652.0,679.1 652.0,686.1 652.3,686.0 652.3,679.6 652.6,679.1 652.6,685.5 652.9,685.6 652.9,679.4 653.2,679.4 653.2,685.2 653.5,684.5 653.5,679.3 653.8,679.8 653.8,685.0 654.1,684.5 654.1,679.6 654.4,679.9 654.4,685.1 654.7,685.6 654.7,679.6 655.0,680.1 655.0,685.5 655.3,685.4 655.3,680.1 655.6,679.7 655.6,685.1 655.9,685.2 655.9,679.5 656.2,678.4 656.2,685.2 656.5,685.9 656.5,677.9 656.8,677.7 656.8,686.0 657.1,685.8 657.1,678.1 657.4,678.9 657.4,685.1 657.7,685.2 657.7,679.7 658.0,679.8 658.0,684.8 658.3,684.3 658.3,679.0 658.6,679.0 658.6,684.6 658.9,684.7 658.9,678.6 659.2,679.0 659.2,684.9 659.5,684.6 659.5,679.3 659.8,679.2 659.8,684.4 660.1,684.4 660.1,678.9 660.4,679.7 660.4,684.5 660.7,684.6 660.7,679.5 661.0,679.9 661.0,684.5 661.3,685.3 661.3,680.0 661.6,679.7 661.6,684.8 661.9,684.5 661.9,680.3 662.2,680.0 662.2,684.5 662.5,683.9 662.5,680.0 662.8,679.2 662.8,684.3 663.1,684.7 663.1,679.9 663.4,679.7 663.4,683.9 663.7,683.4 663.7,680.2 664.0,679.7 664.0,683.3 664.3,683.1 664.3,679.3 664.6,679.4 664.6,683.1 664.9,683.0 664.9,679.5 665.2,678.5 665.2,683.4 665.5,683.6 665.5,678.3 665.8,677.8 665.8,683.0 666.1,682.4 666.1,677.4 666.4,677.3 666.4,683.2 666.7,683.3 666.7,676.4 667.0,676.2 667.0,683.4 667.3,682.7 667.3,676.1 667.6,675.6 667.6,682.5 667.9,683.3 667.9,675.6 668.2,675.6 668.2,683.5 668.5,683.4 668.5,676.0 668.8,675.8 668.8,683.6 669.1,683.2 669.1,675.7 669.4,676.2 669.4,684.2 669.7,683.5 669.7,675.4 670.0,673.9 670.0,682.8 670.3,682.8 670.3,673.2 670.6,672.6 670.6,682.6 670.9,683.0 670.9,671.4 671.2,671.9 671.2,682.8 671.5,682.0 671.5,672.1 671.8,672.3 671.8,682.2 672.1,682.1 672.1,672.2 672.4,671.9 672.4,681.9 672.7,681.6 672.7,672.6 673.0,674.0 673.0,681.8 673.3,682.0 673.3,675.2 673.6,676.3 673.6,682.5 673.9,682.7 673.9,676.4 674.2,676.4 674.2,682.7 674.5,682.8 674.5,676.4 674.8,677.1 674.8,682.5 675.1,683.2 675.1,677.0 675.4,676.5 675.4,683.5 675.7,684.2 675.7,676.8 676.0,676.9 676.0,684.7 676.3,685.0 676.3,678.1 676.6,677.8 676.6,684.4 676.9,684.7 676.9,678.3 677.2,678.2 677.2,685.2 677.5,686.1 677.5,679.0 677.8,680.3 677.8,687.1 678.1,687.4 678.1,680.7 678.4,680.7 678.4,687.6 678.7,688.7 678.7,680.9 679.0,681.1 679.0,689.6 679.3,689.9 679.3,681.6 679.6,682.1 679.6,690.0 679.9,690.9 679.9,681.8 680.2,681.7 680.2,690.2 680.5,689.9 680.5,680.6 680.8,680.4 680.8,691.5 681.1,688.7 681.1,679.8 681.4,680.3 681.4,688.1 681.7,687.4 681.7,681.1 682.0,681.9 682.0,686.7 682.3,685.8 682.3,681.6 682.6,682.2 682.6,686.3 682.9,685.6 682.9,681.8 683.2,681.1 683.2,686.1 683.5,686.7 683.5,681.0 683.8,680.9 683.8,687.2 684.1,687.1 684.1,681.7 684.4,682.1 684.4,687.2 684.7,687.0 684.7,681.7 685.0,681.6 685.0,686.6 685.3,686.9 685.3,682.1 685.6,682.2 685.6,687.5 685.9,687.6 685.9,682.4 686.2,682.0 686.2,687.8 686.5,686.9 686.5,681.2 686.8,680.7 686.8,687.6 687.1,687.6 687.1,680.8 687.4,679.8 687.4,687.2 687.7,686.9 687.7,678.6 688.0,677.5 688.0,687.4 688.3,687.2 688.3,676.4 688.6,675.8 688.6,686.7 688.9,686.7 688.9,675.9 689.2,675.7 689.2,687.3 689.5,687.5 689.5,676.8 689.8,676.6 689.8,687.1 690.1,687.2 690.1,676.0 690.4,676.3 690.4,687.0 690.7,687.0 690.7,676.2 691.0,676.6 691.0,686.3 691.3,685.7 691.3,677.9 691.6,678.6 691.6,685.9 691.9,686.2 691.9,679.1 692.2,679.1 692.2,686.5 692.5,686.4 692.5,680.7 692.8,681.3 692.8,686.2 693.1,686.5 693.1,681.9 693.4,681.7 693.4,685.7 693.7,686.3 693.7,681.4 694.0,681.5 694.0,686.4 694.3,686.3 694.3,681.2 694.6,681.9 694.6,686.6 694.9,687.1 694.9,681.3 695.2,680.7 695.2,687.1 695.5,686.6 695.5,680.8 695.8,680.7 695.8,686.5 696.1,686.7 696.1,680.2 696.4,681.0 696.4,686.5 696.7,686.7 696.7,681.2 697.0,680.6 697.0,686.8 697.3,686.7 697.3,680.6 697.6,677.8 697.6,686.0 697.9,686.6 697.9,673.2 698.2,675.1 698.2,686.4 698.5,686.1 698.5,676.5 698.8,681.1 698.8,686.4 699.1,685.7 699.1,681.4 699.4,680.5 699.4,686.6 699.7,686.4 699.7,680.6 700.0,680.4 700.0,687.3 700.3,686.7 700.3,681.0 700.6,682.1 700.6,686.7 700.9,685.9 700.9,681.9 701.2,682.3 701.2,685.3 701.5,685.0 701.5,681.8 701.8,681.2 701.8,685.2 702.1,685.1 702.1,681.2 702.4,680.7 702.4,685.5 702.7,685.5 702.7,680.0 703.0,679.8 703.0,685.1 703.3,685.7 703.3,679.8 703.6,679.3 703.6,685.4 703.9,685.5 703.9,679.1 704.2,679.2 704.2,685.4 704.5,685.2 704.5,677.2 704.8,674.9 704.8,686.2 705.1,686.8 705.1,673.0 705.4,671.3 705.4,686.5 705.7,687.2 705.7,670.4 706.0,669.9 706.0,685.1 706.3,684.3 706.3,670.4 706.6,670.3 706.6,684.1 706.9,683.0 706.9,671.1 707.2,670.7 707.2,682.7 707.5,681.7 707.5,670.8 707.8,670.5 707.8,681.8 708.1,682.0 708.1,668.7 708.4,669.1 708.4,681.6 708.7,681.9 708.7,670.7 709.0,671.8 709.0,682.2 709.3,681.6 709.3,673.1 709.6,674.2 709.6,681.0 709.9,680.8 709.9,673.9 710.2,674.2 710.2,681.2 710.5,681.5 710.5,675.5 710.8,676.1 710.8,681.4 711.1,681.3 711.1,676.2 711.4,676.1 711.4,681.0 711.7,681.2 711.7,676.1 712.0,676.3 712.0,681.7 712.3,681.5 712.3,676.2 712.6,675.6 712.6,681.5 712.9,681.9 712.9,675.8 713.2,676.6 713.2,682.4 713.5,682.8 713.5,676.1 713.8,676.5 713.8,683.0 714.1,683.3 714.1,677.4 714.4,678.2 714.4,682.3 714.7,682.1 714.7,678.2 715.0,678.3 715.0,682.5 715.3,683.1 715.3,678.8 715.6,679.0 715.6,683.1 715.9,683.6 715.9,679.2 716.2,678.8 716.2,682.9 716.5,683.5 716.5,679.4 716.8,678.9 716.8,683.2 717.1,684.0 717.1,679.5 717.4,679.6 717.4,683.8 717.7,684.6 717.7,679.0 718.0,677.2 718.0,684.5 718.3,685.3 718.3,676.7 718.6,677.7 718.6,685.3 718.9,685.3 718.9,677.1 719.2,677.1 719.2,685.7 719.5,685.5 719.5,678.0 719.8,679.6 719.8,685.4 720.1,684.7 720.1,681.6 720.4,681.6 720.4,685.5 720.7,685.4 720.7,681.7 721.0,681.7 721.0,686.1 721.3,686.5 721.3,681.7 721.6,681.7 721.6,686.7 721.9,686.9 721.9,681.8 722.2,682.9 722.2,687.2 722.5,688.3 722.5,683.1 722.8,683.1 722.8,689.1 723.1,689.5 723.1,683.8 723.4,683.4 723.4,692.1 723.7,691.4 723.7,683.3 724.0,683.7 724.0,690.9 724.3,691.0 724.3,684.6 724.6,683.6 724.6,690.6 724.9,690.4 724.9,683.8 725.2,683.8 725.2,690.8 725.5,690.8 725.5,683.0 725.8,683.3 725.8,690.6 726.1,689.5 726.1,683.5 726.4,683.8 726.4,688.7 726.7,689.0 726.7,682.1 727.0,683.3 727.0,689.0 727.3,689.5 727.3,683.2 727.6,683.3 727.6,689.1 727.9,689.7 727.9,684.3 728.2,684.1 728.2,688.9 728.5,688.2 728.5,684.0 728.8,684.3 728.8,688.3 729.1,688.8 729.1,683.9 729.4,684.2 729.4,688.2 729.7,688.7 729.7,683.9 730.0,683.8 730.0,689.0 730.3,689.3 730.3,683.6 730.6,683.0 730.6,689.3 730.9,689.4 730.9,683.1 731.2,686.0 731.2,689.2 731.5,688.7 731.5,686.3 732.0,685.8 732.0,688.3 732.3,688.8 732.3,685.8 732.6,685.8 732.6,688.7 732.9,688.2 732.9,686.5 733.3,686.3 733.3,688.2 733.8,688.6 733.8,686.3 734.2,685.7 734.2,688.5 734.5,688.8 734.5,684.9 734.8,684.8 734.8,688.6 735.1,688.2 735.1,683.8 735.4,683.3 735.4,688.4 735.7,688.4 735.7,682.9 736.0,682.6 736.0,688.3 736.3,688.3 736.3,682.6 736.6,683.2 736.6,688.2 736.9,687.9 736.9,683.0 737.2,682.9 737.2,687.8 737.5,687.2 737.5,682.1 737.8,682.2 737.8,687.2 738.1,686.8 738.1,682.4 738.4,682.5 738.4,687.2 738.7,687.1 738.7,682.4 739.0,681.4 739.0,687.2 739.3,686.7 739.3,680.6 739.6,680.5 739.6,686.7 739.9,686.8 739.9,680.6 740.2,683.2 740.2,687.3 740.5,687.3 740.5,683.3 740.8,683.4 740.8,687.1 741.1,686.1 741.1,683.7 741.4,684.5 741.4,685.9 741.9,687.3 741.9,683.9 742.2,683.6 742.2,687.9 742.5,687.9 742.5,683.9 742.8,683.3 742.8,688.5 743.1,688.5 743.1,683.4 743.4,683.6 743.4,689.0 743.7,689.3 743.7,684.5 744.0,684.1 744.0,689.7 744.3,689.8 744.3,684.3 744.6,683.7 744.6,689.8 744.9,689.2 744.9,683.7 745.2,683.8 745.2,689.9 745.5,689.9 745.5,684.3 745.8,684.6 745.8,690.4 746.1,690.5 746.1,685.3 746.4,685.5 746.4,688.4 746.7,687.9 746.7,685.1 747.0,684.8 747.0,688.6 747.3,688.1 747.3,684.6 747.6,684.0 747.6,688.1 747.9,688.7 747.9,683.8 748.2,683.6 748.2,689.3 748.5,689.3 748.5,683.8 748.8,682.7 748.8,689.0 749.1,688.2 749.1,682.5 749.4,682.7 749.4,687.8 749.7,687.3 749.7,682.6 750.0,683.5 750.0,687.4 750.3,687.3 750.3,683.6 750.6,684.3 750.6,687.5 750.9,686.5 750.9,683.7 751.2,683.8 751.2,686.8 751.5,686.8 751.5,682.7 751.8,682.7 751.8,687.0 752.1,686.4 752.1,683.0 752.4,682.7 752.4,686.4 752.7,686.5 752.7,682.5 753.0,682.1 753.0,686.0 753.3,686.0 753.3,681.7 753.6,681.9 753.6,685.9 753.9,685.0 753.9,682.4 754.2,682.1 754.2,685.4 754.5,685.3 754.5,681.9 754.8,681.8 754.8,685.5 755.1,685.6 755.1,682.0 755.4,681.9 755.4,685.3 755.7,685.7 755.7,681.3 756.0,681.2 756.0,685.4 756.3,685.8 756.3,681.4 756.6,677.1 756.6,685.5 756.9,686.0 756.9,677.1 757.2,678.0 757.2,685.6 757.5,685.8 757.5,678.5 757.8,680.8 757.8,686.2 758.1,687.1 758.1,681.8 758.4,682.9 758.4,688.6 758.7,689.1 758.7,682.5 759.0,683.3 759.0,689.5 759.3,689.9 759.3,683.4 759.6,683.4 759.6,689.7 759.9,689.9 759.9,683.1 760.2,683.2 760.2,692.0 760.5,691.0 760.5,683.1 760.8,683.7 760.8,691.7 761.1,691.2 761.1,683.9 761.4,684.2 761.4,690.5 761.7,690.0 761.7,683.9 762.0,683.7 762.0,690.1 762.3,689.3 762.3,683.7 762.6,683.8 762.6,689.8 762.9,689.6 762.9,683.6 763.2,682.6 763.2,689.6 763.5,689.9 763.5,682.4 763.8,682.5 763.8,689.2 764.1,688.6 764.1,682.7 764.4,682.7 764.4,689.2 764.7,688.7 764.7,683.0 765.0,683.7 765.0,688.9 765.3,689.3 765.3,683.8 765.6,684.0 765.6,688.8 765.9,688.9 765.9,684.1 766.2,685.2 766.2,688.9 766.5,688.6 766.5,685.5 766.8,685.3 766.8,688.5 767.1,687.8 767.1,685.4 767.4,685.3 767.4,687.8 767.8,688.0 767.8,685.6 768.1,685.7 768.1,688.9 768.4,689.1 768.4,685.6 768.7,686.2 768.7,689.7 769.0,689.3 769.0,686.0 769.3,686.5 769.3,688.8 769.6,689.6 769.6,686.1 769.9,686.4 769.9,690.0 770.2,690.1 770.2,686.6 770.5,686.9 770.5,690.5 770.8,690.6 770.8,687.4 771.1,686.9 771.1,691.5 771.4,692.1 771.4,686.3 771.7,686.4 771.7,692.1 772.0,691.6 772.0,686.4 772.3,686.5 772.3,692.2 772.6,691.3 772.6,686.8 772.9,686.8 772.9,690.4 773.2,691.2 773.2,687.3 773.5,687.0 773.5,692.1 773.8,692.2 773.8,686.6 774.1,687.0 774.1,692.3 774.4,691.6 774.4,686.7 774.7,685.2 774.7,691.6 775.0,691.3 775.0,685.5 775.3,686.4 775.3,691.5 775.6,691.0 775.6,687.2 775.9,687.3 775.9,691.3 776.2,691.0 776.2,686.7 776.5,686.9 776.5,691.4 776.8,691.0 776.8,686.5 777.1,686.8 777.1,691.8 777.4,692.2 777.4,687.5 777.7,687.8 777.7,693.0 778.0,692.8 778.0,687.7 778.3,686.8 778.3,693.0 778.6,692.2 778.6,686.6 778.9,686.3 778.9,692.2 779.2,692.8 779.2,686.7 779.5,687.4 779.5,692.3 779.8,691.6 779.8,688.3 780.1,688.2 780.1,691.5 780.4,691.5 780.4,688.3 780.7,686.8 780.7,691.2 781.0,691.4 781.0,686.6 781.3,685.7 781.3,690.9 781.6,690.6 781.6,685.8 781.9,685.3 781.9,690.3 782.2,690.1 782.2,684.1 782.5,683.9 782.5,690.2 782.8,689.4 782.8,683.5 783.1,682.5 783.1,689.9 783.4,689.4 783.4,681.8 783.7,680.8 783.7,689.1 784.0,689.1 784.0,682.9 784.3,683.2 784.3,688.4 784.6,688.9 784.6,685.0 784.9,686.2 784.9,689.7 785.2,689.9 785.2,687.0 785.5,687.6 785.5,689.8 786.0,689.9 786.0,688.8 786.3,688.0 786.3,694.6 786.6,698.8 786.6,687.9 786.9,688.4 786.9,703.6 787.2,703.7 787.2,688.9 787.5,688.8 787.5,703.8 787.8,703.6 787.8,695.9 788.1,701.4 788.1,703.6 788.4,704.0 788.4,701.6 788.8,701.8 788.8,704.0 789.3,704.0 789.3,701.0 789.6,701.2 789.6,703.5 789.9,703.6 789.9,700.9 790.3,701.5 790.3,704.1 790.6,704.3 790.6,701.2 790.9,701.3 790.9,704.1 791.2,704.7 791.2,696.1 791.5,697.8 791.5,705.1 791.8,705.2 791.8,699.8 792.1,700.1 792.1,705.2 792.4,704.9 792.4,701.4 792.7,701.0 792.7,704.8 793.0,704.5 793.0,700.4 793.3,700.3 793.3,704.9 793.6,705.2 793.6,700.0 793.9,700.0 793.9,704.8 794.2,704.7 794.2,699.6 794.5,699.6 794.5,704.8 794.8,705.3 794.8,700.6 795.1,701.2 795.1,705.4 795.4,705.8 795.4,700.9 795.7,700.4 795.7,705.2 796.0,704.9 796.0,700.6 796.3,701.0 796.3,704.9 796.6,705.0 796.6,701.0 796.9,700.4 796.9,704.5 797.2,704.7 797.2,700.3 797.5,698.2 797.5,705.1 797.8,705.6 797.8,700.6 798.1,702.5 798.1,705.4 798.4,706.1 798.4,698.9 798.7,699.6 798.7,705.9"/>
<polyline id="s327" stroke="#ff0000" points="305.2,701.4 305.2,703.2 305.7,703.5 305.7,700.9 306.0,701.5 306.0,703.5 306.3,703.3 306.3,700.6 306.6,700.7 306.6,703.4 307.0,702.6 307.0,700.6 307.5,701.4 307.5,703.3 307.9,703.0 307.9,701.6 308.4,701.0 308.4,703.0 308.8,703.1 308.8,700.4 309.1,701.0 309.1,702.7 309.4,703.1 309.4,701.0 309.9,701.3 309.9,703.1 310.3,702.8 310.3,701.4 310.8,701.4 310.8,703.3 311.2,703.7 311.2,700.5 311.5,700.9 311.5,703.2 311.8,703.1 311.8,701.3 312.1,701.0 312.1,703.1 312.6,703.0 312.6,701.2 313.0,701.5 313.0,702.9 313.5,703.3 313.5,701.4 313.9,700.9 313.9,703.8 314.4,703.7 314.4,700.8 314.7,700.9 314.7,703.8 315.0,703.3 315.0,701.2 315.3,701.4 315.3,703.3 315.6,703.5 315.6,700.9 315.9,701.1 315.9,703.8 316.2,703.5 316.2,700.7 316.5,701.0 316.5,703.4 316.8,703.6 316.8,700.6 317.2,701.4 317.2,702.8 317.7,702.9 317.7,701.5 318.1,700.7 318.1,703.6 318.4,703.2 318.4,701.0 318.7,700.4 318.7,703.5 319.2,702.8 319.2,701.3 319.6,701.6 319.6,703.0 320.1,702.9 320.1,701.4 320.5,700.9 320.5,703.4 321.0,703.4 321.0,700.8 321.4,700.9 321.4,702.9 321.9,702.6 321.9,700.4 322.3,700.5 322.3,703.2 322.8,703.4 322.8,700.9 323.2,700.9 323.2,703.4 323.7,703.1 323.7,700.8 324.1,701.4 324.1,702.9 324.6,702.6 324.6,701.3 325.0,701.4 325.0,703.1 325.5,703.7 325.5,701.0 325.8,701.0 325.8,703.3 326.2,703.5 326.2,700.7 326.5,700.7 326.5,703.5 326.8,703.4 326.8,701.0 327.3,701.1 327.3,703.3 327.7,702.9 327.7,701.0 328.2,701.1 328.2,703.2 328.6,703.1 328.6,701.0 328.9,700.9 328.9,703.3 329.2,702.9 329.2,701.3 329.7,699.8 329.7,703.5 330.0,702.0 330.0,698.6 330.3,697.3 330.3,700.4 330.6,699.2 330.6,695.6 330.9,693.8 330.9,697.4 331.2,696.2 331.2,692.3 331.5,690.7 331.5,694.7 331.8,693.2 331.8,689.3 332.1,687.9 332.1,692.1 332.4,690.4 332.4,686.3 332.7,685.1 332.7,688.4 333.0,688.2 333.0,685.0 333.3,684.6 333.3,687.8 333.6,686.9 333.6,683.5 333.9,683.0 333.9,686.2 334.2,685.9 334.2,682.6 334.5,682.2 334.5,685.5 334.8,684.3 334.8,681.2 335.1,681.3 335.1,683.9 335.4,683.5 335.4,680.6 335.7,680.5 335.7,683.2 336.0,681.8 336.0,681.1 336.6,680.6 336.6,681.8 337.2,681.5 337.2,680.5 337.6,679.3 337.6,681.6 338.1,681.4 338.1,679.8 338.5,680.6 338.5,681.2 339.1,682.3 339.1,680.9 339.4,681.6 339.4,682.0 339.7,682.8 339.7,680.1 340.0,680.3 340.0,683.5 340.3,684.3 340.3,680.7 340.6,681.6 340.6,684.4 340.9,685.7 340.9,682.1 341.2,683.0 341.2,686.0 341.5,686.7 341.5,683.3 341.8,683.9 341.8,687.2 342.1,688.1 342.1,684.6 342.4,685.4 342.4,689.4 342.7,689.9 342.7,686.9 343.0,687.5 343.0,691.0 343.3,691.8 343.3,688.3 343.6,689.5 343.6,692.8 343.9,693.8 343.9,689.9 344.2,690.4 344.2,694.3 344.5,695.1 344.5,691.9 344.8,692.4 344.8,695.5 345.1,696.7 345.1,693.4 345.4,693.5 345.4,697.2 345.7,697.5 345.7,694.8 346.0,694.8 346.0,698.0 346.3,698.5 346.3,695.5 346.6,695.5 346.6,698.9 346.9,699.2 346.9,695.8 347.2,696.3 347.2,699.6 347.5,698.4 347.7,698.8 347.7,698.2 348.3,698.5 348.3,701.1 348.6,701.1 348.6,698.3 348.9,697.9 348.9,700.5 349.2,699.4 349.2,697.1 349.7,696.5 349.7,698.7 350.0,697.9 350.0,696.8 350.3,697.7 350.3,698.2 350.9,698.0 350.9,697.1 351.3,696.8 351.3,698.7 351.8,698.1 351.8,696.3 352.2,696.8 352.2,698.1 352.7,697.9 352.7,696.7 353.3,696.7 353.3,697.8 353.7,698.2 353.7,696.6 354.2,696.5 354.2,698.5 354.6,698.7 354.6,697.0 355.1,697.0 355.1,698.7 355.5,698.4 355.5,697.1 356.0,696.6 356.0,697.9 356.4,697.8 356.4,696.9 357.0,697.0 357.0,698.4 357.5,697.8 357.5,696.8 358.1,697.0 358.1,697.5 358.7,697.8 358.7,696.7 359.1,697.0 359.1,698.3 359.6,698.1 359.6,696.3 360.0,696.4 360.0,698.4 360.5,698.2 360.5,696.9 360.9,696.4 360.9,698.5 361.4,697.8 361.4,696.3 361.8,696.7 361.8,697.7 362.3,698.0 362.3,696.8 362.9,696.9 362.9,697.7 363.3,697.9 363.3,696.8 363.8,696.4 363.8,698.2 364.2,698.1 364.2,696.9 364.7,696.7 364.7,698.1 365.1,697.5 365.1,696.2 365.6,697.0 365.6,697.4 366.2,697.8 366.2,696.6 366.6,696.3 366.6,697.8 367.1,698.4 367.1,696.8 367.5,697.0 367.5,698.4 368.0,698.4 368.0,696.5 368.4,696.7 368.4,698.0 368.9,698.4 368.9,697.1 369.3,697.2 369.3,698.0 369.8,698.4 369.8,695.2 370.1,689.5 370.1,698.3 370.4,698.4 370.4,687.0 370.7,694.2 370.7,698.5 371.0,698.2 371.0,696.5 371.4,696.5 371.4,698.2 371.9,698.2 371.9,696.5 372.3,696.8 372.3,697.8 372.8,697.9 372.8,696.6 373.1,696.6 373.1,697.7 373.5,698.1 373.5,696.6 374.0,694.1 374.0,697.9 374.3,695.5 374.3,689.2 374.6,689.5 374.6,693.0 374.9,692.5 374.9,689.7 375.2,689.8 375.2,692.9 375.5,692.8 375.5,689.8 375.8,689.4 375.8,692.6 376.1,692.6 376.1,689.3 376.4,689.3 376.4,693.2 376.7,692.7 376.7,689.9 377.0,689.1 377.0,692.3 377.3,692.8 377.3,689.1 377.6,689.1 377.6,693.2 377.9,693.0 377.9,689.3 378.2,689.8 378.2,693.2 378.5,693.4 378.5,690.1 378.8,690.0 378.8,693.1 379.1,692.9 379.1,689.5 379.4,689.4 379.4,693.0 379.7,692.7 379.7,689.5 380.0,689.3 380.0,693.5 380.3,693.7 380.3,689.4 380.6,689.6 380.6,693.1 380.9,693.4 380.9,689.9 381.2,689.3 381.2,693.4 381.5,692.8 381.5,689.0 381.8,688.8 381.8,692.4 382.1,692.8 382.1,688.4 382.4,688.4 382.4,692.6 382.7,693.8 382.7,690.0 383.0,694.0 383.0,697.1 383.3,697.7 383.3,696.8 383.7,696.9 383.7,698.0 384.2,698.5 384.2,696.6 384.6,697.0 384.6,698.2 385.2,698.2 385.2,697.2 385.8,697.2 385.8,698.0 386.4,698.2 386.4,697.6 387.0,697.9 387.0,698.4 387.6,698.4 387.6,697.9 388.2,698.2 388.2,698.4 388.8,698.4 388.8,698.1 389.4,698.2 389.4,698.6 390.0,698.5 392.0,698.8 392.2,699.4 392.2,698.6 392.8,698.4 392.8,699.5 393.4,699.2 393.6,699.4 393.6,699.1 394.2,699.4 394.2,699.8 394.8,700.3 394.8,699.4 395.4,699.4 395.4,700.4 396.0,700.9 396.0,700.1 396.6,699.9 396.6,701.1 397.2,701.1 397.2,700.5 397.8,700.3 397.8,701.4 398.4,701.7 398.4,700.8 399.0,700.7 399.0,701.4 399.6,701.7 399.6,700.9 400.1,699.7 400.1,701.3 400.4,701.5 400.4,701.0 401.0,699.7 401.0,701.6 401.4,701.4 401.4,700.2 401.9,700.2 401.9,701.9 402.3,702.8 402.3,700.7 402.8,700.2 402.8,702.7 403.2,702.4 403.2,699.9 403.7,700.4 403.7,703.0 404.0,703.2 404.0,700.4 404.3,700.2 404.3,704.0 404.6,704.4 404.6,701.2 404.9,701.4 404.9,704.7 405.2,704.5 405.2,702.0 405.5,702.3 405.5,704.3 405.9,703.8 405.9,700.8 406.2,700.8 406.2,704.0 406.5,704.8 406.5,701.4 406.8,702.1 406.8,704.9 407.1,704.4 407.1,702.6 407.6,701.8 407.6,704.6 407.9,705.3 407.9,701.5 408.2,701.1 408.2,705.5 408.5,705.9 408.5,701.7 408.8,701.5 408.8,705.7 409.1,705.4 409.1,702.2 409.4,701.9 409.4,705.0 409.7,705.1 409.7,702.5 410.0,703.0 410.0,705.6 410.3,705.0 410.3,702.4 410.6,702.8 410.6,705.6 410.9,704.8 410.9,702.7 411.2,702.3 411.2,704.7 411.6,704.3 411.6,702.5 412.1,702.6 412.1,704.3 412.5,704.3 412.5,702.5 413.0,702.5 413.0,704.2 413.4,704.1 413.4,702.4 413.9,701.9 413.9,704.1 414.3,704.3 414.3,702.1 414.8,702.1 414.8,704.1 415.2,704.1 415.2,702.0 415.7,701.8 415.7,704.4 416.1,704.2 416.1,701.6 416.6,702.3 416.6,703.2 417.0,703.0 417.0,702.0 417.6,702.2 417.6,702.8 418.2,702.8 418.2,702.0 418.8,702.0 418.8,702.6 419.4,702.3 419.4,701.9 420.0,701.6 420.0,702.4 420.6,702.2 420.6,701.7 421.2,701.8 421.8,701.7 424.8,703.1 425.6,703.8 425.8,703.9 425.8,704.3 426.4,705.2 426.4,704.2 427.0,704.5 427.0,706.2 427.5,706.6 427.5,704.5 427.8,705.3 427.8,706.3 428.1,705.4 428.1,704.7 428.7,704.9 428.7,706.1 429.1,706.9 429.1,705.1 429.6,704.8 429.6,707.2 430.0,707.3 430.0,705.2 430.5,704.9 430.5,708.3 430.8,708.3 430.8,704.9 431.1,704.6 431.1,708.6 431.4,708.5 431.4,704.8 431.7,704.6 431.7,709.0 432.0,708.4 432.0,704.6 432.3,704.5 432.3,707.6 432.6,708.3 432.6,704.1 432.9,704.4 432.9,708.0 433.2,707.5 433.2,704.6 433.5,705.1 433.5,707.0 433.9,707.5 433.9,705.4 434.4,705.1 434.4,707.1 434.8,706.6 434.8,704.9 435.3,704.3 435.3,707.0 435.7,706.6 435.7,704.3 436.0,705.0 436.0,706.9 436.5,706.8 436.5,704.8 436.9,705.7 436.9,707.3 437.4,707.7 437.4,705.2 437.8,704.9 437.8,708.0 438.1,707.7 438.1,704.8 438.4,704.9 438.4,707.9 438.7,707.8 438.7,705.0 439.2,705.4 439.2,708.3 439.5,708.3 439.5,704.9 439.8,705.0 439.8,707.9 440.1,708.3 440.1,704.6 440.4,705.2 440.4,707.9 440.7,707.2 440.7,705.7 441.1,705.2 441.1,707.1 441.6,706.5 441.6,704.8 442.0,704.6 442.0,706.8 442.5,706.2 442.5,705.1 442.9,704.9 442.9,706.0 443.5,705.8 443.5,704.9 444.1,705.4 444.1,706.2 444.7,706.3 444.7,705.2 445.3,705.1 445.3,706.0 445.9,705.8 445.9,705.4 446.5,705.3 446.5,705.9 447.1,706.2 447.1,705.6 447.7,705.6 447.7,706.3 448.3,706.5 448.3,705.6 448.9,705.5 448.9,706.5 449.5,706.4 449.5,705.9 450.1,705.7 450.1,706.3 450.7,706.3 450.7,705.7 451.3,705.6 451.3,706.3 451.9,705.9 452.3,705.8 452.5,706.2 452.5,705.7 453.1,705.7 453.1,706.1 453.7,705.8 454.3,705.7 454.9,705.9 455.1,706.1 455.1,705.9 455.7,705.8 455.7,706.6 456.3,706.5 456.3,706.0 456.9,706.1 456.9,706.4 457.5,707.1 457.5,706.2 458.1,706.4 458.1,707.3 458.7,707.8 458.7,706.1 459.2,705.8 459.2,707.6 459.6,707.6 459.6,706.1 460.1,706.1 460.1,707.2 460.7,707.0 460.7,706.2 461.3,706.3 461.3,707.1 461.9,706.8 461.9,706.5 462.5,706.5 462.5,706.9 463.1,706.8 463.1,706.3 463.7,706.5 463.7,706.9 464.3,706.9 464.3,706.5 464.9,706.5 464.9,707.0 465.5,707.2 465.5,706.7 466.1,706.9 466.1,707.2 466.7,707.2 466.7,706.7 467.3,706.8 467.3,707.4 467.9,707.3 467.9,706.5 468.5,706.6 468.5,708.4 468.9,708.1 468.9,706.9 469.4,706.1 469.4,708.1 469.8,708.2 469.8,706.3 470.3,705.8 470.3,708.2 470.6,708.5 470.6,705.6 470.9,705.6 470.9,708.6 471.2,708.5 471.2,705.6 471.6,705.7 471.6,707.9 471.9,708.1 471.9,705.8 472.2,705.2 472.2,708.4 472.5,708.4 472.5,705.5 472.8,705.8 472.8,709.2 473.1,709.0 473.1,705.2 473.4,705.0 473.4,709.0 473.7,709.2 473.7,705.1 474.0,704.9 474.0,709.8 474.3,709.7 474.3,705.1 474.6,705.1 474.6,709.0 474.9,709.4 474.9,704.8 475.2,705.1 475.2,710.4 475.5,710.0 475.5,705.0 475.8,705.1 475.8,709.7 476.1,709.1 476.1,704.4 476.4,704.1 476.4,709.7 476.7,709.2 476.7,704.1 477.0,704.1 477.0,709.2 477.3,709.1 477.3,703.9 477.6,704.0 477.6,708.4 477.9,707.7 477.9,704.4 478.2,704.4 478.2,707.4 478.5,707.3 478.5,704.0 478.8,703.8 478.8,707.2 479.1,706.8 479.1,703.6 479.4,703.5 479.4,706.7 479.7,705.6 479.7,703.8 480.2,703.1 480.2,705.3 480.6,704.3 480.6,703.2 481.2,703.3 481.2,704.2 481.8,703.8 481.8,703.2 482.4,703.2 482.4,704.1 483.0,704.2 483.0,703.0 483.6,703.5 483.6,703.9 484.2,704.5 484.2,703.3 484.5,703.1 484.5,704.7 485.1,704.5 485.1,703.9 485.7,704.5 486.9,705.3 487.1,705.3 487.1,705.8 487.4,707.1 487.4,705.9 487.7,706.4 487.7,708.5 488.0,707.9 488.0,707.0 488.5,706.9 488.5,708.2 488.8,708.4 488.8,706.8 489.1,706.7 489.1,708.3 489.7,708.5 489.7,706.7 490.1,707.2 490.1,709.0 490.6,708.9 490.6,707.0 491.0,707.4 491.0,708.7 491.5,709.4 491.5,707.2 491.9,708.0 491.9,709.5 492.4,709.2 492.4,707.5 492.8,707.4 492.8,709.0 493.3,709.8 493.3,707.3 493.7,706.9 493.7,709.3 494.0,709.7 494.0,707.3 494.3,706.9 494.3,710.0 494.6,710.2 494.6,707.5 494.9,707.9 494.9,710.2 495.4,710.2 495.4,707.7 495.8,707.4 495.8,710.2 496.3,709.7 496.3,707.8 496.7,707.6 496.7,709.9 497.2,710.0 497.2,707.8 497.6,708.1 497.6,709.6 498.1,709.7 498.1,707.7 498.5,708.6 498.5,709.6 499.0,709.6 499.0,708.6 499.4,708.0 499.4,710.2 499.9,709.8 499.9,708.8 500.3,707.8 500.3,710.4 500.8,709.9 500.8,707.3 501.1,706.9 501.1,709.7 501.4,709.7 501.4,707.4 501.7,707.2 501.7,709.5 502.1,710.0 502.1,706.4 502.4,706.3 502.4,709.8 502.7,709.8 502.7,706.6 503.0,706.5 503.0,710.2 503.3,709.9 503.3,706.7 503.6,706.6 503.6,710.2 503.9,710.2 503.9,706.4 504.2,706.6 504.2,709.7 504.5,710.1 504.5,706.7 504.8,706.3 504.8,710.3 505.1,710.4 505.1,705.8 505.4,705.9 505.4,710.1 505.7,710.1 505.7,706.1 506.0,706.0 506.0,710.3 506.3,711.1 506.3,706.9 506.6,707.1 506.6,710.5 506.9,710.5 506.9,707.2 507.2,707.0 507.2,710.7 507.5,710.1 507.5,706.9 507.8,706.4 507.8,708.6 508.1,707.7 508.1,706.3 508.7,706.7 508.7,707.3 509.3,707.2 509.3,706.7 509.9,706.3 509.9,707.4 510.5,706.9 510.5,706.0 511.1,705.2 511.1,706.7 511.6,706.8 511.6,704.5 512.0,704.3 512.0,706.9 512.5,706.7 512.5,703.7 512.8,703.7 512.8,705.9 513.1,705.7 513.1,703.6 513.5,703.1 513.5,705.5 514.0,704.8 514.0,702.7 514.4,702.1 514.4,705.0 514.9,704.3 514.9,702.2 515.3,702.0 515.3,705.1 515.6,704.7 515.6,701.5 515.9,701.2 515.9,704.8 516.2,703.8 516.2,701.2 516.5,701.4 516.5,704.5 516.8,705.2 516.8,701.2 517.1,700.3 517.1,705.2 517.4,705.6 517.4,699.8 517.7,699.3 517.7,705.2 518.0,704.5 518.0,699.2 518.3,699.6 518.3,704.0 518.6,704.1 518.6,699.1 518.9,699.6 518.9,704.2 519.2,705.1 519.2,699.3 519.5,699.3 519.5,705.4 519.8,705.1 519.8,699.0 520.1,698.9 520.1,705.4 520.4,704.9 520.4,698.6 520.7,698.8 520.7,704.4 521.0,704.8 521.0,699.2 521.3,699.9 521.3,704.5 521.6,703.9 521.6,698.9 521.9,699.2 521.9,704.7 522.2,705.1 522.2,698.5 522.5,698.8 522.5,705.1 522.8,705.2 522.8,699.0 523.1,699.5 523.1,704.7 523.4,704.7 523.4,699.6 523.7,699.2 523.7,704.2 524.0,704.8 524.0,699.5 524.3,699.9 524.3,704.8 524.6,705.3 524.6,699.9 524.9,699.9 524.9,705.6 525.2,705.7 525.2,699.7 525.5,699.6 525.5,705.1 525.8,705.0 525.8,699.3 526.1,699.4 526.1,704.7 526.4,704.9 526.4,699.1 526.7,699.9 526.7,705.4 527.0,705.3 527.0,700.1 527.3,700.3 527.3,705.5 527.6,705.9 527.6,699.8 527.9,700.1 527.9,705.4 528.2,705.9 528.2,700.4 528.5,701.0 528.5,705.4 528.8,705.1 528.8,701.5 529.1,701.5 529.1,705.1 529.4,705.7 529.4,702.2 529.7,703.2 529.7,705.3 530.0,705.0 530.0,703.1 530.5,703.5 530.5,704.9 530.9,705.3 530.9,703.4 531.4,703.8 531.4,704.9 531.8,705.4 531.8,703.5 532.3,703.5 532.3,705.5 532.7,705.2 532.7,704.0 533.2,704.1 533.2,705.1 533.8,705.1 533.8,704.2 534.4,704.2 534.4,705.2 535.0,705.2 535.0,704.6 535.6,704.8 535.6,705.3 536.2,705.2 537.8,705.4 538.0,705.5 538.0,705.1 538.6,705.4 541.2,705.4 541.4,705.1 541.4,705.5 542.0,705.5 542.0,704.8 542.6,705.0 542.6,705.7 543.2,705.4 543.2,704.7 543.6,704.8 543.6,705.6 544.2,705.4 544.2,704.9 544.8,705.3 544.8,705.8 545.4,705.6 548.0,705.7 548.2,705.9 548.2,705.6 548.8,705.4 548.8,706.0 549.4,706.0 549.4,705.5 550.0,705.5 550.0,705.8 550.6,705.8 550.6,705.1 551.2,705.2 551.2,706.3 551.8,706.3 551.8,705.3 552.4,704.6 552.4,705.7 552.9,705.9 552.9,704.3 553.5,703.8 553.5,706.0 553.9,706.5 553.9,704.3 554.4,703.8 554.4,706.3 554.8,706.3 554.8,703.3 555.1,702.6 555.1,706.5 555.4,705.9 555.4,702.3 555.7,702.6 555.7,706.4 556.0,706.2 556.0,702.5 556.3,703.8 556.3,705.9 556.6,706.1 556.6,704.2 557.1,704.1 557.1,706.2 557.5,706.2 557.5,705.1 558.0,704.9 558.0,706.4 558.6,706.4 558.6,704.9 559.2,704.7 559.2,705.9 559.8,706.1 559.8,705.3 560.4,705.0 560.4,706.2 561.0,706.1 561.0,705.1 561.6,705.7 561.6,706.6 562.2,706.7 562.2,705.7 562.8,705.6 562.8,706.3 563.4,706.3 563.4,705.7 564.0,705.4 564.0,706.4 564.6,706.5 564.6,705.6 565.2,705.6 565.2,706.4 565.8,706.9 565.8,705.6 566.4,705.8 566.4,707.1 567.0,706.6 567.0,706.0 567.6,706.0 567.6,706.6 568.2,706.8 568.2,706.2 568.8,706.1 568.8,706.5 569.4,706.9 569.4,706.2 570.0,706.1 570.0,706.7 570.6,706.9 570.6,706.2 571.2,706.1 571.2,706.7 571.8,706.8 571.8,706.4 572.4,706.3 572.4,706.9 573.0,706.8 573.0,706.5 573.6,706.7 573.6,706.9 574.2,706.8 575.0,706.8 575.2,707.0 575.2,706.6 575.8,706.7 575.8,706.9 576.4,706.9 576.4,706.7 577.0,706.7 577.0,706.9 577.6,707.1 577.6,706.7 578.2,706.6 578.2,707.2 578.8,707.1 578.8,706.7 579.4,706.8 579.4,707.0 580.0,707.3 580.0,706.5 580.6,706.4 580.6,707.1 581.2,707.2 581.2,706.6 581.8,706.6 581.8,707.3 582.4,707.3 582.4,706.5 582.7,705.3 582.7,707.7 583.0,707.4 583.0,702.4 583.3,702.4 583.3,707.3 583.6,707.1 583.6,703.8 583.9,706.7 583.9,707.0 584.5,707.1 584.5,706.5 585.1,706.7 585.1,707.3 585.7,707.2 585.7,706.8 586.3,706.6 586.3,707.6 586.9,707.2 586.9,706.5 587.5,706.8 587.5,707.3 588.1,707.5 588.1,706.8 588.7,706.6 588.7,707.7 589.3,707.5 589.3,706.6 589.9,706.9 589.9,707.5 590.5,707.6 590.5,706.9 591.1,706.8 591.1,707.7 591.7,707.5 591.7,706.6 592.3,706.6 592.3,707.5 592.9,707.5 592.9,706.7 593.5,706.7 593.5,707.7 594.1,707.8 594.1,706.5 594.7,706.8 594.7,707.6 595.3,707.9 595.3,706.2 595.7,706.1 595.7,708.3 596.2,707.8 596.2,706.3 596.8,706.8 596.8,707.8 597.4,707.7 597.4,706.4 598.0,706.5 598.0,707.8 598.6,707.8 598.6,706.3 599.2,706.9 599.2,707.9 599.8,707.7 599.8,706.6 600.4,706.5 600.4,707.9 600.8,707.6 600.8,705.8 601.3,705.7 601.3,708.2 601.7,708.1 601.7,706.1 602.2,705.9 602.2,707.3 602.5,707.5 602.5,697.6 602.8,692.4 602.8,707.6 603.1,708.0 603.1,693.9 603.4,694.7 603.4,708.4 603.7,708.2 603.7,696.0 604.0,698.0 604.0,708.3 604.3,708.3 604.3,698.3 604.6,697.8 604.6,708.4 604.9,708.3 604.9,698.0 605.2,697.8 605.2,708.0 605.5,707.5 605.5,697.8 605.8,698.5 605.8,707.6 606.1,707.9 606.1,698.2 606.4,698.6 606.4,708.2 606.7,708.7 606.7,698.4 607.0,698.2 607.0,708.6 607.3,707.9 607.3,697.9 607.6,697.6 607.6,708.2 607.9,708.0 607.9,697.6 608.2,697.2 608.2,708.7 608.5,708.6 608.5,696.9 608.8,697.3 608.8,708.2 609.1,707.8 609.1,696.3 609.4,696.3 609.4,708.1 609.7,708.7 609.7,696.4 610.0,696.8 610.0,708.7 610.3,708.6 610.3,696.5 610.6,697.0 610.6,707.8 610.9,708.1 610.9,696.3 611.2,696.6 611.2,708.1 611.5,708.6 611.5,696.3 611.8,696.7 611.8,708.2 612.1,708.2 612.1,697.1 612.4,697.3 612.4,708.6 612.7,708.2 612.7,697.0 613.0,697.7 613.0,708.2 613.3,708.2 613.3,698.0 613.6,699.0 613.6,708.0 613.9,708.4 613.9,699.3 614.2,698.9 614.2,708.1 614.5,706.9 614.5,698.3 614.8,698.8 614.8,707.2 615.1,707.4 615.1,699.0 615.4,699.2 615.4,707.9 615.7,707.7 615.7,699.1 616.0,698.8 616.0,707.6 616.3,707.2 616.3,699.0 616.6,698.1 616.6,707.7 616.9,707.1 616.9,697.7 617.2,697.6 617.2,707.4 617.5,707.8 617.5,697.6 617.8,697.2 617.8,707.8 618.1,707.6 618.1,697.9 618.4,697.7 618.4,708.1 618.7,708.3 618.7,697.4 619.0,697.3 619.0,708.0 619.3,708.6 619.3,697.3 619.6,697.2 619.6,708.2 619.9,708.6 619.9,697.2 620.2,697.2 620.2,708.1 620.5,707.8 620.5,696.7 620.8,697.3 620.8,707.7 621.1,708.2 621.1,697.3 621.4,697.6 621.4,707.9 621.7,708.2 621.7,697.4 622.0,697.1 622.0,708.2 622.3,707.9 622.3,696.7 622.6,697.4 622.6,708.0 622.9,707.9 622.9,697.1 623.2,697.9 623.2,708.4 623.5,707.7 623.5,697.7 623.8,697.1 623.8,707.5 624.1,707.8 624.1,697.0 624.4,696.4 624.4,707.4 624.7,707.8 624.7,696.6 625.0,697.1 625.0,707.5 625.3,707.0 625.3,697.2 625.6,696.9 625.6,706.7 625.9,707.2 625.9,697.0 626.2,697.5 626.2,708.4 626.5,708.4 626.5,698.3 626.8,697.9 626.8,707.9 627.1,707.2 627.1,698.6 627.4,698.8 627.4,707.8 627.7,708.5 627.7,698.8 628.0,699.3 628.0,708.1 628.3,708.1 628.3,699.7 628.6,700.2 628.6,707.8 628.9,707.3 628.9,699.6 629.2,700.1 629.2,707.8 629.5,708.0 629.5,700.6 629.8,700.5 629.8,708.2 630.1,708.3 630.1,700.4 630.4,700.2 630.4,708.0 630.7,707.7 630.7,699.8 631.0,699.4 631.0,708.7 631.3,708.8 631.3,699.7 631.6,700.2 631.6,708.5 631.9,708.3 631.9,700.3 632.2,700.8 632.2,707.9 632.5,708.1 632.5,700.8 632.8,700.9 632.8,707.8 633.1,708.0 633.1,701.3 633.4,701.8 633.4,708.1 633.7,708.1 633.7,701.4 634.0,701.7 634.0,708.5 634.3,708.2 634.3,701.2 634.6,701.1 634.6,708.1 634.9,708.0 634.9,701.0 635.2,700.6 635.2,708.1 635.5,708.3 635.5,700.6 635.8,701.1 635.8,708.1 636.1,708.6 636.1,701.1 636.4,700.4 636.4,707.9 636.7,707.7 636.7,700.3 637.0,700.5 637.0,708.3 637.3,708.3 637.3,700.5 637.6,700.0 637.6,708.0 637.9,708.1 637.9,700.0 638.2,700.4 638.2,707.6 638.5,707.2 638.5,700.4 638.8,699.9 638.8,707.1 639.1,707.1 639.1,699.1 639.4,699.0 639.4,707.5 639.7,707.9 639.7,699.0 640.0,698.9 640.0,707.8 640.3,707.8 640.3,698.5 640.6,697.3 640.6,708.0 640.9,708.0 640.9,697.5 641.2,697.4 641.2,708.5 641.5,708.2 641.5,696.3 641.8,694.9 641.8,707.9 642.1,707.9 642.1,694.9 642.4,693.3 642.4,708.1 642.7,708.4 642.7,693.1 643.0,696.6 643.0,708.7 643.3,708.1 643.3,697.3 643.6,697.6 643.6,708.5 643.9,708.4 643.9,698.1 644.2,698.4 644.2,708.5 644.5,707.7 644.5,698.0 644.8,699.1 644.8,707.9 645.1,707.6 645.1,699.5 645.4,700.3 645.4,707.9 645.7,707.4 645.7,700.6 646.0,699.6 646.0,707.4 646.3,707.8 646.3,699.7 646.6,699.0 646.6,707.8 646.9,707.9 646.9,699.4 647.2,699.3 647.2,706.8 647.5,707.3 647.5,698.8 647.8,699.3 647.8,707.6 648.1,707.9 648.1,699.7 648.4,699.2 648.4,708.5 648.7,708.7 648.7,698.6 649.0,698.9 649.0,708.6 649.3,708.2 649.3,696.8 649.6,697.4 649.6,708.2 649.9,708.3 649.9,697.9 650.2,698.5 650.2,707.9 650.5,708.5 650.5,698.6 650.8,699.1 650.8,708.2 651.1,707.2 651.1,699.9 651.4,700.2 651.4,707.2 651.7,708.1 651.7,699.9 652.0,700.1 652.0,708.1 652.3,708.0 652.3,700.7 652.6,700.5 652.6,707.8 652.9,708.1 652.9,700.4 653.2,701.0 653.2,708.4 653.5,708.7 653.5,701.0 653.8,701.3 653.8,708.6 654.1,708.3 654.1,701.0 654.4,701.2 654.4,709.0 654.7,709.0 654.7,701.5 655.0,701.3 655.0,709.2 655.3,708.3 655.3,701.5 655.6,701.2 655.6,708.7 655.9,708.6 655.9,701.3 656.2,701.5 656.2,708.3 656.5,709.0 656.5,701.0 656.8,700.6 656.8,708.8 657.1,708.9 657.1,701.3 657.4,701.4 657.4,708.0 657.7,707.6 657.7,701.0 658.0,701.8 658.0,707.7 658.3,707.4 658.3,702.2 658.6,702.0 658.6,707.8 658.9,707.9 658.9,702.1 659.2,702.0 659.2,707.6 659.5,707.5 659.5,702.1 659.8,701.0 659.8,707.5 660.1,707.6 660.1,700.6 660.4,700.6 660.4,707.7 660.7,707.9 660.7,701.4 661.0,701.0 661.0,708.2 661.3,708.0 661.3,700.4 661.6,700.6 661.6,708.3 661.9,708.6 661.9,700.6 662.2,701.0 662.2,708.4 662.5,708.3 662.5,701.5 662.8,701.4 662.8,708.5 663.1,707.8 663.1,701.6 663.4,701.0 663.4,708.0 663.7,708.1 663.7,700.8 664.0,700.5 664.0,708.0 664.3,708.2 664.3,700.8 664.6,700.3 664.6,708.4 664.9,707.6 664.9,700.9 665.2,700.9 665.2,707.4 665.5,707.5 665.5,701.2 665.8,701.1 665.8,707.9 666.1,708.8 666.1,701.2 666.4,701.1 666.4,708.9 666.7,709.3 666.7,701.0 667.0,700.5 667.0,709.1 667.3,709.0 667.3,700.3 667.6,700.2 667.6,708.5 667.9,707.9 667.9,700.7 668.2,700.3 668.2,708.1 668.5,707.6 668.5,700.1 668.8,699.8 668.8,708.1 669.1,708.4 669.1,700.2 669.4,700.5 669.4,708.7 669.7,708.0 669.7,700.8 670.0,700.2 670.0,707.3 670.3,707.3 670.3,700.2 670.6,700.4 670.6,707.9 670.9,708.2 670.9,700.3 671.2,700.6 671.2,708.9 671.5,708.8 671.5,700.4 671.8,701.0 671.8,708.3 672.1,708.6 672.1,701.0 672.4,700.5 672.4,708.0 672.7,708.0 672.7,700.7 673.0,701.2 673.0,708.0 673.3,708.2 673.3,701.0 673.6,701.0 673.6,707.5 673.9,708.0 673.9,700.9 674.2,700.7 674.2,708.6 674.5,708.9 674.5,700.5 674.8,701.4 674.8,708.9 675.1,708.3 675.1,701.5 675.4,701.8 675.4,707.6 675.7,707.5 675.7,701.9 676.0,701.8 676.0,707.5 676.3,707.1 676.3,701.9 676.6,702.3 676.6,707.8 676.9,708.5 676.9,702.3 677.2,702.0 677.2,708.9 677.5,709.2 677.5,702.4 677.8,702.1 677.8,709.1 678.1,708.7 678.1,701.1 678.4,700.8 678.4,708.8 678.7,707.7 678.7,701.1 679.0,700.8 679.0,707.3 679.3,706.7 679.3,701.5 679.6,701.3 679.6,707.3 679.9,707.7 679.9,701.2 680.2,700.7 680.2,708.3 680.5,707.9 680.5,700.6 680.8,701.0 680.8,707.7 681.1,707.7 681.1,701.0 681.4,700.8 681.4,707.6 681.7,707.4 681.7,701.0 682.0,700.7 682.0,707.6 682.3,707.9 682.3,700.9 682.6,701.4 682.6,708.2 682.9,708.2 682.9,700.7 683.2,700.7 683.2,708.2 683.5,708.0 683.5,700.9 683.8,701.7 683.8,707.8 684.1,707.7 684.1,701.9 684.4,701.3 684.4,707.8 684.7,708.4 684.7,701.4 685.0,701.5 685.0,709.1 685.3,709.2 685.3,701.1 685.6,701.2 685.6,708.5 685.9,708.2 685.9,701.5 686.2,701.0 686.2,707.7 686.5,707.3 686.5,701.2 686.8,700.4 686.8,707.5 687.1,707.9 687.1,700.3 687.4,700.2 687.4,707.8 687.7,708.0 687.7,700.6 688.0,700.7 688.0,708.5 688.3,707.9 688.3,700.5 688.6,700.3 688.6,708.0 688.9,708.4 688.9,700.0 689.2,699.4 689.2,708.2 689.5,707.8 689.5,699.1 689.8,699.6 689.8,708.0 690.1,708.8 690.1,699.7 690.4,699.0 690.4,708.3 690.7,708.9 690.7,698.7 691.0,699.0 691.0,708.4 691.3,708.6 691.3,699.4 691.6,698.6 691.6,708.4 691.9,708.1 691.9,699.2 692.2,699.4 692.2,707.8 692.5,707.9 692.5,698.9 692.8,698.5 692.8,708.7 693.1,708.1 693.1,698.7 693.4,698.0 693.4,707.7 693.7,707.3 693.7,698.3 694.0,698.8 694.0,707.3 694.3,707.3 694.3,698.4 694.6,698.3 694.6,707.8 694.9,707.5 694.9,698.4 695.2,698.1 695.2,707.6 695.5,708.5 695.5,698.5 695.8,698.9 695.8,708.5 696.1,708.5 696.1,698.3 696.4,697.8 696.4,707.7 696.7,707.3 696.7,697.9 697.0,698.2 697.0,707.1 697.3,707.7 697.3,698.3 697.6,697.8 697.6,707.2 697.9,707.3 697.9,697.3 698.2,697.0 698.2,707.1 698.5,707.5 698.5,697.2 698.8,700.3 698.8,707.7 699.1,707.3 699.1,700.9 699.4,701.4 699.4,707.9 699.7,708.3 699.7,701.3 700.0,701.7 700.0,708.8 700.3,708.1 700.3,701.6 700.6,701.8 700.6,707.4 700.9,707.4 700.9,701.5 701.2,701.6 701.2,708.1 701.5,707.3 701.5,701.9 701.8,701.0 701.8,707.5 702.1,708.1 702.1,701.3 702.4,701.0 702.4,708.3 702.7,708.5 702.7,700.7 703.0,700.5 703.0,708.1 703.3,707.7 703.3,699.9 703.6,698.6 703.6,708.1 703.9,708.3 703.9,696.7 704.2,695.9 704.2,708.0 704.5,707.8 704.5,694.6 704.8,692.7 704.8,708.0 705.1,708.2 705.1,693.0 705.4,691.3 705.4,708.2 705.7,707.9 705.7,693.5 706.0,693.2 706.0,707.7 706.3,708.1 706.3,693.3 706.6,693.8 706.6,707.8 706.9,708.3 706.9,694.0 707.2,695.2 707.2,708.3 707.5,708.1 707.5,695.5 707.8,694.8 707.8,708.1 708.1,708.2 708.1,694.7 708.4,695.3 708.4,707.5 708.7,708.0 708.7,695.0 709.0,695.8 709.0,707.8 709.3,707.7 709.3,695.9 709.6,696.5 709.6,707.7 709.9,707.6 709.9,697.0 710.2,696.7 710.2,708.0 710.5,707.9 710.5,696.8 710.8,697.2 710.8,707.4 711.1,707.5 711.1,697.4 711.4,696.8 711.4,707.9 711.7,707.8 711.7,697.2 712.0,696.8 712.0,708.1 712.3,708.0 712.3,697.1 712.6,698.5 712.6,707.4 712.9,707.3 712.9,698.6 713.2,699.3 713.2,707.4 713.5,707.4 713.5,699.2 713.8,700.2 713.8,706.8 714.1,707.2 714.1,700.4 714.4,700.3 714.4,707.5 714.7,708.0 714.7,700.2 715.0,700.4 715.0,708.1 715.3,707.8 715.3,700.2 715.6,699.8 715.6,707.7 715.9,707.4 715.9,700.0 716.2,699.9 716.2,706.9 716.5,706.7 716.5,700.3 716.8,700.5 716.8,707.2 717.1,707.8 717.1,700.3 717.4,700.4 717.4,707.6 717.7,707.5 717.7,700.1 718.0,699.3 718.0,707.1 718.3,707.8 718.3,699.6 718.6,699.9 718.6,708.0 718.9,708.1 718.9,700.0 719.2,700.2 719.2,707.4 719.5,706.8 719.5,700.8 719.8,701.3 719.8,707.3 720.1,707.7 720.1,701.9 720.4,702.7 720.4,707.4 720.7,707.3 720.7,702.6 721.0,703.2 721.0,707.5 721.3,707.2 721.3,703.6 721.6,703.9 721.6,707.1 721.9,707.3 721.9,704.1 722.2,703.7 722.2,707.8 722.5,707.9 722.5,703.3 722.8,703.1 722.8,707.5 723.1,707.7 723.1,702.9 723.4,702.7 723.4,707.2 723.7,707.1 723.7,702.9 724.0,703.1 724.0,707.4 724.3,707.0 724.3,702.6 724.6,702.2 724.6,707.3 724.9,707.7 724.9,702.0 725.2,702.6 725.2,707.7 725.5,707.3 725.5,702.8 725.8,702.2 725.8,707.7 726.1,707.6 726.1,702.1 726.4,701.6 726.4,707.1 726.7,707.7 726.7,701.9 727.0,702.2 727.0,707.3 727.3,707.6 727.3,701.8 727.6,702.1 727.6,707.8 727.9,707.5 727.9,702.1 728.2,702.9 728.2,706.9 728.5,707.2 728.5,702.9 728.8,702.7 728.8,707.3 729.1,707.1 729.1,702.4 729.4,703.0 729.4,707.5 729.7,708.2 729.7,702.8 730.0,702.0 730.0,707.7 730.3,707.6 730.3,701.8 730.6,702.3 730.6,706.7 730.9,707.1 730.9,702.6 731.2,702.5 731.2,707.1 731.5,707.3 731.5,702.4 731.8,702.7 731.8,707.0 732.1,707.1 732.1,702.7 732.4,702.7 732.4,707.5 732.7,707.1 732.7,701.9 733.0,701.8 733.0,707.1 733.3,707.8 733.3,702.1 733.6,702.1 733.6,707.5 733.9,707.4 733.9,702.1 734.2,701.9 734.2,706.9 734.5,706.8 734.5,702.1 734.8,702.2 734.8,707.2 735.1,707.5 735.1,702.1 735.4,702.0 735.4,707.9 735.7,708.1 735.7,702.0 736.0,701.8 736.0,707.9 736.3,707.5 736.3,702.4 736.6,702.2 736.6,707.2 736.9,707.2 736.9,701.9 737.2,701.4 737.2,706.7 737.5,707.2 737.5,701.3 737.8,701.1 737.8,707.2 738.1,707.6 738.1,700.8 738.4,700.6 738.4,707.4 738.7,707.2 738.7,700.6 739.0,701.1 739.0,707.4 739.3,706.9 739.3,701.2 739.6,700.3 739.6,706.6 739.9,707.2 739.9,699.1 740.2,699.2 740.2,707.6 740.5,707.3 740.5,700.7 740.8,700.6 740.8,708.3 741.1,708.1 741.1,700.7 741.4,701.2 741.4,708.0 741.7,707.1 741.7,701.3 742.0,701.2 742.0,706.9 742.3,706.7 742.3,701.3 742.6,701.7 742.6,707.4 742.9,708.0 742.9,701.5 743.2,702.0 743.2,707.5 743.5,707.4 743.5,702.8 743.8,702.6 743.8,707.2 744.1,707.7 744.1,702.5 744.4,702.2 744.4,707.8 744.7,708.1 744.7,702.2 745.0,701.7 745.0,707.1 745.3,706.8 745.3,702.1 745.6,702.5 745.6,706.9 745.9,706.3 745.9,702.2 746.2,702.0 746.2,706.6 746.5,705.8 746.5,701.7 746.8,702.0 746.8,706.0 747.1,706.4 747.1,702.0 747.4,701.2 747.4,707.5 747.7,707.6 747.7,701.0 748.0,701.1 748.0,707.8 748.3,707.1 748.3,701.0 748.6,700.4 748.6,706.6 748.9,707.1 748.9,700.7 749.2,700.3 749.2,707.1 749.5,707.2 749.5,700.6 749.8,700.8 749.8,707.9 750.1,707.5 750.1,700.7 750.4,700.5 750.4,707.6 750.7,706.8 750.7,700.5 751.0,700.4 751.0,707.2 751.3,707.0 751.3,701.0 751.6,700.6 751.6,706.9 751.9,707.3 751.9,701.0 752.2,700.5 752.2,707.1 752.5,706.4 752.5,700.0 752.8,700.3 752.8,706.0 753.1,706.7 753.1,700.2 753.4,700.2 753.4,707.1 753.7,706.7 753.7,700.8 754.0,700.8 754.0,706.9 754.3,706.5 754.3,699.8 754.6,699.3 754.6,706.2 754.9,706.5 754.9,699.3 755.2,700.0 755.2,706.6 755.5,706.5 755.5,700.4 755.8,700.2 755.8,706.7 756.1,706.7 756.1,699.9 756.4,699.5 756.4,707.3 756.7,707.1 756.7,699.8 757.0,699.6 757.0,706.8 757.3,707.4 757.3,699.5 757.6,700.2 757.6,707.3 757.9,707.2 757.9,700.6 758.2,701.2 758.2,706.8 758.5,707.0 758.5,700.7 758.8,700.5 758.8,706.9 759.1,706.9 759.1,700.1 759.4,700.7 759.4,707.4 759.7,707.3 759.7,701.2 760.0,700.5 760.0,707.7 760.3,708.0 760.3,700.5 760.6,700.3 760.6,707.5 760.9,707.4 760.9,700.4 761.2,700.4 761.2,707.3 761.5,706.8 761.5,701.0 761.8,701.1 761.8,706.2 762.1,706.8 762.1,700.8 762.4,699.7 762.4,706.4 762.7,706.9 762.7,699.0 763.0,698.9 763.0,706.6 763.3,706.8 763.3,699.4 763.6,699.2 763.6,707.8 763.9,708.0 763.9,699.7 764.2,700.3 764.2,707.3 764.5,707.5 764.5,699.3 764.8,698.8 764.8,707.2 765.1,706.6 765.1,699.3 765.4,699.4 765.4,706.6 765.7,706.8 765.7,699.2 766.0,699.5 766.0,706.8 766.3,707.1 766.3,700.0 766.6,700.2 766.6,706.6 766.9,706.5 766.9,700.0 767.2,700.8 767.2,707.0 767.5,707.6 767.5,700.7 767.8,700.9 767.8,707.5 768.1,706.6 768.1,701.2 768.4,701.4 768.4,706.7 768.7,706.9 768.7,700.8 769.0,700.7 769.0,707.3 769.3,706.6 769.3,701.1 769.6,701.3 769.6,707.1 769.9,706.8 769.9,700.9 770.2,700.9 770.2,707.1 770.5,707.1 770.5,700.8 770.8,700.6 770.8,707.6 771.1,707.1 771.1,700.1 771.4,699.5 771.4,707.2 771.7,707.0 771.7,699.4 772.0,699.8 772.0,706.8 772.3,706.1 772.3,700.2 772.6,700.3 772.6,706.5 772.9,706.6 772.9,700.1 773.2,700.3 773.2,707.3 773.5,707.4 773.5,700.1 773.8,700.3 773.8,707.2 774.1,706.5 774.1,700.7 774.4,700.7 774.4,706.1 774.7,705.9 774.7,701.6 775.0,701.5 775.0,705.8 775.3,706.2 775.3,701.3 775.6,701.2 775.6,706.0 775.9,706.3 775.9,701.8 776.2,701.8 776.2,705.9 776.5,706.3 776.5,701.2 776.8,702.1 776.8,705.9 777.1,706.4 777.1,701.9 777.4,702.1 777.4,707.0 777.7,707.3 777.7,701.9 778.0,701.3 778.0,707.3 778.3,707.7 778.3,701.9 778.6,701.9 778.6,707.1 778.9,707.2 778.9,702.7 779.2,702.3 779.2,706.8 779.5,706.7 779.5,701.9 779.8,701.9 779.8,706.2 780.1,707.2 780.1,701.7 780.4,701.6 780.4,706.8 780.7,706.9 780.7,702.1 781.0,701.6 781.0,706.7 781.3,706.4 781.3,701.7 781.6,702.2 781.6,705.6 781.9,705.6 781.9,701.8 782.2,701.8 782.2,706.1 782.5,705.7 782.5,701.5 782.8,701.2 782.8,706.0 783.1,705.8 783.1,701.6 783.4,701.7 783.4,706.0 783.7,705.9 783.7,701.9 784.0,702.5 784.0,705.9 784.3,707.1 784.3,702.5 784.6,702.8 784.6,707.5 784.9,707.9 784.9,702.2 785.2,702.4 785.2,707.9 785.5,707.5 785.5,702.3 785.8,702.8 785.8,706.7 786.1,706.5 786.1,703.2 786.4,703.0 786.4,706.2 786.7,706.5 786.7,703.2 787.0,702.8 787.0,706.4 787.3,706.0 787.3,703.1 787.6,703.2 787.6,705.6 787.9,706.7 787.9,703.2 788.2,703.6 788.2,706.6 788.5,707.0 788.5,703.2 788.8,703.9 788.8,706.8 789.1,706.4 789.1,704.4 789.4,704.2 789.4,706.6 789.8,706.1 789.8,704.9 790.3,704.7 790.3,706.2 790.7,705.8 790.7,704.8 791.3,705.1 791.3,706.1 791.9,706.3 791.9,704.8 792.4,704.6 792.4,706.2 792.8,706.2 792.8,704.8 793.4,705.6 793.4,706.0 794.0,706.2 794.0,705.6 794.6,705.5 794.6,706.4 795.2,706.5 795.2,705.7 795.8,705.7 795.8,706.4 796.4,706.1 796.4,705.5 797.0,705.6 797.0,706.1 797.6,706.3 797.6,705.7 798.2,705.8 798.2,706.3 798.8,706.1 798.8,705.8"/>
<polyline id="s408" stroke="#ffa500" points="305.2,700.4 305.2,702.5 305.7,701.9 305.7,700.3 306.1,700.2 306.1,702.0 306.6,702.0 306.6,699.5 307.0,700.2 307.0,702.3 307.5,702.1 307.5,699.4 307.8,699.3 307.8,702.2 308.1,701.8 308.1,699.2 308.4,699.1 308.4,702.0 308.7,701.7 308.7,699.4 309.0,699.9 309.0,701.9 309.4,702.4 309.4,700.0 309.7,700.7 309.7,703.3 310.0,703.3 310.0,700.7 310.3,700.7 310.3,703.1 310.6,702.9 310.6,700.2 310.9,700.1 310.9,703.0 311.2,702.8 311.2,699.7 311.5,699.8 311.5,702.3 311.8,702.0 311.8,699.4 312.1,699.6 312.1,702.5 312.6,702.2 312.6,700.7 313.0,699.8 313.0,702.0 313.5,702.5 313.5,700.0 313.8,699.6 313.8,702.6 314.1,702.7 314.1,699.7 314.4,700.0 314.4,702.9 314.7,703.1 314.7,699.9 315.0,699.6 315.0,702.8 315.3,702.9 315.3,698.8 315.6,699.5 315.6,702.6 315.9,702.1 315.9,699.1 316.2,699.7 316.2,702.2 316.5,703.2 316.5,700.4 316.8,700.6 316.8,702.6 317.1,703.1 317.1,700.1 317.4,700.2 317.4,702.8 317.8,702.4 317.8,700.4 318.3,700.1 318.3,701.8 318.7,701.9 318.7,700.4 319.2,700.6 319.2,701.8 319.6,702.1 319.6,700.3 320.1,699.6 320.1,701.3 320.5,701.7 320.5,699.8 321.0,699.8 321.0,702.0 321.4,702.5 321.4,699.9 321.9,699.7 321.9,702.5 322.3,702.8 322.3,699.9 322.6,699.8 322.6,703.4 322.9,702.7 322.9,700.2 323.2,699.9 323.2,702.7 323.5,702.3 323.5,700.4 324.0,700.7 324.0,702.8 324.4,702.1 324.4,699.6 324.9,699.7 324.9,701.9 325.3,701.8 325.3,699.7 325.8,699.6 325.8,701.8 326.2,702.0 326.2,699.3 326.5,700.0 326.5,701.8 327.0,701.8 327.0,700.0 327.4,699.3 327.4,702.4 327.9,702.1 327.9,699.6 328.3,700.1 328.3,702.3 328.8,701.7 328.8,699.9 329.2,699.9 329.2,700.9 329.5,702.4 329.5,700.2 329.8,698.9 329.8,702.0 330.1,701.5 330.1,698.8 330.4,697.7 330.4,700.6 330.7,700.0 330.7,697.1 331.0,696.1 331.0,699.4 331.3,699.1 331.3,695.3 331.6,693.4 331.6,697.7 331.9,696.5 331.9,692.3 332.2,690.5 332.2,695.1 332.5,693.4 332.5,689.3 332.8,687.8 332.8,691.8 333.1,690.1 333.1,687.1 333.4,686.9 333.4,690.2 333.7,689.5 333.7,686.9 334.0,686.5 334.0,688.5 334.3,688.5 334.3,685.9 334.6,687.1 334.6,688.1 335.2,688.2 335.2,687.7 335.8,687.1 335.8,689.2 336.1,689.5 336.1,687.6 336.6,687.3 336.6,690.3 337.0,691.0 337.0,688.2 337.3,688.7 337.3,691.7 337.6,692.1 337.6,689.6 337.9,690.0 337.9,693.0 338.2,693.6 338.2,691.2 338.5,692.1 338.5,694.1 338.8,694.9 338.8,692.1 339.1,693.1 339.1,695.6 339.4,696.4 339.4,693.7 339.7,694.2 339.7,697.0 340.0,697.9 340.0,695.3 340.3,696.1 340.3,698.7 340.6,699.3 340.6,696.8 340.9,697.6 340.9,700.1 341.2,700.2 341.2,697.7 341.7,698.7 341.7,700.7 342.1,701.7 342.1,698.8 342.6,699.0 342.6,702.0 342.9,701.0 342.9,700.3 343.5,700.3 343.5,701.9 343.9,702.3 343.9,700.2 344.4,699.7 344.4,702.4 344.7,702.8 344.7,700.2 345.1,700.5 345.1,701.9 345.6,701.2 345.6,700.3 345.9,699.3 345.9,701.9 346.2,702.4 346.2,698.9 346.5,698.5 346.5,701.2 346.8,700.8 346.8,698.2 347.1,697.9 347.1,700.7 347.4,700.3 347.4,697.1 347.7,696.8 347.7,699.5 348.0,698.9 348.0,695.9 348.3,695.5 348.3,698.3 348.6,697.2 348.6,694.1 348.9,693.3 348.9,697.1 349.2,695.9 349.2,693.1 349.5,692.1 349.5,694.9 349.8,693.8 349.8,690.8 350.1,690.5 350.1,693.0 350.5,693.1 350.5,690.3 350.8,691.6 350.8,692.5 351.1,692.9 351.1,691.1 351.6,690.1 351.6,692.6 351.9,692.6 351.9,689.3 352.2,688.3 352.2,692.8 352.5,692.7 352.5,688.9 352.8,687.9 352.8,693.3 353.1,693.3 353.1,687.5 353.4,687.4 353.4,693.4 353.7,692.8 353.7,687.0 354.0,686.7 354.0,692.9 354.3,692.4 354.3,685.7 354.6,676.0 354.6,692.8 354.9,692.4 354.9,670.9 355.2,670.3 355.2,692.2 355.5,692.8 355.5,670.4 355.8,674.9 355.8,692.8 356.1,692.9 356.1,675.7 356.4,676.5 356.4,693.0 356.7,692.8 356.7,676.3 357.0,676.8 357.0,692.9 357.3,693.3 357.3,676.5 357.6,676.4 357.6,692.4 357.9,692.1 357.9,675.9 358.2,675.7 358.2,692.7 358.5,693.4 358.5,676.0 358.8,677.1 358.8,692.9 359.1,693.2 359.1,677.2 359.4,677.1 359.4,692.8 359.7,692.6 359.7,676.4 360.0,676.9 360.0,692.3 360.3,692.7 360.3,677.1 360.6,674.0 360.6,692.2 360.9,692.7 360.9,671.6 361.2,670.9 361.2,692.4 361.5,692.8 361.5,670.9 361.8,674.5 361.8,692.4 362.1,692.4 362.1,688.9 362.4,691.1 362.4,693.1 362.8,692.4 362.8,691.5 363.4,691.9 363.4,692.6 364.0,692.7 364.0,691.8 364.5,691.5 364.5,692.7 364.9,692.5 364.9,691.4 365.5,691.3 365.5,692.7 366.0,693.1 366.0,691.3 366.6,691.5 366.6,692.8 367.2,692.7 367.2,691.2 367.8,691.7 367.8,692.9 368.1,692.3 368.1,671.1 368.4,670.9 368.4,692.6 368.7,692.7 368.7,691.5 369.3,691.7 369.3,692.4 369.9,692.9 369.9,691.5 370.5,685.8 370.5,692.9 370.8,688.0 370.8,672.2 371.1,672.1 371.1,683.1 371.4,683.6 371.4,672.6 371.7,672.3 371.7,683.5 372.0,684.1 372.0,679.7 372.3,679.8 372.3,683.3 372.6,683.1 372.6,679.9 372.9,679.7 372.9,683.5 373.2,683.4 373.2,679.5 373.5,679.5 373.5,683.1 373.8,683.0 373.8,679.6 374.1,679.9 374.1,683.0 374.4,683.1 374.4,679.6 374.7,679.6 374.7,683.6 375.0,683.3 375.0,679.6 375.3,679.8 375.3,683.4 375.6,681.5 375.6,673.4 375.9,672.8 375.9,674.1 376.3,674.2 376.3,672.9 376.8,673.1 376.8,674.3 377.2,674.6 377.2,673.0 377.7,672.9 377.7,674.8 378.1,674.8 378.1,673.0 378.6,672.8 378.6,674.4 379.0,674.6 379.0,673.0 379.5,673.3 379.5,674.8 379.9,674.6 379.9,673.0 380.4,672.9 380.4,674.7 380.8,674.1 380.8,673.2 381.3,672.9 381.3,674.1 381.7,674.5 381.7,672.8 382.2,673.0 382.2,674.2 382.6,674.5 382.6,672.7 383.1,672.9 383.1,674.6 383.5,674.6 383.5,673.1 384.0,672.6 384.0,682.8 384.3,693.1 384.3,680.8 384.6,691.6 384.6,692.7 385.0,692.8 385.0,692.1 385.5,692.0 385.5,693.0 385.9,693.0 385.9,692.7 386.5,693.0 386.5,693.4 387.1,693.5 387.1,693.3 387.7,693.6 387.7,694.0 388.3,694.1 388.3,693.8 388.9,693.9 388.9,694.6 389.5,694.8 389.5,694.2 390.1,694.6 390.1,695.1 390.7,695.8 390.7,694.6 391.2,694.4 391.2,696.1 391.6,696.5 391.6,694.8 391.9,694.8 391.9,702.8 392.2,702.1 392.2,699.7 392.7,700.3 392.7,702.0 393.1,702.2 393.1,700.2 393.4,700.6 393.4,701.3 394.0,701.2 394.0,700.6 394.6,700.3 394.6,701.4 395.2,701.9 395.2,699.9 395.7,700.1 395.7,701.5 396.1,701.0 396.1,699.8 396.6,699.5 396.6,701.4 397.0,701.5 397.0,700.2 397.5,700.2 397.5,701.2 397.9,701.8 397.9,699.9 398.4,700.1 398.4,701.5 398.8,700.4 398.8,700.0 399.4,700.0 399.4,700.3 400.0,700.8 400.0,699.2 400.5,700.0 400.5,700.5 401.1,700.3 401.1,699.8 401.7,700.0 401.7,700.6 402.3,701.1 402.3,700.4 402.9,700.6 402.9,701.1 403.5,701.4 403.5,700.9 404.1,700.9 404.1,702.0 404.7,702.5 404.7,700.8 405.1,701.1 405.1,702.6 405.6,702.5 405.6,701.3 406.0,701.1 406.0,702.6 406.5,702.1 406.5,700.6 406.9,701.3 406.9,702.4 407.4,702.6 407.4,700.8 407.8,701.3 407.8,702.7 408.3,703.2 408.3,701.5 408.7,701.1 408.7,703.2 409.2,702.9 409.2,701.1 409.6,701.8 409.6,702.9 410.1,703.2 410.1,701.5 410.5,701.9 410.5,703.4 411.0,703.6 411.0,701.7 411.4,701.6 411.4,704.2 411.9,703.4 411.9,701.4 412.3,701.7 412.3,704.2 412.8,704.0 412.8,701.4 413.2,701.6 413.2,704.0 413.7,703.4 413.7,701.6 414.1,702.3 414.1,703.0 414.6,702.8 414.6,701.8 415.0,701.6 415.0,702.9 415.5,702.5 415.5,701.4 415.9,701.8 415.9,702.7 416.4,703.1 416.4,701.4 416.8,701.6 416.8,702.8 417.4,702.4 417.4,701.5 418.0,701.6 418.0,702.2 418.6,702.2 418.6,701.8 419.2,701.6 419.2,702.2 419.8,702.0 419.8,701.7 420.4,701.7 420.4,702.0 421.0,702.0 421.0,701.6 421.6,700.6 421.6,701.4 421.9,701.3 421.9,697.5 422.2,696.0 422.2,700.9 422.5,700.1 422.5,696.0 422.8,695.7 422.8,699.9 423.1,699.5 423.1,696.3 423.4,696.8 423.4,699.6 423.7,699.5 423.7,696.6 424.0,696.7 424.0,700.1 424.3,699.6 424.3,695.8 424.6,695.8 424.6,699.5 424.9,698.9 424.9,696.0 425.2,695.7 425.2,699.4 425.5,699.5 425.5,695.7 425.8,696.2 425.8,699.5 426.1,700.3 426.1,696.7 426.4,696.7 426.4,699.9 426.7,699.7 426.7,696.2 427.0,696.2 427.0,700.0 427.3,700.2 427.3,695.9 427.6,696.7 427.6,700.7 427.9,700.2 427.9,696.7 428.2,696.8 428.2,700.7 428.5,702.1 428.5,696.7 428.8,701.1 428.8,704.7 429.1,706.5 429.1,703.3 429.4,703.5 429.4,706.4 429.7,706.3 429.7,703.0 430.0,703.0 430.0,706.3 430.3,705.4 430.3,703.4 430.8,703.0 430.8,705.6 431.2,706.0 431.2,703.9 431.7,703.7 431.7,705.5 432.1,705.8 432.1,703.6 432.6,702.9 432.6,705.7 432.9,705.4 432.9,703.2 433.3,703.8 433.3,706.0 433.8,705.2 433.8,704.0 434.2,703.0 434.2,705.4 434.7,705.8 434.7,703.0 435.1,703.4 435.1,705.9 435.6,706.0 435.6,703.7 435.9,703.1 435.9,706.7 436.2,706.8 436.2,704.0 436.5,703.8 436.5,707.4 436.8,706.9 436.8,703.4 437.1,703.8 437.1,707.6 437.4,707.3 437.4,703.4 437.7,703.7 437.7,707.7 438.0,707.3 438.0,703.5 438.3,703.5 438.3,707.6 438.6,707.1 438.6,703.3 438.9,703.2 438.9,706.9 439.2,706.8 439.2,702.8 439.5,703.0 439.5,705.7 439.8,706.0 439.8,703.2 440.2,702.9 440.2,704.5 440.5,706.1 440.5,703.4 440.8,703.1 440.8,706.5 441.1,705.9 441.1,701.6 441.4,699.7 441.4,704.6 441.7,703.8 441.7,698.6 442.0,697.7 442.0,702.8 442.3,702.6 442.3,700.9 442.6,699.1 442.6,702.6 442.9,703.2 442.9,698.1 443.2,698.4 443.2,702.8 443.5,703.3 443.5,698.3 443.8,697.7 443.8,703.0 444.1,703.5 444.1,697.2 444.4,697.0 444.4,703.2 444.7,703.4 444.7,696.8 445.0,696.5 445.0,703.9 445.3,704.2 445.3,696.6 445.6,696.6 445.6,704.1 445.9,703.5 445.9,696.9 446.2,696.3 446.2,703.5 446.5,703.8 446.5,695.8 446.8,695.3 446.8,703.6 447.1,702.9 447.1,695.5 447.4,695.4 447.4,703.4 447.7,703.0 447.7,695.9 448.0,694.8 448.0,702.5 448.3,702.8 448.3,694.5 448.6,694.6 448.6,703.0 448.9,703.2 448.9,695.1 449.2,694.8 449.2,703.3 449.5,703.9 449.5,693.7 449.8,694.0 449.8,704.0 450.1,704.4 450.1,694.4 450.4,695.4 450.4,704.2 450.7,703.2 450.7,695.0 451.0,695.5 451.0,703.8 451.3,703.6 451.3,695.5 451.6,696.0 451.6,704.3 451.9,704.3 451.9,695.4 452.2,695.6 452.2,704.3 452.5,703.6 452.5,696.2 452.8,696.7 452.8,703.5 453.1,703.8 453.1,696.8 453.4,697.7 453.4,704.3 453.7,703.9 453.7,697.7 454.0,697.3 454.0,704.4 454.3,704.4 454.3,697.5 454.6,697.8 454.6,705.1 454.9,704.4 454.9,697.3 455.2,697.4 455.2,703.9 455.5,703.6 455.5,697.5 455.8,697.3 455.8,704.2 456.1,704.6 456.1,697.5 456.4,697.7 456.4,704.0 456.7,703.9 456.7,697.9 457.0,698.6 457.0,704.1 457.3,704.5 457.3,698.3 457.6,698.4 457.6,705.3 457.9,705.0 457.9,699.2 458.2,700.1 458.2,704.6 458.5,703.9 458.5,700.4 458.8,701.1 458.8,704.8 459.1,704.9 459.1,701.5 459.4,701.9 459.4,705.1 459.7,705.1 459.7,701.6 460.0,702.1 460.0,705.0 460.3,704.3 460.3,701.7 460.8,702.7 460.8,704.7 461.2,704.8 461.2,702.5 461.5,701.7 461.5,704.5 461.8,704.4 461.8,702.5 462.1,702.3 462.1,704.2 462.6,704.8 462.6,702.0 462.9,702.0 462.9,705.2 463.2,705.4 463.2,699.9 463.5,698.3 463.5,704.8 463.8,705.2 463.8,697.8 464.1,697.5 464.1,704.9 464.4,704.3 464.4,697.7 464.7,697.8 464.7,704.6 465.0,704.5 465.0,697.8 465.3,697.9 465.3,704.0 465.6,704.2 465.6,698.0 465.9,697.9 465.9,704.4 466.2,704.8 466.2,698.4 466.5,699.3 466.5,704.5 466.8,704.1 466.8,699.6 467.1,700.7 467.1,704.1 467.4,705.1 467.4,701.4 467.7,702.4 467.7,704.8 468.0,704.5 468.0,702.6 468.4,703.6 468.4,705.2 468.9,704.4 468.9,703.2 469.3,703.2 469.3,704.3 469.8,704.3 469.8,703.2 470.4,702.8 470.4,704.1 471.0,704.6 471.0,703.0 471.4,703.3 471.4,705.0 471.9,704.8 471.9,702.9 472.3,702.8 472.3,704.9 472.8,704.5 472.8,702.5 473.2,702.9 473.2,704.2 473.7,704.9 473.7,702.6 474.1,702.2 474.1,704.9 474.4,704.7 474.4,701.7 474.7,701.8 474.7,704.6 475.0,704.6 475.0,701.1 475.3,701.4 475.3,704.6 475.6,704.0 475.6,701.3 475.9,700.4 475.9,704.4 476.2,704.1 476.2,700.3 476.5,699.9 476.5,703.6 476.8,703.2 476.8,700.0 477.1,699.7 477.1,703.9 477.4,703.7 477.4,699.3 477.7,698.5 477.7,703.5 478.0,703.8 478.0,698.2 478.3,697.8 478.3,704.0 478.6,703.6 478.6,697.7 478.9,697.6 478.9,703.7 479.2,704.0 479.2,697.8 479.5,697.3 479.5,703.9 479.8,704.0 479.8,697.2 480.1,697.0 480.1,703.9 480.4,703.7 480.4,696.4 480.7,696.2 480.7,703.8 481.0,704.0 481.0,695.8 481.3,695.9 481.3,703.2 481.6,702.9 481.6,696.4 481.9,696.0 481.9,703.2 482.2,703.2 482.2,695.9 482.5,695.5 482.5,703.1 482.8,702.8 482.8,694.8 483.1,695.2 483.1,702.7 483.4,702.9 483.4,695.2 483.7,694.5 483.7,702.5 484.0,703.3 484.0,694.8 484.3,694.3 484.3,703.3 484.6,703.0 484.6,694.7 484.9,695.5 484.9,703.1 485.2,703.3 485.2,695.4 485.5,694.8 485.5,702.8 485.8,703.0 485.8,694.5 486.1,694.4 486.1,703.5 486.4,703.6 486.4,695.0 486.7,695.5 486.7,703.5 487.0,702.8 487.0,696.4 487.3,696.3 487.3,703.7 487.6,703.4 487.6,696.3 487.9,696.3 487.9,703.2 488.2,703.0 488.2,696.8 488.5,697.1 488.5,703.4 488.8,703.9 488.8,696.9 489.1,697.0 489.1,704.2 489.4,704.2 489.4,697.0 489.7,698.2 489.7,704.6 490.0,704.5 490.0,699.1 490.3,698.6 490.3,704.4 490.6,704.1 490.6,698.3 490.9,698.4 490.9,704.6 491.2,705.1 491.2,698.6 491.5,698.3 491.5,705.0 491.8,705.4 491.8,698.2 492.1,697.4 492.1,705.3 492.4,704.2 492.4,697.4 492.7,696.4 492.7,705.1 493.0,705.0 493.0,693.0 493.3,693.0 493.3,705.4 493.6,704.6 493.6,694.8 493.9,694.9 493.9,704.7 494.2,705.2 494.2,695.8 494.5,696.5 494.5,705.5 494.8,705.6 494.8,697.3 495.1,697.8 495.1,705.1 495.4,704.9 495.4,698.2 495.7,698.6 495.7,705.0 496.0,705.5 496.0,698.7 496.3,698.6 496.3,705.4 496.6,705.5 496.6,699.1 496.9,700.0 496.9,705.6 497.2,705.7 497.2,700.6 497.5,700.6 497.5,705.0 497.8,705.3 497.8,700.2 498.1,700.3 498.1,705.8 498.4,706.1 498.4,701.1 498.7,701.4 498.7,705.2 499.0,705.8 499.0,702.1 499.3,701.9 499.3,705.5 499.6,704.1 499.6,701.1 499.9,701.4 499.9,703.9 500.2,704.4 500.2,700.7 500.5,701.3 500.5,704.6 500.8,704.7 500.8,699.8 501.1,699.5 501.1,704.7 501.4,704.8 501.4,699.4 501.7,698.9 501.7,705.1 502.0,705.3 502.0,699.2 502.3,699.7 502.3,705.2 502.6,704.9 502.6,700.4 502.9,698.8 502.9,705.0 503.2,705.4 503.2,699.2 503.5,701.3 503.5,705.1 503.8,704.8 503.8,702.3 504.1,702.4 504.1,704.8 504.6,703.7 504.6,702.6 505.0,702.4 505.0,704.4 505.5,705.2 505.5,702.0 505.8,702.6 505.8,705.0 506.1,705.6 506.1,702.4 506.4,702.5 506.4,704.9 506.7,704.6 506.7,701.6 507.0,701.4 507.0,705.1 507.3,704.2 507.3,701.3 507.6,700.7 507.6,704.5 507.9,704.9 507.9,700.7 508.2,700.5 508.2,705.0 508.5,704.8 508.5,700.6 508.8,700.9 508.8,704.6 509.1,705.1 509.1,699.7 509.4,699.2 509.4,704.8 509.7,704.7 509.7,698.9 510.0,699.0 510.0,703.9 510.3,704.6 510.3,698.6 510.6,698.4 510.6,704.5 510.9,704.6 510.9,697.9 511.2,697.1 511.2,703.9 511.5,703.5 511.5,696.1 511.8,695.5 511.8,703.5 512.1,703.3 512.1,695.8 512.4,694.7 512.4,704.1 512.7,703.9 512.7,696.6 513.0,697.8 513.0,704.1 513.3,704.5 513.3,698.3 513.6,698.8 513.6,703.9 513.9,703.8 513.9,698.2 514.2,698.2 514.2,703.9 514.5,703.6 514.5,697.7 514.8,698.1 514.8,704.0 515.1,703.2 515.1,697.7 515.4,697.7 515.4,703.5 515.7,704.1 515.7,697.7 516.0,698.0 516.0,704.4 516.3,704.7 516.3,699.1 516.6,698.9 516.6,704.7 516.9,704.7 516.9,698.8 517.2,699.1 517.2,703.9 517.5,704.0 517.5,698.3 517.8,698.4 517.8,703.7 518.1,703.4 518.1,698.0 518.4,698.5 518.4,703.8 518.7,703.5 518.7,698.5 519.0,698.4 519.0,703.6 519.3,703.4 519.3,698.7 519.6,698.2 519.6,702.9 519.9,702.8 519.9,698.7 520.2,698.7 520.2,703.1 520.5,703.4 520.5,699.3 520.8,698.8 520.8,703.6 521.1,703.3 521.1,699.2 521.4,698.9 521.4,703.3 521.7,703.5 521.7,698.7 522.0,699.2 522.0,703.6 522.3,703.6 522.3,699.5 522.6,699.7 522.6,703.4 522.9,703.6 522.9,699.4 523.2,699.8 523.2,703.3 523.5,703.6 523.5,700.7 523.8,700.2 523.8,702.4 524.2,702.2 524.2,700.6 524.7,700.7 524.7,703.4 525.0,704.0 525.0,700.8 525.3,701.1 525.3,704.0 525.7,703.0 525.7,701.6 526.2,701.8 526.2,703.0 526.6,703.0 526.6,701.7 527.1,701.5 527.1,703.8 527.4,704.7 527.4,702.0 527.7,701.7 527.7,705.0 528.0,705.5 528.0,701.7 528.3,701.4 528.3,705.6 528.6,706.4 528.6,702.1 528.9,702.4 528.9,706.8 529.2,706.9 529.2,702.9 529.5,702.3 529.5,706.7 529.8,707.5 529.8,702.4 530.1,702.0 530.1,708.0 530.4,708.0 530.4,702.3 530.7,701.7 530.7,708.2 531.0,708.1 531.0,701.2 531.3,700.7 531.3,708.2 531.6,708.4 531.6,700.7 531.9,700.5 531.9,708.5 532.2,708.9 532.2,698.7 532.5,703.7 532.5,709.6 532.8,709.9 532.8,703.2 533.1,703.0 533.1,710.2 533.4,709.9 533.4,703.2 533.7,702.5 533.7,709.6 534.0,709.7 534.0,702.7 534.3,702.3 534.3,710.1 534.6,709.6 534.6,703.2 534.9,704.3 534.9,710.1 535.2,711.2 535.2,704.5 535.5,704.2 535.5,711.2 535.8,711.2 535.8,703.5 536.1,703.7 536.1,710.6 536.4,710.6 536.4,703.2 536.7,703.2 536.7,710.0 537.0,710.2 537.0,704.0 537.3,704.4 537.3,709.8 537.6,710.0 537.6,704.8 537.9,705.2 537.9,710.5 538.2,710.4 538.2,705.8 538.5,705.3 538.5,710.7 538.8,710.0 538.8,705.2 539.1,704.9 539.1,710.2 539.4,710.5 539.4,705.3 539.7,705.2 539.7,710.5 540.0,710.0 540.0,705.5 540.3,705.4 540.3,710.6 540.6,710.7 540.6,705.6 540.9,706.0 540.9,710.8 541.2,710.9 541.2,706.4 541.5,706.4 541.5,711.1 541.8,710.4 541.8,706.4 542.1,707.3 542.1,710.0 542.4,710.4 542.4,707.6 542.7,708.0 542.7,710.3 543.0,710.5 543.0,707.6 543.3,708.2 543.3,710.8 543.7,710.0 543.7,707.9 544.2,708.1 544.2,709.7 544.6,709.8 544.6,708.6 545.1,708.3 545.1,710.8 545.5,710.3 545.5,708.5 546.0,707.9 546.0,709.6 546.4,709.5 546.4,708.4 547.0,708.6 547.0,709.0 547.6,708.6 547.6,708.3 548.2,708.2 548.2,708.5 548.8,709.0 548.8,708.2 549.4,707.8 549.4,708.6 550.0,708.0 550.0,707.8 550.6,707.9 551.8,707.8 552.0,707.7 552.0,707.9 552.6,707.9 552.6,707.7 553.2,707.6 553.2,708.0 553.8,707.9 553.8,707.5 554.4,707.5 554.4,707.9 555.0,708.0 555.0,707.3 555.6,707.1 555.6,707.9 556.2,708.1 556.2,707.0 556.8,706.6 556.8,708.4 557.3,708.0 557.3,706.9 557.9,706.7 557.9,708.5 558.3,708.5 558.3,706.6 558.8,706.6 558.8,708.3 559.2,707.9 559.2,706.6 559.7,688.0 559.7,708.2 560.0,708.3 560.0,696.9 560.3,705.5 560.3,708.4 560.6,707.5 560.6,705.5 560.9,705.0 560.9,708.1 561.2,708.4 561.2,705.2 561.5,705.2 561.5,708.4 561.8,707.4 561.8,705.0 562.1,705.4 562.1,708.0 562.4,708.3 562.4,705.6 562.7,705.5 562.7,708.7 563.0,708.3 563.0,705.5 563.3,705.8 563.3,708.6 563.6,708.0 563.6,705.1 563.9,705.7 563.9,708.0 564.2,708.2 564.2,705.2 564.6,705.9 564.6,707.7 565.1,708.8 565.1,706.0 565.4,705.7 565.4,708.3 565.7,708.4 565.7,705.9 566.0,705.6 566.0,708.2 566.3,708.9 566.3,705.3 566.6,705.2 566.6,709.0 566.9,708.8 566.9,705.2 567.2,705.4 567.2,708.3 567.5,707.8 567.5,701.1 567.8,705.1 567.8,708.1 568.1,708.0 568.1,705.5 568.5,706.1 568.5,707.9 569.0,707.5 569.0,705.3 569.4,705.1 569.4,707.9 569.9,707.5 569.9,705.1 570.3,706.0 570.3,708.0 570.8,707.8 570.8,705.7 571.2,705.7 571.2,707.4 571.7,707.6 571.7,705.1 572.0,704.5 572.0,708.1 572.3,707.5 572.3,704.5 572.6,704.5 572.6,707.0 572.9,707.6 572.9,704.1 573.2,703.6 573.2,707.9 573.5,707.7 573.5,703.8 573.8,704.0 573.8,708.1 574.1,708.3 574.1,703.4 574.4,702.6 574.4,708.4 574.7,708.5 574.7,702.0 575.0,701.8 575.0,708.5 575.3,708.9 575.3,702.2 575.6,703.1 575.6,708.5 575.9,708.5 575.9,703.1 576.2,703.2 576.2,709.0 576.5,708.9 576.5,702.9 576.8,703.3 576.8,708.7 577.1,707.9 577.1,703.8 577.4,703.8 577.4,708.2 577.7,707.9 577.7,704.2 578.0,704.2 578.0,708.0 578.3,708.0 578.3,704.8 578.6,705.3 578.6,707.9 578.9,708.7 578.9,705.4 579.2,705.5 579.2,708.9 579.5,708.4 579.5,705.0 579.8,705.0 579.8,708.0 580.1,708.4 580.1,705.7 580.4,705.7 580.4,708.8 580.7,708.7 580.7,705.2 581.0,705.1 581.0,708.6 581.3,707.3 581.3,705.0 581.6,704.9 581.6,707.3 582.0,707.9 582.0,704.7 582.3,704.7 582.3,708.0 582.6,707.4 582.6,705.3 582.9,705.7 582.9,708.0 583.4,707.9 583.4,705.1 583.7,704.9 583.7,708.2 584.0,708.2 584.0,705.1 584.3,704.7 584.3,707.7 584.6,707.6 584.6,705.8 585.0,704.5 585.0,707.3 585.3,707.4 585.3,703.9 585.6,703.8 585.6,707.6 585.9,708.4 585.9,703.5 586.2,702.7 586.2,708.6 586.5,707.8 586.5,702.2 586.8,702.5 586.8,707.5 587.1,707.7 587.1,702.9 587.4,703.6 587.4,707.6 587.7,707.2 587.7,703.5 588.0,702.2 588.0,707.4 588.3,707.8 588.3,702.6 588.6,701.9 588.6,707.8 588.9,707.8 588.9,702.1 589.2,702.6 589.2,707.9 589.5,707.7 589.5,702.7 589.8,703.3 589.8,707.4 590.1,707.1 590.1,703.6 590.4,705.3 590.4,707.6 590.7,708.1 590.7,706.2 591.2,705.9 591.2,708.7 591.5,708.2 591.5,705.6 591.8,705.8 591.8,708.5 592.1,708.5 592.1,705.2 592.4,705.5 592.4,708.3 592.7,708.7 592.7,705.4 593.0,704.8 593.0,708.2 593.3,708.0 593.3,704.6 593.6,705.4 593.6,707.6 594.0,707.5 594.0,705.3 594.5,704.7 594.5,707.5 594.8,707.7 594.8,704.7 595.1,705.6 595.1,708.0 595.4,708.9 595.4,705.2 595.7,705.2 595.7,708.9 596.0,708.6 596.0,705.5 596.3,705.6 596.3,708.7 596.6,708.3 596.6,705.0 596.9,704.6 596.9,707.8 597.2,707.8 597.2,704.9 597.5,704.8 597.5,707.9 597.8,708.1 597.8,704.9 598.1,705.2 598.1,708.3 598.4,708.6 598.4,704.5 598.7,704.6 598.7,708.1 599.0,707.7 599.0,704.4 599.3,703.8 599.3,707.6 599.6,706.9 599.6,703.8 599.9,704.3 599.9,707.2 600.2,707.3 600.2,704.4 600.5,705.1 600.5,707.6 600.8,708.1 600.8,704.2 601.1,704.3 601.1,708.2 601.4,707.8 601.4,704.7 601.7,702.5 601.7,707.4 602.0,708.0 602.0,696.0 602.3,696.0 602.3,707.4 602.6,707.7 602.6,696.6 602.9,697.2 602.9,708.0 603.2,708.3 603.2,697.8 603.5,698.2 603.5,708.6 603.8,708.5 603.8,698.5 604.1,699.2 604.1,708.6 604.4,708.1 604.4,698.6 604.7,697.7 604.7,708.1 605.0,707.6 605.0,698.2 605.3,698.9 605.3,708.2 605.6,708.4 605.6,699.2 605.9,699.3 605.9,708.5 606.2,708.7 606.2,698.9 606.5,698.8 606.5,708.7 606.8,708.8 606.8,698.2 607.1,698.3 607.1,708.3 607.4,708.4 607.4,698.4 607.7,699.0 607.7,709.1 608.0,709.1 608.0,699.0 608.3,699.0 608.3,708.3 608.6,708.6 608.6,698.7 608.9,698.6 608.9,708.4 609.2,708.4 609.2,699.3 609.5,699.0 609.5,707.5 609.8,707.3 609.8,699.2 610.1,699.1 610.1,707.3 610.4,707.3 610.4,698.9 610.7,698.9 610.7,708.0 611.0,707.8 611.0,698.7 611.3,698.6 611.3,707.8 611.6,707.7 611.6,698.7 611.9,698.2 611.9,707.4 612.2,707.7 612.2,699.0 612.5,699.7 612.5,707.1 612.8,707.7 612.8,699.2 613.1,699.3 613.1,707.1 613.4,707.8 613.4,699.8 613.7,699.9 613.7,707.8 614.0,708.0 614.0,699.5 614.3,699.6 614.3,708.2 614.6,708.3 614.6,699.7 614.9,700.1 614.9,708.2 615.2,708.7 615.2,700.1 615.5,699.8 615.5,708.9 615.8,708.4 615.8,699.5 616.1,699.6 616.1,708.4 616.4,707.6 616.4,700.0 616.7,700.7 616.7,707.9 617.0,707.7 617.0,699.9 617.3,699.7 617.3,707.9 617.6,707.3 617.6,699.9 617.9,699.5 617.9,707.6 618.2,708.3 618.2,700.2 618.5,699.6 618.5,708.6 618.8,709.2 618.8,699.8 619.1,700.4 619.1,708.8 619.4,708.9 619.4,700.0 619.7,700.7 619.7,708.1 620.0,708.5 620.0,700.6 620.3,700.9 620.3,707.8 620.6,708.3 620.6,700.9 620.9,700.7 620.9,708.1 621.2,707.9 621.2,701.1 621.5,701.1 621.5,708.1 621.8,708.1 621.8,701.0 622.1,700.6 622.1,707.9 622.4,707.9 622.4,700.7 622.7,700.2 622.7,708.0 623.0,707.9 623.0,700.3 623.3,700.7 623.3,707.9 623.6,708.5 623.6,700.8 623.9,700.3 623.9,709.0 624.2,708.8 624.2,700.1 624.5,700.1 624.5,708.0 624.8,708.2 624.8,700.9 625.1,701.8 625.1,707.5 625.4,707.2 625.4,701.0 625.7,700.5 625.7,707.5 626.0,707.8 626.0,700.2 626.3,700.6 626.3,708.0 626.6,708.0 626.6,700.6 626.9,700.4 626.9,707.9 627.2,708.2 627.2,700.4 627.5,700.5 627.5,708.0 627.8,707.9 627.8,700.3 628.1,701.4 628.1,708.7 628.4,709.0 628.4,701.3 628.7,701.4 628.7,708.5 629.0,708.0 629.0,702.3 629.3,701.9 629.3,707.1 629.6,707.8 629.6,702.4 629.9,702.1 629.9,707.9 630.2,707.9 630.2,702.4 630.5,702.4 630.5,708.3 630.8,707.6 630.8,702.8 631.1,703.2 631.1,708.0 631.4,707.9 631.4,703.3 631.7,702.1 631.7,707.5 632.0,708.2 632.0,701.6 632.3,702.3 632.3,708.0 632.6,708.0 632.6,702.3 632.9,702.3 632.9,707.9 633.2,708.1 633.2,702.3 633.5,701.9 633.5,708.1 633.8,707.6 633.8,702.5 634.1,702.7 634.1,707.6 634.4,708.4 634.4,703.0 634.7,703.2 634.7,708.3 635.0,707.5 635.0,703.2 635.3,702.9 635.3,707.6 635.6,707.6 635.6,703.2 635.9,702.6 635.9,708.4 636.2,708.7 636.2,702.5 636.5,702.9 636.5,708.4 636.8,708.1 636.8,702.8 637.1,703.2 637.1,708.5 637.4,707.3 637.4,702.9 637.7,702.2 637.7,707.4 638.0,708.1 638.0,702.2 638.3,702.1 638.3,707.9 638.6,707.8 638.6,701.7 638.9,701.2 638.9,708.1 639.2,707.6 639.2,701.7 639.5,701.8 639.5,707.6 639.8,707.4 639.8,701.1 640.1,700.9 640.1,707.4 640.4,707.8 640.4,701.1 640.7,700.7 640.7,707.5 641.0,707.1 641.0,700.3 641.3,700.3 641.3,707.5 641.6,707.7 641.6,699.7 641.9,699.8 641.9,707.9 642.2,708.7 642.2,699.7 642.5,699.1 642.5,708.5 642.8,708.3 642.8,699.1 643.1,697.2 643.1,708.4 643.4,708.3 643.4,699.2 643.7,699.2 643.7,708.7 644.0,708.6 644.0,699.6 644.3,700.0 644.3,708.2 644.6,707.5 644.6,700.2 644.9,701.2 644.9,707.4 645.2,707.6 645.2,701.0 645.5,701.1 645.5,707.3 645.8,707.6 645.8,700.7 646.1,699.7 646.1,707.9 646.4,707.6 646.4,700.2 646.7,700.2 646.7,708.2 647.0,707.4 647.0,700.8 647.3,700.9 647.3,707.6 647.6,707.9 647.6,700.4 647.9,699.9 647.9,707.6 648.2,707.8 648.2,699.6 648.5,699.3 648.5,707.9 648.8,708.3 648.8,698.8 649.1,698.9 649.1,707.3 649.4,707.8 649.4,699.0 649.7,699.6 649.7,707.5 650.0,707.8 650.0,698.2 650.3,700.5 650.3,708.1 650.6,708.2 650.6,701.5 650.9,701.4 650.9,707.5 651.2,707.5 651.2,701.4 651.5,700.8 651.5,707.8 651.8,708.1 651.8,700.9 652.1,701.4 652.1,708.8 652.4,708.6 652.4,701.2 652.7,701.7 652.7,708.6 653.0,708.4 653.0,702.1 653.3,702.6 653.3,708.4 653.6,708.7 653.6,702.5 653.9,701.8 653.9,708.2 654.2,708.2 654.2,701.7 654.5,701.2 654.5,708.0 654.8,708.6 654.8,701.8 655.1,702.1 655.1,708.5 655.4,708.6 655.4,702.5 655.7,702.7 655.7,709.0 656.0,708.6 656.0,702.3 656.3,702.3 656.3,708.8 656.6,707.9 656.6,702.7 656.9,702.3 656.9,707.1 657.2,707.5 657.2,702.8 657.5,703.2 657.5,707.9 657.8,707.5 657.8,703.0 658.1,703.9 658.1,707.4 658.4,707.4 658.4,703.5 658.7,702.5 658.7,707.1 659.0,707.7 659.0,702.7 659.3,702.5 659.3,708.2 659.6,708.0 659.6,702.4 659.9,702.9 659.9,708.7 660.2,708.7 660.2,703.4 660.5,703.5 660.5,708.1 660.8,708.1 660.8,703.1 661.1,702.2 661.1,707.8 661.4,707.9 661.4,702.4 661.7,702.4 661.7,707.3 662.0,707.8 662.0,702.5 662.3,702.6 662.3,708.0 662.6,707.7 662.6,702.2 662.9,702.8 662.9,707.5 663.2,707.3 663.2,703.0 663.5,703.5 663.5,708.6 663.8,708.5 663.8,703.7 664.1,703.9 664.1,708.8 664.4,708.3 664.4,703.9 664.7,703.6 664.7,707.8 665.0,708.7 665.0,702.7 665.3,702.6 665.3,709.1 665.6,708.9 665.6,703.3 665.9,702.5 665.9,708.8 666.2,708.1 666.2,702.8 666.5,702.8 666.5,708.4 666.8,708.4 666.8,702.5 667.1,701.9 667.1,707.7 667.4,707.6 667.4,701.7 667.7,701.1 667.7,707.8 668.0,707.3 668.0,701.7 668.3,701.5 668.3,707.5 668.6,707.9 668.6,701.3 668.9,700.9 668.9,707.6 669.2,708.3 669.2,700.2 669.5,700.5 669.5,708.7 669.8,708.2 669.8,695.8 670.1,698.9 670.1,708.1 670.4,708.3 670.4,698.0 670.7,698.2 670.7,707.7 671.0,707.6 671.0,698.6 671.3,698.7 671.3,707.5 671.6,707.8 671.6,698.4 671.9,698.7 671.9,708.0 672.2,707.7 672.2,698.7 672.5,699.0 672.5,708.4 672.8,708.6 672.8,698.7 673.1,698.7 673.1,708.3 673.4,708.6 673.4,696.1 673.7,700.5 673.7,708.7 674.0,708.2 674.0,700.8 674.3,700.7 674.3,708.3 674.6,708.2 674.6,700.9 674.9,700.9 674.9,708.3 675.2,708.4 675.2,701.2 675.5,700.3 675.5,708.8 675.8,708.5 675.8,700.2 676.1,700.1 676.1,708.2 676.4,708.0 676.4,700.6 676.7,700.7 676.7,707.9 677.0,707.6 677.0,700.8 677.3,700.9 677.3,708.1 677.6,708.6 677.6,701.1 677.9,701.8 677.9,708.5 678.2,708.7 678.2,701.7 678.5,701.4 678.5,708.0 678.8,708.0 678.8,701.7 679.1,701.6 679.1,707.5 679.4,707.7 679.4,701.6 679.7,701.3 679.7,707.8 680.0,708.1 680.0,702.5 680.3,702.5 680.3,708.3 680.6,708.2 680.6,703.3 680.9,703.0 680.9,708.9 681.2,708.7 681.2,703.9 681.5,703.6 681.5,708.0 681.8,708.0 681.8,703.0 682.1,703.1 682.1,707.9 682.4,707.3 682.4,703.7 682.7,703.5 682.7,707.3 683.0,707.5 683.0,703.0 683.3,703.1 683.3,708.1 683.6,708.1 683.6,703.2 683.9,703.3 683.9,708.4 684.2,707.9 684.2,703.2 684.5,703.4 684.5,708.1 684.8,707.5 684.8,703.5 685.1,703.6 685.1,707.6 685.4,707.2 685.4,703.8 685.7,703.4 685.7,707.2 686.0,708.1 686.0,703.6 686.3,702.9 686.3,708.0 686.6,708.3 686.6,702.4 686.9,702.2 686.9,707.7 687.2,707.5 687.2,701.8 687.5,702.1 687.5,708.3 687.8,708.3 687.8,702.0 688.1,701.3 688.1,708.3 688.4,708.0 688.4,700.6 688.7,700.9 688.7,708.4 689.0,708.0 689.0,700.5 689.3,701.0 689.3,707.7 689.6,707.6 689.6,700.9 689.9,700.3 689.9,707.7 690.2,708.0 690.2,700.7 690.5,700.2 690.5,708.1 690.8,708.4 690.8,700.6 691.1,700.2 691.1,708.2 691.4,708.1 691.4,701.5 691.7,702.1 691.7,707.9 692.0,708.0 692.0,702.3 692.3,702.3 692.3,707.5 692.6,707.6 692.6,702.5 692.9,702.9 692.9,708.0 693.2,708.7 693.2,703.2 693.5,703.2 693.5,709.0 693.8,708.5 693.8,703.2 694.1,703.5 694.1,707.5 694.4,707.9 694.4,703.4 694.7,703.2 694.7,708.1 695.0,708.5 695.0,703.4 695.3,703.7 695.3,708.6 695.6,708.5 695.6,703.1 695.9,703.7 695.9,708.3 696.2,707.7 696.2,703.9 696.5,703.3 696.5,708.0 696.8,707.7 696.8,701.3 697.1,699.5 697.1,707.2 697.4,708.0 697.4,698.8 697.7,698.6 697.7,708.4 698.0,707.8 698.0,698.6 698.3,698.8 698.3,708.4 698.6,709.2 698.6,698.6 698.9,701.4 698.9,708.7 699.2,709.2 699.2,701.9 699.5,701.5 699.5,708.5 699.8,708.4 699.8,701.4 700.1,701.2 700.1,708.0 700.4,707.7 700.4,701.1 700.7,701.0 700.7,707.4 701.0,707.8 701.0,701.3 701.3,701.3 701.3,707.7 701.6,707.5 701.6,701.5 701.9,701.5 701.9,707.5 702.2,707.3 702.2,701.4 702.5,701.6 702.5,707.8 702.8,707.3 702.8,702.7 703.1,702.6 703.1,707.8 703.4,708.3 703.4,701.9 703.7,701.2 703.7,708.2 704.0,707.8 704.0,699.5 704.3,698.6 704.3,708.7 704.6,708.7 704.6,698.1 704.9,698.3 704.9,708.8 705.2,707.6 705.2,697.1 705.5,696.7 705.5,707.5 705.8,707.7 705.8,698.7 706.1,699.2 706.1,707.9 706.4,707.9 706.4,699.7 706.7,699.5 706.7,707.6 707.0,707.9 707.0,699.5 707.3,699.4 707.3,708.3 707.6,708.2 707.6,699.3 707.9,699.5 707.9,707.9 708.2,708.0 708.2,699.3 708.5,699.7 708.5,708.0 708.8,708.0 708.8,700.0 709.1,700.3 709.1,707.7 709.4,708.2 709.4,699.6 709.7,699.4 709.7,708.8 710.0,708.5 710.0,699.9 710.3,700.6 710.3,708.0 710.6,708.6 710.6,700.8 710.9,700.6 710.9,709.1 711.2,709.2 711.2,701.0 711.5,701.0 711.5,709.0 711.8,708.6 711.8,701.0 712.1,701.5 712.1,708.6 712.4,708.1 712.4,701.6 712.7,702.3 712.7,708.6 713.0,708.3 713.0,701.7 713.3,702.2 713.3,707.6 713.6,707.6 713.6,702.0 713.9,702.3 713.9,707.7 714.2,708.4 714.2,702.2 714.5,702.7 714.5,708.7 714.8,708.8 714.8,702.6 715.1,703.1 715.1,708.7 715.4,708.5 715.4,703.5 715.7,703.7 715.7,708.4 716.0,708.2 716.0,703.1 716.3,703.3 716.3,708.8 716.6,708.4 716.6,703.5 716.9,703.9 716.9,708.5 717.2,708.5 717.2,703.4 717.5,703.3 717.5,708.7 717.8,708.7 717.8,703.3 718.1,702.3 718.1,708.6 718.4,708.6 718.4,702.1 718.7,702.1 718.7,708.8 719.0,708.8 719.0,701.9 719.3,703.7 719.3,708.9 719.6,708.3 719.6,704.4 719.9,705.5 719.9,708.6 720.2,708.7 720.2,705.5 720.5,705.0 720.5,708.2 720.8,708.3 720.8,705.0 721.1,704.5 721.1,708.9 721.4,709.1 721.4,705.1 721.7,705.5 721.7,709.4 722.0,709.3 722.0,705.8 722.3,705.7 722.3,709.2 722.6,709.0 722.6,705.6 722.9,706.3 722.9,709.0 723.2,708.8 723.2,706.0 723.5,706.2 723.5,708.7 723.8,708.8 723.8,705.6 724.1,706.2 724.1,709.2 724.4,709.5 724.4,705.9 724.7,706.1 724.7,709.2 725.0,708.9 725.0,706.3 725.4,706.6 725.4,708.8 725.9,709.2 725.9,706.9 726.3,707.0 726.3,708.8 726.8,708.8 726.8,706.3 727.2,706.4 727.2,709.3 727.5,709.2 727.5,706.9 728.0,706.7 728.0,709.7 728.4,709.6 728.4,707.0 728.7,706.1 728.7,709.3 729.0,709.0 729.0,706.0 729.3,706.4 729.3,709.1 729.6,709.4 729.6,707.2 729.9,707.3 729.9,709.2 730.2,709.6 730.2,706.6 730.5,706.6 730.5,709.3 730.8,708.8 730.8,706.6 731.3,706.1 731.3,707.9 731.7,708.5 731.7,706.7 732.2,706.5 732.2,708.7 732.6,709.0 732.6,707.0 733.1,706.3 733.1,709.1 733.5,708.5 733.5,706.5 734.0,706.7 734.0,708.7 734.4,708.4 734.4,706.9 734.9,706.3 734.9,708.3 735.3,709.2 735.3,706.3 735.6,706.4 735.6,709.1 736.1,708.7 736.1,707.1 736.5,707.4 736.5,708.2 737.0,708.5 737.0,707.3 737.4,706.9 737.4,708.8 737.9,708.5 737.9,706.5 738.3,706.1 738.3,708.4 738.8,708.2 738.8,706.5 739.2,706.4 739.2,709.0 739.7,708.9 739.7,706.3 740.1,706.8 740.1,708.6 740.6,708.8 740.6,706.7 741.0,707.2 741.0,709.4 741.5,709.4 741.5,706.9 741.8,706.8 741.8,709.1 742.1,708.7 742.1,706.6 742.5,706.7 742.5,708.6 743.0,708.9 743.0,706.6 743.4,706.2 743.4,708.6 743.9,709.0 743.9,706.9 744.3,707.0 744.3,708.5 744.8,708.5 744.8,707.0 745.2,707.0 745.2,708.4 745.7,708.1 745.7,706.9 746.1,706.4 746.1,707.7 746.6,707.9 746.6,706.8 747.0,706.2 747.0,708.0 747.5,708.1 747.5,706.2 747.9,706.7 747.9,708.1 748.4,708.3 748.4,706.5 748.8,706.6 748.8,708.4 749.3,708.0 749.3,706.3 749.7,706.7 749.7,708.6 750.2,708.2 750.2,706.5 750.6,706.5 750.6,708.9 751.1,708.2 751.1,706.7 751.5,706.6 751.5,708.6 752.0,708.8 752.0,706.9 752.4,706.7 752.4,707.9 752.9,707.9 752.9,707.1 753.3,707.0 753.3,708.2 753.8,709.1 753.8,706.5 754.2,706.3 754.2,708.4 754.7,708.4 754.7,706.4 755.1,706.9 755.1,708.4 755.6,708.4 755.6,706.7 756.0,706.7 756.0,708.0 756.5,708.0 756.5,706.5 756.9,706.8 756.9,707.8 757.4,708.1 757.4,706.9 758.0,707.1 758.0,708.4 758.4,708.1 758.4,706.9 758.9,706.3 758.9,708.6 759.3,708.2 759.3,706.5 759.8,706.9 759.8,708.6 760.2,708.8 760.2,706.5 760.7,706.8 760.7,708.4 761.1,708.2 761.1,706.4 761.6,706.4 761.6,708.2 762.0,708.3 762.0,706.7 762.5,706.9 762.5,708.6 762.9,708.5 762.9,707.1 763.4,706.6 763.4,708.2 764.0,708.0 764.0,706.7 764.4,706.4 764.4,707.8 764.9,708.1 764.9,706.2 765.3,706.6 765.3,708.3 765.8,708.0 765.8,706.8 766.2,707.0 766.2,707.9 766.7,708.5 766.7,707.0 767.1,706.7 767.1,708.7 767.6,707.8 767.6,706.6 768.0,706.4 768.0,708.1 768.5,707.8 768.5,706.7 769.1,706.6 769.1,708.0 769.5,708.1 769.5,706.4 770.0,706.8 770.0,707.6 770.4,708.0 770.4,706.8 770.9,706.2 770.9,708.4 771.3,708.4 771.3,706.7 771.8,706.6 771.8,708.1 772.2,708.0 772.2,706.7 772.7,706.8 772.7,708.0 773.1,707.8 773.1,706.4 773.6,706.6 773.6,708.2 774.0,707.4 774.0,706.6 774.6,706.5 774.6,708.1 775.1,707.7 775.1,706.4 775.7,706.2 775.7,708.3 776.1,707.9 776.1,706.8 776.6,706.6 776.6,707.7 777.0,707.4 777.0,706.9 777.6,706.5 777.6,707.8 778.2,707.5 778.2,707.0 778.8,706.9 778.8,707.9 779.4,708.0 779.4,706.7 780.0,706.7 780.0,708.2 780.6,707.8 780.6,706.6 781.1,706.6 781.1,708.2 781.5,707.8 781.5,707.0 782.0,706.8 782.0,708.0 782.6,707.6 782.6,706.5 783.0,706.3 783.0,708.3 783.5,707.7 783.5,706.3 783.9,706.5 783.9,707.8 784.5,707.6 784.5,706.9 785.1,706.2 785.1,708.0 785.6,709.2 785.6,706.5 786.0,706.9 786.0,709.2 786.5,709.1 786.5,706.5 786.8,706.2 786.8,709.6 787.1,709.7 787.1,705.7 787.4,706.6 787.4,709.2 787.7,709.6 787.7,707.1 788.0,707.3 788.0,709.8 788.3,710.0 788.3,706.5 788.6,706.3 788.6,710.7 788.9,710.5 788.9,706.7 789.2,706.8 789.2,710.8 789.5,710.9 789.5,706.5 789.8,706.9 789.8,711.5 790.1,711.2 790.1,707.3 790.4,706.9 790.4,711.2 790.7,711.0 790.7,706.7 791.0,707.0 791.0,710.7 791.3,710.4 791.3,706.7 791.6,706.4 791.6,710.6 791.9,710.7 791.9,706.5 792.2,706.1 792.2,711.2 792.5,710.9 792.5,706.5 792.8,706.7 792.8,711.1 793.1,710.7 793.1,707.1 793.4,707.1 793.4,710.3 793.7,710.8 793.7,707.3 794.0,707.0 794.0,711.2 794.3,711.6 794.3,706.6 794.6,706.9 794.6,711.5 794.9,711.2 794.9,707.1 795.2,706.7 795.2,710.1 795.5,709.9 795.5,706.0 795.8,706.3 795.8,710.8 796.1,710.6 796.1,706.0 796.4,706.1 796.4,711.5 796.7,711.2 796.7,706.0 797.0,706.2 797.0,710.7 797.3,710.2 797.3,705.8 797.6,706.1 797.6,710.2 797.9,710.1 797.9,706.2 798.2,706.6 798.2,710.5 798.5,710.3 798.5,706.7 798.8,707.2 798.8,710.3"/>
<polyline id="s612" stroke="#ff00ff" points="305.2,693.1 305.2,695.0 305.7,695.0 305.7,693.2 306.1,692.3 306.1,695.6 306.4,695.3 306.4,692.5 306.7,692.8 306.7,695.6 307.0,695.7 307.0,693.2 307.3,693.5 307.3,695.6 307.8,694.9 307.8,693.9 308.2,693.6 308.2,695.2 308.7,695.3 308.7,693.5 309.1,693.6 309.1,695.6 309.6,695.2 309.6,692.5 310.0,693.0 310.0,694.5 310.5,695.1 310.5,693.1 310.9,693.0 310.9,695.5 311.4,695.5 311.4,693.2 311.8,693.2 311.8,695.1 312.3,696.0 312.3,692.5 312.6,692.9 312.6,695.7 312.9,696.1 312.9,692.7 313.2,692.9 313.2,695.9 313.5,696.3 313.5,693.6 313.8,693.8 313.8,695.8 314.2,695.3 314.2,693.6 314.7,693.6 314.7,696.0 315.0,695.9 315.0,693.6 315.3,693.5 315.3,695.7 315.7,695.2 315.7,693.6 316.2,692.3 316.2,695.5 316.5,695.9 316.5,692.8 316.8,692.2 316.8,695.7 317.1,695.8 317.1,692.7 317.4,693.8 317.4,695.4 317.8,695.8 317.8,693.4 318.3,693.2 318.3,695.6 318.6,695.5 318.6,693.1 319.0,692.5 319.0,696.0 319.3,695.6 319.3,691.7 319.6,692.4 319.6,695.4 319.9,695.3 319.9,692.3 320.2,692.9 320.2,696.0 320.5,695.4 320.5,693.3 320.8,693.2 320.8,695.1 321.1,695.6 321.1,692.9 321.6,692.9 321.6,695.1 322.0,695.6 322.0,693.1 322.3,692.9 322.3,695.8 322.6,695.3 322.6,693.1 322.9,693.4 322.9,695.9 323.4,695.8 323.4,693.2 323.7,693.1 323.7,695.5 324.0,695.4 324.0,692.9 324.3,692.5 324.3,696.0 324.6,695.9 324.6,692.7 324.9,692.7 324.9,696.1 325.2,695.2 325.2,692.8 325.6,693.2 325.6,694.7 326.1,696.1 326.1,693.0 326.4,693.1 326.4,696.1 326.7,696.3 326.7,692.9 327.0,693.1 327.0,695.5 327.3,695.7 327.3,692.9 327.7,693.9 327.7,695.4 328.2,695.5 328.2,693.3 328.6,693.5 328.6,695.0 329.1,694.3 329.1,693.2 329.7,693.2 329.7,693.6 330.0,694.8 330.0,691.3 330.3,690.5 330.3,694.0 330.6,693.9 330.6,689.8 330.9,689.8 330.9,693.4 331.2,691.7 331.2,691.2 331.5,690.2 331.5,691.7 331.8,691.1 331.8,689.4 332.1,689.3 332.1,690.7 332.5,690.6 332.5,688.9 333.0,689.1 333.0,690.9 333.4,690.7 333.4,690.1 334.0,689.5 334.0,691.7 334.3,692.3 334.3,689.6 334.6,690.0 334.6,692.6 334.9,693.1 334.9,690.5 335.2,690.9 335.2,693.7 335.5,694.3 335.5,690.8 335.8,691.7 335.8,694.4 336.1,695.0 336.1,691.8 336.4,692.6 336.4,695.2 336.7,695.8 336.7,694.0 337.0,694.1 337.0,694.6 337.6,694.2 337.6,693.8 337.9,692.6 337.9,695.1 338.2,694.8 338.2,691.7 338.5,691.8 338.5,694.2 338.8,694.6 338.8,691.5 339.1,691.0 339.1,693.5 339.4,693.2 339.4,690.0 339.7,689.4 339.7,692.7 340.0,692.1 340.0,688.9 340.3,688.6 340.3,691.5 340.6,691.1 340.6,687.8 340.9,687.2 340.9,690.3 341.2,689.8 341.2,687.2 341.5,686.4 341.5,689.3 341.8,688.5 341.8,688.1 342.1,687.3 342.1,688.0 342.4,687.9 342.4,686.8 342.7,685.8 342.7,687.9 343.0,687.0 343.0,685.1 343.5,685.2 343.5,687.4 343.9,687.8 343.9,685.3 344.2,684.4 344.2,687.9 344.5,687.4 344.5,685.1 345.0,686.0 345.0,687.3 345.4,687.4 345.4,686.4 345.9,686.9 345.9,687.8 346.2,688.2 346.2,687.5 346.5,686.5 346.5,689.3 346.8,690.0 346.8,686.4 347.1,687.5 347.1,690.4 347.4,691.5 347.4,688.1 347.7,687.9 347.7,691.4 348.0,692.5 348.0,688.4 348.3,689.0 348.3,692.6 348.6,693.7 348.6,689.8 348.9,690.5 348.9,694.7 349.2,695.3 349.2,691.5 349.5,692.3 349.5,696.4 349.8,696.8 349.8,693.2 350.1,694.0 350.1,696.9 350.4,695.6 350.4,694.4 350.7,693.6 350.7,696.3 351.1,695.7 351.1,693.4 351.6,693.3 351.6,695.8 352.0,695.7 352.0,693.3 352.5,693.2 352.5,695.9 352.9,695.9 352.9,693.0 353.4,693.1 353.4,695.2 353.8,695.5 353.8,692.8 354.3,692.3 354.3,695.2 354.6,695.8 354.6,692.4 354.9,692.0 354.9,694.9 355.2,694.9 355.2,691.9 355.5,691.8 355.5,695.3 355.8,695.1 355.8,691.5 356.1,691.4 356.1,695.2 356.4,695.4 356.4,691.3 356.7,691.6 356.7,695.0 357.0,695.4 357.0,691.6 357.3,691.8 357.3,695.2 357.6,696.0 357.6,691.5 357.9,691.6 357.9,696.3 358.2,695.8 358.2,691.7 358.5,691.8 358.5,695.2 358.8,694.9 358.8,692.4 359.1,692.6 359.1,695.2 359.4,695.7 359.4,692.5 359.7,692.2 359.7,696.0 360.0,695.9 360.0,692.3 360.3,692.3 360.3,695.5 360.6,695.6 360.6,691.6 360.9,692.3 360.9,695.7 361.2,695.3 361.2,691.9 361.5,692.6 361.5,695.6 361.8,695.1 361.8,692.0 362.2,692.3 362.2,694.7 362.7,695.2 362.7,692.5 363.1,691.5 363.1,695.6 363.4,695.8 363.4,691.8 363.7,692.3 363.7,695.7 364.0,695.3 364.0,693.6 364.5,693.5 364.5,695.4 364.9,695.6 364.9,692.8 365.2,693.5 365.2,695.5 365.7,695.2 365.7,693.0 366.1,692.0 366.1,694.7 366.4,694.9 366.4,692.0 366.7,691.9 366.7,695.6 367.0,695.1 367.0,691.9 367.3,691.6 367.3,694.9 367.6,695.0 367.6,692.2 367.9,692.2 367.9,695.4 368.2,695.1 368.2,692.5 368.5,692.7 368.5,694.9 369.0,694.4 369.0,693.0 369.4,692.3 369.4,695.7 369.7,695.5 369.7,692.9 370.0,692.6 370.0,696.0 370.3,694.9 370.3,692.6 370.8,692.2 370.8,694.8 371.1,695.6 371.1,692.5 371.4,692.7 371.4,695.5 371.7,696.0 371.7,692.1 372.0,692.2 372.0,695.8 372.3,695.7 372.3,692.2 372.6,692.2 372.6,695.5 372.9,695.1 372.9,692.7 373.2,693.4 373.2,695.1 373.6,695.9 373.6,692.8 373.9,692.4 373.9,696.1 374.2,696.1 374.2,691.8 374.5,691.5 374.5,696.4 374.8,695.5 374.8,691.2 375.1,692.1 375.1,695.7 375.4,695.6 375.4,692.1 375.7,692.2 375.7,695.4 376.0,695.3 376.0,692.5 376.3,692.7 376.3,696.1 376.6,696.1 376.6,692.7 376.9,692.4 376.9,695.9 377.2,695.2 377.2,691.9 377.5,691.8 377.5,695.0 377.8,694.9 377.8,692.4 378.1,692.4 378.1,695.2 378.4,695.3 378.4,691.2 378.7,690.9 378.7,695.6 379.0,694.5 379.0,691.0 379.3,691.5 379.3,694.3 379.6,694.9 379.6,691.2 379.9,691.3 379.9,695.0 380.2,694.9 380.2,691.3 380.5,691.3 380.5,694.9 380.8,695.2 380.8,691.5 381.1,691.7 381.1,695.2 381.4,695.5 381.4,691.4 381.7,691.7 381.7,695.7 382.0,695.3 382.0,692.8 382.3,693.1 382.3,695.4 382.8,695.3 382.8,692.7 383.2,693.2 383.2,694.1 383.8,695.2 383.8,692.6 384.1,692.2 384.1,695.6 384.4,695.6 384.4,692.4 384.7,692.9 384.7,695.5 385.2,695.7 385.2,692.6 385.5,692.6 385.5,696.3 385.8,696.6 385.8,693.1 386.1,692.9 386.1,696.6 386.4,695.9 386.4,693.0 386.7,693.3 386.7,696.2 387.0,696.6 387.0,693.6 387.3,693.1 387.3,696.6 387.6,697.1 387.6,692.7 387.9,692.9 387.9,696.5 388.2,696.5 388.2,694.2 388.5,694.3 388.5,696.7 388.8,697.3 388.8,694.2 389.1,694.1 389.1,696.6 389.4,697.3 389.4,694.5 389.7,694.2 389.7,697.5 390.0,697.6 390.0,694.3 390.3,695.1 390.3,696.9 390.7,697.6 390.7,695.2 391.2,695.4 391.2,697.5 391.6,698.1 391.6,695.4 391.9,694.9 391.9,698.6 392.2,698.2 392.2,695.0 392.5,695.3 392.5,697.7 392.8,697.9 392.8,695.6 393.3,696.0 393.3,697.6 393.7,697.3 393.7,695.7 394.2,696.3 394.2,697.6 394.6,697.9 394.6,696.0 395.1,696.0 395.1,698.0 395.5,698.0 395.5,695.8 396.0,696.0 396.0,699.2 396.3,699.4 396.3,696.2 396.6,696.3 396.6,699.4 396.9,699.3 396.9,696.0 397.2,696.4 397.2,698.7 397.5,698.5 397.5,696.6 397.8,696.1 397.8,699.2 398.1,698.1 398.1,696.0 398.5,696.4 398.5,697.9 399.0,697.5 399.0,696.1 399.4,696.4 399.4,697.8 399.9,698.2 399.9,696.6 400.2,694.6 400.2,697.6 400.5,697.7 400.5,695.5 400.9,694.7 400.9,698.5 401.2,698.0 401.2,694.6 401.5,695.1 401.5,698.4 401.8,697.5 401.8,695.9 402.3,695.7 402.3,697.6 402.7,698.5 402.7,696.1 403.2,696.2 403.2,698.6 403.6,698.1 403.6,696.3 404.1,696.3 404.1,697.9 404.5,698.2 404.5,696.1 405.0,696.7 405.0,698.7 405.4,698.7 405.4,696.8 405.9,697.1 405.9,698.4 406.5,698.4 406.5,697.2 407.1,697.0 407.1,698.8 407.5,699.0 407.5,697.6 408.0,697.7 408.0,699.8 408.4,699.8 408.4,697.7 408.9,698.4 408.9,699.4 409.3,699.8 409.3,698.3 409.8,698.5 409.8,700.1 410.2,700.2 410.2,697.7 410.7,697.7 410.7,699.8 411.1,699.6 411.1,698.0 411.6,698.4 411.6,699.4 412.2,699.3 412.2,698.2 412.6,697.8 412.6,699.2 413.1,699.4 413.1,697.9 413.5,697.0 413.5,699.4 414.0,699.7 414.0,696.9 414.4,697.5 414.4,699.4 414.9,699.4 414.9,696.5 415.3,696.4 415.3,698.9 415.8,698.9 415.8,697.0 416.2,697.0 416.2,698.8 416.7,698.6 416.7,696.7 417.1,697.0 417.1,698.6 417.6,698.9 417.6,696.9 418.0,696.5 418.0,699.3 418.5,699.2 418.5,696.3 418.9,696.1 418.9,699.1 419.4,698.9 419.4,697.3 419.8,697.6 419.8,698.7 420.3,699.0 420.3,697.3 420.7,697.3 420.7,699.2 421.2,699.6 421.2,697.8 421.6,697.8 421.6,699.2 422.1,699.9 422.1,697.8 422.5,698.4 422.5,699.6 423.0,700.1 423.0,698.7 423.4,698.9 423.4,700.5 423.9,700.6 423.9,699.1 424.3,700.1 424.3,700.8 424.8,701.3 424.8,699.9 425.4,700.6 425.4,701.5 426.0,702.2 426.0,701.0 426.6,701.3 426.6,702.9 427.0,703.1 427.0,702.0 427.5,702.4 427.5,703.6 427.9,703.6 427.9,702.0 428.4,701.3 428.4,704.2 428.7,704.4 428.7,701.4 429.0,702.0 429.0,705.2 429.3,705.7 429.3,701.6 429.6,701.7 429.6,704.9 429.9,704.5 429.9,701.8 430.2,702.3 430.2,704.2 430.6,704.2 430.6,702.4 431.1,701.8 431.1,704.0 431.4,704.0 431.4,701.3 431.7,701.7 431.7,703.9 432.0,703.1 432.0,701.3 432.4,701.1 432.4,702.6 432.9,703.0 432.9,701.2 433.3,701.0 433.3,702.4 433.8,702.3 433.8,700.1 434.2,699.7 434.2,701.6 434.7,701.9 434.7,699.6 435.1,698.9 435.1,701.4 435.4,701.8 435.4,698.6 435.7,698.2 435.7,702.4 436.0,701.8 436.0,698.6 436.3,698.5 436.3,701.7 436.6,701.9 436.6,697.9 436.9,698.6 436.9,701.1 437.2,701.8 437.2,698.4 437.5,697.5 437.5,701.6 437.8,701.5 437.8,697.4 438.1,697.8 438.1,700.9 438.4,701.6 438.4,697.5 438.7,697.5 438.7,702.3 439.0,702.4 439.0,697.5 439.3,698.4 439.3,702.2 439.6,701.6 439.6,698.6 439.9,698.1 439.9,702.8 440.2,702.7 440.2,698.5 440.5,697.7 440.5,703.1 440.8,703.2 440.8,697.6 441.1,698.0 441.1,702.7 441.4,702.8 441.4,698.1 441.7,698.7 441.7,703.0 442.0,703.6 442.0,698.4 442.3,698.7 442.3,703.5 442.6,703.0 442.6,698.1 442.9,698.0 442.9,703.3 443.2,703.0 443.2,698.0 443.5,698.2 443.5,703.2 443.8,703.0 443.8,698.5 444.1,698.9 444.1,703.5 444.4,703.7 444.4,699.7 444.7,699.3 444.7,704.1 445.0,704.2 445.0,699.2 445.3,699.6 445.3,703.7 445.6,703.2 445.6,699.5 445.9,699.7 445.9,703.4 446.2,704.1 446.2,700.3 446.5,699.9 446.5,704.0 446.8,704.6 446.8,699.7 447.1,698.9 447.1,704.6 447.4,704.6 447.4,699.7 447.7,699.6 447.7,704.0 448.0,703.7 448.0,700.6 448.3,700.7 448.3,703.7 448.6,704.0 448.6,700.9 448.9,700.8 448.9,704.1 449.2,704.3 449.2,700.6 449.5,700.4 449.5,704.2 449.8,704.0 449.8,700.8 450.1,700.3 450.1,703.6 450.4,704.0 450.4,700.9 450.7,701.4 450.7,704.1 451.0,704.7 451.0,701.1 451.3,700.8 451.3,704.7 451.6,704.5 451.6,700.8 451.9,701.5 451.9,704.9 452.2,704.3 452.2,702.1 452.7,701.0 452.7,704.8 453.0,704.9 453.0,700.5 453.3,700.1 453.3,705.1 453.6,705.7 453.6,700.3 453.9,700.8 453.9,705.7 454.2,706.2 454.2,701.8 454.5,701.9 454.5,705.8 454.8,705.4 454.8,701.2 455.1,701.4 455.1,705.3 455.4,705.7 455.4,701.5 455.7,702.0 455.7,705.5 456.0,706.2 456.0,702.0 456.3,702.2 456.3,705.8 456.6,705.9 456.6,702.4 456.9,702.8 456.9,705.6 457.2,705.6 457.2,703.0 457.5,702.9 457.5,706.3 457.8,706.8 457.8,702.7 458.1,703.1 458.1,706.5 458.4,706.3 458.4,702.5 458.7,703.2 458.7,706.1 459.0,705.9 459.0,703.0 459.3,703.3 459.3,706.4 459.6,706.3 459.6,702.9 459.9,702.7 459.9,705.8 460.2,705.9 460.2,702.7 460.5,702.9 460.5,706.6 460.8,706.7 460.8,703.1 461.1,702.9 461.1,706.6 461.4,706.4 461.4,702.9 461.7,702.8 461.7,706.4 462.0,706.2 462.0,703.1 462.3,703.4 462.3,706.7 462.6,706.6 462.6,703.4 462.9,702.8 462.9,707.1 463.2,707.3 463.2,703.1 463.5,703.8 463.5,707.4 463.8,707.0 463.8,703.9 464.1,703.5 464.1,707.9 464.4,708.3 464.4,703.4 464.7,703.9 464.7,707.6 465.0,707.4 465.0,704.3 465.3,704.3 465.3,707.5 465.6,707.9 465.6,704.6 465.9,704.6 465.9,708.7 466.2,708.3 466.2,704.6 466.5,704.6 466.5,708.8 466.8,708.2 466.8,704.4 467.1,705.3 467.1,707.7 467.4,707.6 467.4,705.3 467.8,704.4 467.8,708.5 468.1,708.8 468.1,704.3 468.4,704.2 468.4,708.5 468.7,708.2 468.7,705.0 469.0,704.8 469.0,708.6 469.3,707.6 469.3,705.0 469.6,705.0 469.6,707.9 469.9,707.5 469.9,705.1 470.4,705.7 470.4,707.7 470.8,708.1 470.8,705.6 471.1,704.8 471.1,707.9 471.4,707.3 471.4,705.0 471.7,705.3 471.7,706.9 472.2,707.1 472.2,704.3 472.5,704.5 472.5,707.4 472.8,707.1 472.8,704.7 473.1,704.9 473.1,707.6 473.4,706.9 473.4,704.0 473.7,703.9 473.7,706.3 474.0,706.7 474.0,703.3 474.3,703.4 474.3,706.1 474.6,706.6 474.6,703.1 474.9,703.0 474.9,706.0 475.2,706.2 475.2,703.7 475.5,703.0 475.5,705.8 475.8,705.9 475.8,702.3 476.1,702.7 476.1,704.8 476.5,704.4 476.5,703.0 477.0,702.2 477.0,704.8 477.4,704.0 477.4,702.2 477.9,702.2 477.9,704.0 478.3,702.8 478.3,701.8 478.8,700.8 478.8,703.0 479.2,702.0 479.2,700.3 479.7,700.4 479.7,701.7 480.1,701.6 480.1,700.1 480.6,700.4 480.6,702.7 481.0,702.3 481.0,700.4 481.3,700.0 481.3,702.6 481.6,701.9 481.6,699.8 481.9,699.3 481.9,701.5 482.2,701.7 482.2,698.9 482.5,698.8 482.5,701.5 482.8,701.2 482.8,698.9 483.1,699.1 483.1,701.4 483.4,701.3 483.4,698.5 483.7,698.2 483.7,702.0 484.0,702.1 484.0,698.8 484.3,699.3 484.3,702.4 484.6,702.9 484.6,699.7 484.9,700.4 484.9,702.7 485.4,702.2 485.4,701.0 485.8,701.1 485.8,702.7 486.4,702.6 486.4,701.8 487.0,702.7 487.0,703.4 487.3,703.9 487.3,703.3 487.6,703.8 487.6,704.5 487.9,706.3 487.9,702.8 488.2,702.7 488.2,707.0 488.5,706.6 488.5,703.1 488.8,705.4 488.8,706.2 489.4,707.2 489.4,705.8 489.9,705.4 489.9,707.5 490.3,707.4 490.3,705.9 490.8,705.8 490.8,708.3 491.2,708.2 491.2,705.9 491.5,707.0 491.5,708.5 492.0,707.9 492.0,706.6 492.4,706.0 492.4,708.7 492.9,709.3 492.9,706.6 493.3,706.5 493.3,709.6 493.6,710.0 493.6,706.1 493.9,706.2 493.9,710.4 494.2,711.0 494.2,706.4 494.5,705.6 494.5,710.9 494.8,710.6 494.8,705.8 495.1,705.7 495.1,710.2 495.4,709.9 495.4,705.5 495.7,705.5 495.7,710.2 496.0,709.7 496.0,706.0 496.3,706.5 496.3,709.2 496.6,709.5 496.6,706.8 496.9,706.7 496.9,709.9 497.2,709.5 497.2,706.3 497.5,706.7 497.5,709.9 497.8,710.5 497.8,706.3 498.1,705.7 498.1,711.3 498.4,711.7 498.4,705.3 498.7,705.5 498.7,709.9 499.0,707.9 499.0,705.1 499.3,705.4 499.3,708.3 499.8,708.4 499.8,706.0 500.2,706.1 500.2,708.4 500.7,708.1 500.7,705.6 501.0,704.4 501.0,708.2 501.3,707.7 501.3,704.7 501.6,704.9 501.6,707.5 501.9,707.7 501.9,705.0 502.2,704.8 502.2,707.9 502.5,708.1 502.5,705.1 502.8,704.4 502.8,707.6 503.1,708.4 503.1,704.2 503.4,704.2 503.4,708.4 503.7,707.8 503.7,704.7 504.0,705.2 504.0,708.0 504.3,707.3 504.3,704.8 504.6,704.8 504.6,707.3 504.9,707.5 504.9,704.4 505.2,704.6 505.2,707.0 505.5,707.6 505.5,704.3 505.8,703.6 505.8,707.2 506.1,707.1 506.1,704.1 506.4,703.7 506.4,706.7 506.7,706.7 506.7,704.4 507.1,703.3 507.1,706.3 507.4,706.4 507.4,702.9 507.7,702.4 507.7,706.4 508.0,705.8 508.0,702.0 508.3,702.0 508.3,706.5 508.6,706.1 508.6,702.2 508.9,701.8 508.9,705.6 509.2,705.4 509.2,701.6 509.5,701.7 509.5,704.8 509.8,704.6 509.8,701.5 510.1,701.2 510.1,704.2 510.6,704.3 510.6,701.8 510.9,701.6 510.9,704.6 511.2,704.8 511.2,701.3 511.5,700.8 511.5,704.8 511.8,705.4 511.8,700.7 512.1,699.8 512.1,704.9 512.4,704.3 512.4,699.5 512.7,699.9 512.7,704.7 513.0,705.5 513.0,700.0 513.3,699.4 513.3,705.6 513.6,705.7 513.6,699.7 513.9,699.1 513.9,705.0 514.2,704.9 514.2,699.3 514.5,699.7 514.5,704.8 514.8,705.6 514.8,700.7 515.1,700.9 515.1,705.6 515.4,704.7 515.4,700.8 515.7,700.8 515.7,704.2 516.0,704.5 516.0,700.3 516.3,700.9 516.3,704.6 516.6,705.1 516.6,701.1 516.9,700.2 516.9,704.2 517.2,704.3 517.2,700.4 517.5,700.2 517.5,704.0 517.8,704.4 517.8,700.2 518.1,700.1 518.1,703.8 518.4,704.0 518.4,700.0 518.7,699.9 518.7,704.5 519.0,704.4 519.0,699.7 519.3,699.6 519.3,704.4 519.6,704.3 519.6,700.8 519.9,701.0 519.9,704.6 520.2,704.8 520.2,700.9 520.5,701.1 520.5,704.7 520.8,704.7 520.8,701.2 521.1,701.1 521.1,704.4 521.4,703.8 521.4,701.8 521.7,701.9 521.7,703.9 522.1,704.2 522.1,700.7 522.4,700.6 522.4,704.6 522.7,704.5 522.7,700.1 523.0,700.6 523.0,704.7 523.3,705.0 523.3,700.3 523.6,700.8 523.6,705.1 523.9,705.1 523.9,701.2 524.2,701.7 524.2,704.6 524.5,704.8 524.5,702.1 524.8,701.7 524.8,705.7 525.1,706.2 525.1,702.3 525.4,701.8 525.4,706.1 525.7,706.1 525.7,701.8 526.0,701.7 526.0,705.8 526.3,706.4 526.3,702.9 526.6,703.1 526.6,706.6 526.9,706.4 526.9,703.5 527.2,703.0 527.2,706.8 527.5,707.2 527.5,704.0 527.8,704.4 527.8,706.9 528.1,706.8 528.1,703.8 528.4,704.0 528.4,706.7 528.7,707.0 528.7,703.4 529.0,703.5 529.0,707.6 529.3,707.5 529.3,703.7 529.6,704.1 529.6,708.0 529.9,707.5 529.9,704.0 530.2,704.0 530.2,707.8 530.5,707.7 530.5,704.9 530.8,705.0 530.8,708.0 531.1,707.8 531.1,704.3 531.4,704.4 531.4,708.0 531.7,708.5 531.7,704.1 532.0,704.6 532.0,708.6 532.3,708.2 532.3,705.1 532.6,704.7 532.6,708.2 532.9,708.3 532.9,703.9 533.2,704.2 533.2,708.6 533.5,708.2 533.5,704.3 533.8,704.0 533.8,708.5 534.1,708.1 534.1,703.7 534.4,703.9 534.4,708.7 534.7,708.6 534.7,703.7 535.0,704.4 535.0,708.9 535.3,708.4 535.3,704.4 535.6,704.3 535.6,708.3 535.9,708.6 535.9,703.8 536.2,703.9 536.2,709.1 536.5,708.9 536.5,704.9 536.8,704.8 536.8,709.0 537.1,708.9 537.1,704.1 537.4,704.1 537.4,709.2 537.7,708.9 537.7,705.1 538.0,705.0 538.0,709.1 538.3,708.4 538.3,705.6 538.6,705.3 538.6,709.0 538.9,709.0 538.9,705.1 539.2,705.1 539.2,709.6 539.5,709.3 539.5,704.8 539.8,705.3 539.8,709.2 540.1,709.9 540.1,705.2 540.4,704.8 540.4,710.0 540.7,710.0 540.7,704.2 541.0,703.7 541.0,710.2 541.3,710.0 541.3,704.2 541.6,703.7 541.6,709.6 541.9,709.7 541.9,704.1 542.2,704.6 542.2,709.4 542.5,709.8 542.5,704.6 542.8,704.1 542.8,709.2 543.1,709.7 543.1,703.8 543.4,704.0 543.4,709.3 543.7,709.9 543.7,704.6 544.0,704.4 544.0,709.3 544.3,709.3 544.3,704.4 544.6,705.1 544.6,708.8 544.9,709.4 544.9,705.1 545.2,704.6 545.2,709.3 545.5,709.5 545.5,704.7 545.8,705.1 545.8,709.6 546.1,709.6 546.1,705.0 546.4,704.8 546.4,710.0 546.7,709.6 546.7,704.7 547.0,705.3 547.0,710.1 547.3,710.0 547.3,705.1 547.6,705.2 547.6,710.1 547.9,710.1 547.9,704.6 548.2,704.8 548.2,709.6 548.5,709.0 548.5,705.2 548.8,705.6 548.8,709.6 549.1,709.1 549.1,705.1 549.4,705.1 549.4,708.2 549.7,708.8 549.7,704.5 550.0,705.1 550.0,708.9 550.3,709.1 550.3,705.0 550.6,705.9 550.6,709.3 550.9,709.2 550.9,705.0 551.2,705.2 551.2,709.2 551.5,709.3 551.5,704.9 551.8,705.1 551.8,709.3 552.1,709.2 552.1,705.4 552.4,705.3 552.4,709.5 552.7,709.2 552.7,705.1 553.0,704.9 553.0,709.5 553.3,709.2 553.3,704.7 553.6,705.2 553.6,709.3 553.9,709.7 553.9,705.8 554.2,705.8 554.2,709.2 554.5,709.2 554.5,705.6 554.8,706.1 554.8,709.4 555.1,709.2 555.1,706.1 555.4,706.4 555.4,709.2 555.7,709.6 555.7,705.7 556.0,705.6 556.0,709.8 556.3,709.7 556.3,705.1 556.6,705.6 556.6,709.1 556.9,709.7 556.9,705.8 557.2,706.0 557.2,710.1 557.5,709.7 557.5,705.8 557.8,706.0 557.8,709.7 558.1,708.8 558.1,706.0 558.4,706.3 558.4,709.6 558.7,709.9 558.7,705.6 559.0,705.5 559.0,710.3 559.3,709.8 559.3,704.9 559.6,705.2 559.6,709.4 559.9,709.3 559.9,705.5 560.2,705.4 560.2,709.9 560.5,710.2 560.5,705.3 560.8,705.1 560.8,709.8 561.1,710.3 561.1,705.3 561.4,705.2 561.4,711.2 561.7,710.6 561.7,705.6 562.0,705.4 562.0,710.5 562.3,710.8 562.3,705.2 562.6,704.9 562.6,710.1 562.9,709.9 562.9,704.6 563.2,705.3 563.2,709.8 563.5,709.8 563.5,704.8 563.8,705.7 563.8,709.4 564.1,709.6 564.1,705.4 564.4,705.0 564.4,708.9 564.7,709.8 564.7,705.6 565.0,706.2 565.0,709.5 565.3,709.2 565.3,706.7 565.6,706.2 565.6,709.3 565.9,710.1 565.9,706.3 566.2,706.5 566.2,710.0 566.5,710.3 566.5,705.7 566.8,706.5 566.8,710.5 567.1,709.9 567.1,707.3 567.4,706.4 567.4,709.9 567.7,710.4 567.7,706.5 568.0,706.7 568.0,710.3 568.3,710.8 568.3,707.0 568.6,706.2 568.6,710.4 568.9,711.0 568.9,705.7 569.2,705.8 569.2,711.0 569.5,711.4 569.5,706.5 569.8,706.0 569.8,711.0 570.1,711.0 570.1,706.1 570.4,706.1 570.4,711.4 570.7,711.0 570.7,706.1 571.0,706.5 571.0,710.9 571.3,711.1 571.3,706.3 571.6,706.3 571.6,710.6 571.9,710.1 571.9,706.3 572.2,706.6 572.2,710.0 572.5,709.9 572.5,706.4 572.8,706.5 572.8,709.5 573.1,709.6 573.1,706.9 573.4,706.9 573.4,710.3 573.7,710.2 573.7,707.4 574.0,706.8 574.0,709.9 574.3,710.5 574.3,706.1 574.6,706.1 574.6,709.8 574.9,710.5 574.9,705.8 575.2,706.1 575.2,710.5 575.5,709.7 575.5,705.4 575.8,706.0 575.8,710.3 576.1,710.4 576.1,706.9 576.4,707.1 576.4,709.9 576.7,709.7 576.7,707.0 577.0,706.9 577.0,709.9 577.3,710.5 577.3,706.9 577.6,707.0 577.6,710.2 577.9,710.5 577.9,706.7 578.2,707.2 578.2,710.6 578.5,709.7 578.5,707.1 578.8,707.7 578.8,709.4 579.3,709.5 579.3,707.3 579.6,706.2 579.6,709.7 579.9,709.5 579.9,705.5 580.2,705.8 580.2,710.3 580.5,710.5 580.5,706.0 580.8,685.8 580.8,710.2 581.1,710.5 581.1,648.6 581.4,663.9 581.4,710.8 581.7,710.7 581.7,706.9 582.0,707.2 582.0,709.9 582.3,709.8 582.3,706.5 582.6,706.2 582.6,710.5 582.9,710.6 582.9,706.1 583.2,706.3 583.2,710.8 583.5,710.4 583.5,706.9 583.8,706.5 583.8,710.8 584.1,711.2 584.1,706.5 584.4,707.3 584.4,711.0 584.7,711.5 584.7,706.6 585.0,706.2 585.0,710.7 585.3,710.0 585.3,706.1 585.6,706.4 585.6,709.6 585.9,710.0 585.9,706.5 586.2,706.6 586.2,710.1 586.5,710.0 586.5,706.6 586.8,706.3 586.8,710.8 587.1,710.5 587.1,706.8 587.4,706.9 587.4,710.6 587.7,710.9 587.7,706.1 588.0,706.4 588.0,710.1 588.3,711.0 588.3,706.2 588.6,706.6 588.6,711.0 588.9,710.9 588.9,706.9 589.2,706.9 589.2,711.7 589.5,711.2 589.5,706.7 589.8,706.8 589.8,711.6 590.1,711.1 590.1,706.3 590.4,706.4 590.4,710.7 590.7,711.3 590.7,706.5 591.0,706.5 591.0,710.9 591.3,710.8 591.3,705.9 591.6,706.3 591.6,710.1 591.9,710.3 591.9,705.8 592.2,706.4 592.2,710.3 592.5,710.4 592.5,707.6 592.8,707.3 592.8,710.5 593.1,710.5 593.1,706.8 593.4,706.6 593.4,710.5 593.7,711.1 593.7,706.2 594.0,706.6 594.0,710.6 594.3,710.4 594.3,706.6 594.6,706.6 594.6,709.8 594.9,710.5 594.9,706.7 595.2,707.1 595.2,710.1 595.5,710.7 595.5,707.1 595.8,707.5 595.8,710.1 596.1,710.3 596.1,707.0 596.4,706.8 596.4,710.6 596.7,710.7 596.7,706.5 597.0,706.0 597.0,710.3 597.3,710.5 597.3,706.3 597.6,706.8 597.6,710.4 597.9,710.4 597.9,706.8 598.2,706.4 598.2,711.0 598.5,710.4 598.5,706.5 598.8,706.1 598.8,710.2 599.1,710.5 599.1,706.2 599.4,705.6 599.4,710.2 599.7,710.1 599.7,705.7 600.0,706.0 600.0,710.7 600.3,710.9 600.3,706.0 600.6,706.2 600.6,711.2 600.9,711.1 600.9,705.7 601.2,705.7 601.2,710.7 601.5,710.5 601.5,706.0 601.8,706.3 601.8,710.8 602.1,710.7 602.1,706.1 602.4,705.5 602.4,710.9 602.7,710.8 602.7,705.7 603.0,706.3 603.0,710.4 603.3,710.4 603.3,706.0 603.6,706.0 603.6,710.0 603.9,710.2 603.9,705.3 604.2,704.8 604.2,710.3 604.5,710.1 604.5,705.1 604.8,704.5 604.8,709.9 605.1,710.2 605.1,704.6 605.4,705.4 605.4,710.4 605.7,710.5 605.7,705.8 606.0,706.1 606.0,710.1 606.3,709.5 606.3,705.9 606.6,705.6 606.6,710.5 606.9,709.9 606.9,704.6 607.2,705.0 607.2,710.2 607.5,709.7 607.5,705.5 607.8,705.9 607.8,709.7 608.1,710.1 608.1,705.5 608.4,705.3 608.4,709.9 608.7,709.8 608.7,705.4 609.0,705.5 609.0,709.3 609.3,709.8 609.3,705.9 609.6,705.6 609.6,710.1 609.9,710.3 609.9,705.8 610.2,705.7 610.2,710.1 610.5,710.1 610.5,705.9 610.8,705.2 610.8,710.2 611.1,710.3 611.1,705.0 611.4,705.4 611.4,709.9 611.7,710.3 611.7,705.1 612.0,705.1 612.0,710.2 612.3,710.2 612.3,705.7 612.6,705.6 612.6,710.3 612.9,710.3 612.9,705.7 613.2,705.3 613.2,710.5 613.5,710.5 613.5,705.9 613.8,706.2 613.8,711.0 614.1,710.9 614.1,707.1 614.4,707.0 614.4,710.6 614.7,710.5 614.7,706.2 615.0,705.7 615.0,710.2 615.3,709.9 615.3,706.0 615.6,705.5 615.6,710.6 615.9,710.3 615.9,705.6 616.2,705.5 616.2,710.8 616.5,710.4 616.5,705.6 616.8,706.2 616.8,710.3 617.1,710.2 617.1,705.8 617.4,705.2 617.4,710.5 617.7,710.9 617.7,705.4 618.0,705.9 618.0,710.4 618.3,709.5 618.3,705.7 618.6,706.4 618.6,709.8 618.9,709.8 618.9,706.3 619.2,706.5 619.2,710.2 619.5,710.9 619.5,706.6 619.8,706.1 619.8,710.6 620.1,711.1 620.1,706.6 620.4,707.0 620.4,711.3 620.7,710.8 620.7,707.1 621.0,706.5 621.0,710.8 621.3,710.9 621.3,706.0 621.6,706.2 621.6,711.0 621.9,710.3 621.9,706.8 622.2,706.7 622.2,710.6 622.5,710.9 622.5,706.4 622.8,707.2 622.8,710.6 623.1,710.2 623.1,707.0 623.4,706.8 623.4,709.8 623.7,709.0 623.7,707.4 624.1,706.6 624.1,709.5 624.4,709.9 624.4,706.1 624.7,706.6 624.7,710.0 625.0,710.5 625.0,706.2 625.3,706.9 625.3,710.5 625.6,709.8 625.6,706.8 625.9,707.8 625.9,709.5 626.4,710.2 626.4,707.1 626.7,706.7 626.7,710.5 627.0,709.7 627.0,706.4 627.3,706.6 627.3,709.8 627.6,710.3 627.6,707.5 627.9,707.3 627.9,710.1 628.2,710.0 628.2,707.2 628.5,707.0 628.5,710.4 628.8,710.5 628.8,707.3 629.1,707.9 629.1,711.1 629.4,710.8 629.4,707.8 629.7,707.5 629.7,710.0 630.0,710.4 630.0,706.7 630.3,707.5 630.3,710.2 630.6,710.6 630.6,707.2 630.9,707.1 630.9,710.6 631.2,711.1 631.2,707.7 631.5,706.6 631.5,710.4 631.8,710.3 631.8,706.9 632.1,706.5 632.1,710.0 632.4,710.2 632.4,707.2 632.7,707.3 632.7,710.8 633.0,710.5 633.0,707.0 633.3,706.8 633.3,710.7 633.6,710.9 633.6,706.7 633.9,706.9 633.9,710.5 634.2,710.0 634.2,706.7 634.5,706.9 634.5,710.5 634.8,709.8 634.8,707.2 635.1,706.9 635.1,709.8 635.4,709.7 635.4,706.7 635.7,707.1 635.7,710.0 636.0,709.6 636.0,707.2 636.3,708.2 636.3,709.6 636.7,710.0 636.7,708.4 637.2,708.3 637.2,709.4 637.6,709.4 637.6,707.9 638.1,707.2 638.1,710.3 638.4,709.7 638.4,707.2 638.7,706.5 638.7,709.8 639.0,709.5 639.0,707.4 639.4,707.8 639.4,709.7 639.9,711.2 639.9,707.3 640.2,706.8 640.2,711.2 640.5,711.2 640.5,707.0 640.8,707.0 640.8,710.5 641.1,710.1 641.1,706.4 641.4,706.2 641.4,709.8 641.7,709.7 641.7,707.1 642.0,707.1 642.0,709.6 642.4,710.0 642.4,707.1 642.9,707.2 642.9,709.7 643.2,709.5 643.2,706.5 643.5,707.0 643.5,710.0 643.8,710.2 643.8,707.4 644.1,706.7 644.1,710.8 644.4,710.6 644.4,706.5 644.7,706.7 644.7,709.9 645.0,709.7 645.0,707.3 645.4,707.7 645.4,710.0 645.9,709.8 645.9,708.1 646.3,708.4 646.3,709.8 646.8,709.4 646.8,708.1 647.2,707.9 647.2,710.0 647.7,710.5 647.7,708.0 648.1,708.3 648.1,710.5 648.6,710.4 648.6,707.7 648.9,707.5 648.9,710.4 649.2,709.8 649.2,707.4 649.5,707.3 649.5,709.7 649.9,709.9 649.9,707.0 650.2,707.4 650.2,709.5 650.5,709.6 650.5,707.1 650.8,707.2 650.8,709.9 651.1,710.0 651.1,707.6 651.4,707.6 651.4,710.4 651.7,709.9 651.7,707.2 652.0,707.2 652.0,710.4 652.3,711.0 652.3,706.6 652.6,706.9 652.6,711.1 652.9,711.0 652.9,707.1 653.2,707.8 653.2,710.7 653.5,710.3 653.5,707.7 653.8,708.3 653.8,710.3 654.3,710.5 654.3,708.7 654.7,708.0 654.7,710.0 655.2,710.2 655.2,708.0 655.6,708.3 655.6,710.5 656.1,709.8 656.1,708.2 656.5,708.1 656.5,709.4 657.0,710.0 657.0,708.0 657.4,708.8 657.4,710.7 657.9,710.5 657.9,708.0 658.3,707.8 658.3,709.6 658.8,709.8 658.8,708.2 659.2,707.5 659.2,709.6 659.7,709.8 659.7,707.0 660.0,707.2 660.0,710.2 660.3,710.1 660.3,706.9 660.6,707.6 660.6,709.8 660.9,709.8 660.9,707.7 661.3,707.3 661.3,710.1 661.6,710.1 661.6,707.7 662.1,707.7 662.1,710.3 662.5,709.8 662.5,707.9 663.0,708.0 663.0,710.3 663.4,709.9 663.4,707.3 663.7,707.1 663.7,709.8 664.0,709.7 664.0,708.0 664.5,707.8 664.5,710.1 664.9,710.2 664.9,708.2 665.4,708.6 665.4,710.9 665.8,711.0 665.8,708.7 666.3,706.9 666.3,710.9 666.6,710.4 666.6,707.0 666.9,707.6 666.9,709.5 667.3,710.0 667.3,708.1 667.8,707.8 667.8,710.2 668.1,710.7 668.1,708.0 668.5,707.4 668.5,710.4 668.8,710.1 668.8,707.5 669.1,707.2 669.1,710.6 669.4,710.9 669.4,707.3 669.7,706.8 669.7,710.9 670.0,710.2 670.0,706.9 670.3,707.4 670.3,710.2 670.6,710.1 670.6,707.3 670.9,706.7 670.9,710.2 671.2,710.4 671.2,705.7 671.5,705.5 671.5,710.2 671.8,710.5 671.8,706.1 672.1,705.9 672.1,709.8 672.4,710.3 672.4,706.0 672.7,705.9 672.7,710.3 673.0,709.7 673.0,706.3 673.3,706.5 673.3,709.9 673.6,710.6 673.6,706.6 673.9,706.6 673.9,710.6 674.2,710.0 674.2,706.9 674.5,706.7 674.5,709.8 674.8,710.3 674.8,706.4 675.1,706.3 675.1,710.2 675.4,710.7 675.4,706.8 675.7,707.3 675.7,709.8 676.0,710.2 676.0,707.6 676.5,706.6 676.5,710.6 676.8,710.1 676.8,706.2 677.1,706.5 677.1,710.3 677.4,710.7 677.4,706.5 677.7,706.2 677.7,711.2 678.0,711.1 678.0,706.9 678.3,706.9 678.3,710.2 678.6,709.8 678.6,707.4 679.0,707.2 679.0,710.3 679.3,710.6 679.3,707.5 679.6,707.0 679.6,710.4 679.9,709.9 679.9,706.8 680.2,707.1 680.2,710.1 680.5,709.8 680.5,707.4 680.8,708.0 680.8,709.7 681.3,709.6 681.3,707.2 681.6,706.7 681.6,709.4 681.9,710.3 681.9,706.4 682.2,706.7 682.2,710.5 682.5,710.4 682.5,707.3 682.8,707.4 682.8,710.2 683.1,710.4 683.1,707.6 683.4,707.9 683.4,710.4 683.7,709.7 683.7,708.5 684.1,708.0 684.1,709.7 684.6,710.7 684.6,706.9 684.9,706.5 684.9,710.7 685.2,710.7 685.2,706.7 685.5,707.4 685.5,710.2 685.8,710.5 685.8,707.7 686.1,707.6 686.1,710.9 686.4,710.3 686.4,707.0 686.7,707.1 686.7,710.4 687.0,710.6 687.0,706.9 687.3,706.5 687.3,710.3 687.6,710.4 687.6,706.5 687.9,706.2 687.9,710.9 688.2,710.3 688.2,706.2 688.5,706.1 688.5,710.0 688.8,709.4 688.8,706.5 689.1,707.2 689.1,710.1 689.4,709.8 689.4,707.4 689.7,706.8 689.7,710.3 690.0,711.1 690.0,706.9 690.3,707.1 690.3,710.7 690.6,711.1 690.6,707.5 690.9,707.0 690.9,710.4 691.2,709.8 691.2,707.1 691.5,707.0 691.5,710.1 691.8,710.4 691.8,706.7 692.1,706.3 692.1,710.6 692.4,710.7 692.4,705.4 692.7,705.7 692.7,710.5 693.0,710.9 693.0,706.0 693.3,706.8 693.3,710.4 693.6,710.6 693.6,706.9 693.9,706.7 693.9,711.3 694.2,711.1 694.2,706.2 694.5,705.8 694.5,711.1 694.8,710.1 694.8,705.7 695.1,705.8 695.1,709.7 695.4,709.8 695.4,705.2 695.7,705.4 695.7,709.4 696.0,710.3 696.0,705.1 696.3,704.7 696.3,710.6 696.6,710.3 696.6,704.7 696.9,704.4 696.9,710.3 697.2,710.0 697.2,704.4 697.5,705.3 697.5,710.1 697.8,710.0 697.8,704.7 698.1,705.1 698.1,710.8 698.4,710.7 698.4,705.2 698.7,704.2 698.7,710.3 699.0,710.0 699.0,704.1 699.3,703.5 699.3,710.2 699.6,710.4 699.6,703.6 699.9,704.2 699.9,711.0 700.2,710.6 700.2,704.2 700.5,704.5 700.5,709.7 700.8,709.8 700.8,704.2 701.1,704.0 701.1,709.8 701.4,709.2 701.4,704.2 701.7,704.8 701.7,709.5 702.0,709.6 702.0,704.6 702.3,704.2 702.3,709.0 702.6,708.8 702.6,703.9 702.9,703.5 702.9,708.9 703.2,709.6 703.2,703.7 703.5,703.5 703.5,709.2 703.8,708.8 703.8,703.4 704.1,703.3 704.1,708.1 704.4,707.3 704.4,703.3 704.7,703.2 704.7,707.9 705.0,708.5 705.0,702.9 705.3,702.9 705.3,708.6 705.6,708.4 705.6,703.6 705.9,703.5 705.9,709.1 706.2,708.9 706.2,704.4 706.5,704.0 706.5,708.2 706.8,707.1 706.8,704.4 707.1,704.5 707.1,707.8 707.4,708.0 707.4,704.6 707.7,704.8 707.7,708.0 708.0,707.9 708.0,704.3 708.3,704.7 708.3,707.5 708.6,707.7 708.6,704.6 708.9,705.3 708.9,707.7 709.2,708.0 709.2,705.6 709.5,704.8 709.5,708.4 709.8,708.5 709.8,704.7 710.1,705.0 710.1,708.6 710.4,708.3 710.4,704.8 710.7,705.5 710.7,708.3 711.1,707.7 711.1,705.7 711.6,705.5 711.6,707.7 712.0,707.8 712.0,705.7 712.5,706.1 712.5,707.8 712.9,707.7 712.9,705.6 713.4,705.3 713.4,707.9 713.7,708.2 713.7,705.2 714.0,705.6 714.0,708.3 714.3,708.5 714.3,705.9 714.6,705.4 714.6,708.7 714.9,707.6 714.9,705.5 715.3,705.5 715.3,707.6 715.8,707.6 715.8,705.6 716.2,705.2 716.2,707.9 716.7,708.1 716.7,705.7 717.0,705.4 717.0,708.1 717.3,708.1 717.3,705.6 717.6,706.1 717.6,708.2 718.0,708.7 718.0,706.1 718.5,706.3 718.5,708.5 718.9,708.1 718.9,705.9 719.4,706.1 719.4,708.0 719.8,707.8 719.8,705.6 720.3,705.2 720.3,708.3 720.6,708.1 720.6,705.3 720.9,705.4 720.9,708.1 721.2,708.0 721.2,705.6 721.5,705.9 721.5,708.3 721.9,708.5 721.9,705.8 722.2,705.2 722.2,707.8 722.5,707.6 722.5,705.0 722.8,705.1 722.8,708.1 723.1,708.1 723.1,705.2 723.4,705.1 723.4,708.3 723.7,708.8 723.7,705.1 724.0,705.2 724.0,708.5 724.3,708.2 724.3,705.5 724.6,706.2 724.6,707.6 725.1,708.0 725.1,705.2 725.4,705.2 725.4,708.2 725.7,707.6 725.7,705.2 726.0,704.4 726.0,707.9 726.3,708.6 726.3,704.3 726.6,704.9 726.6,708.8 726.9,708.6 726.9,704.9 727.2,704.7 727.2,707.9 727.5,708.0 727.5,705.0 727.8,704.6 727.8,708.0 728.1,707.7 728.1,705.2 728.4,704.8 728.4,707.3 728.7,707.9 728.7,705.4 729.0,705.5 729.0,708.2 729.3,708.2 729.3,704.4 729.6,703.9 729.6,708.0 729.9,707.6 729.9,704.0 730.2,704.4 730.2,707.3 730.5,707.7 730.5,705.0 730.8,704.8 730.8,707.9 731.1,708.1 731.1,704.7 731.4,704.5 731.4,707.5 731.7,707.4 731.7,704.0 732.0,704.8 732.0,707.4 732.3,708.0 732.3,705.1 732.6,704.9 732.6,707.7 732.9,708.2 732.9,705.2 733.2,705.5 733.2,708.2 733.5,707.8 733.5,705.1 733.8,705.0 733.8,707.7 734.2,707.3 734.2,705.5 734.7,705.3 734.7,706.8 735.1,707.5 735.1,705.6 735.6,705.2 735.6,707.6 735.9,707.9 735.9,704.8 736.2,704.9 736.2,707.4 736.5,707.6 736.5,704.2 736.8,704.8 736.8,707.6 737.1,707.6 737.1,704.7 737.4,704.6 737.4,707.8 737.7,707.8 737.7,704.6 738.0,705.2 738.0,708.1 738.3,707.5 738.3,705.0 738.6,705.2 738.6,707.0 738.9,707.3 738.9,704.8 739.2,704.2 739.2,706.9 739.5,706.6 739.5,704.6 739.9,705.2 739.9,707.4 740.4,707.3 740.4,705.7 740.8,705.3 740.8,707.6 741.3,707.4 741.3,705.5 741.7,705.1 741.7,707.2 742.2,707.3 742.2,704.7 742.5,704.6 742.5,707.4 742.9,707.2 742.9,705.0 743.4,704.5 743.4,707.2 743.7,707.0 743.7,704.7 744.0,705.2 744.0,707.4 744.4,706.9 744.4,705.1 744.9,704.9 744.9,706.7 745.3,706.2 745.3,704.5 745.8,704.5 745.8,706.3 746.2,706.4 746.2,705.2 746.7,704.6 746.7,707.1 747.1,706.8 747.1,704.2 747.6,703.8 747.6,706.3 748.0,706.2 748.0,704.6 748.5,704.7 748.5,706.5 748.9,707.2 748.9,705.2 749.4,704.5 749.4,707.6 749.7,706.8 749.7,704.3 750.0,703.8 750.0,707.0 750.3,706.9 750.3,704.0 750.6,703.9 750.6,707.3 750.9,706.6 750.9,703.6 751.2,704.2 751.2,706.0 751.6,706.5 751.6,704.3 752.1,704.4 752.1,707.0 752.4,707.1 752.4,704.0 752.7,703.8 752.7,707.0 753.0,706.7 753.0,703.9 753.3,704.0 753.3,706.9 753.6,706.5 753.6,703.7 753.9,703.7 753.9,706.4 754.2,706.4 754.2,703.8 754.6,704.2 754.6,706.2 755.1,706.6 755.1,704.0 755.5,703.5 755.5,706.3 755.8,705.9 755.8,703.4 756.1,703.4 756.1,706.6 756.4,706.0 756.4,703.8 756.7,703.3 756.7,706.2 757.0,706.6 757.0,702.2 757.3,701.9 757.3,706.2 757.6,706.2 757.6,702.2 757.9,702.5 757.9,706.1 758.2,706.0 758.2,702.8 758.5,702.5 758.5,706.1 758.8,706.0 758.8,703.1 759.1,703.0 759.1,705.8 759.4,706.2 759.4,703.5 759.7,703.5 759.7,706.0 760.0,706.0 760.0,702.9 760.3,702.2 760.3,706.2 760.6,706.8 760.6,702.4 760.9,702.3 760.9,706.4 761.2,706.8 761.2,703.0 761.5,702.9 761.5,706.7 761.8,705.9 761.8,703.1 762.1,703.2 762.1,705.8 762.4,706.6 762.4,703.4 762.7,703.2 762.7,706.0 763.0,706.0 763.0,703.1 763.3,702.5 763.3,705.9 763.6,705.9 763.6,702.4 763.9,702.5 763.9,705.4 764.2,706.0 764.2,703.4 764.7,703.5 764.7,706.2 765.0,706.1 765.0,703.3 765.3,703.6 765.3,706.8 765.6,706.1 765.6,703.0 765.9,703.3 765.9,705.9 766.2,706.3 766.2,702.7 766.5,703.3 766.5,706.6 766.8,706.6 766.8,703.7 767.1,703.9 767.1,706.5 767.4,706.2 767.4,703.3 767.7,703.5 767.7,705.0 768.1,705.0 768.1,703.8 768.6,702.1 768.6,705.2 768.9,705.6 768.9,701.9 769.2,701.8 769.2,705.5 769.5,705.8 769.5,702.5 769.8,702.7 769.8,706.0 770.1,706.3 770.1,702.5 770.4,702.9 770.4,706.4 770.7,706.3 770.7,702.7 771.0,702.2 771.0,705.3 771.3,705.8 771.3,702.2 771.6,702.4 771.6,705.7 771.9,705.5 771.9,703.3 772.2,703.4 772.2,705.9 772.5,706.4 772.5,703.1 772.8,702.9 772.8,706.5 773.1,706.0 773.1,702.2 773.4,702.0 773.4,706.3 773.7,706.1 773.7,702.0 774.0,701.9 774.0,705.8 774.3,706.0 774.3,702.6 774.6,703.1 774.6,706.0 774.9,705.8 774.9,702.6 775.2,702.5 775.2,705.5 775.5,705.9 775.5,702.5 775.8,702.9 775.8,706.3 776.1,706.6 776.1,703.2 776.4,703.2 776.4,706.6 776.7,706.4 776.7,702.9 777.0,703.5 777.0,705.8 777.4,705.3 777.4,701.6 777.7,701.4 777.7,705.4 778.0,705.7 778.0,701.7 778.3,701.8 778.3,705.9 778.6,706.3 778.6,701.3 778.9,701.2 778.9,705.9 779.2,706.2 779.2,701.4 779.5,702.0 779.5,705.6 779.8,705.3 779.8,702.8 780.1,703.2 780.1,704.8 780.6,705.4 780.6,702.3 780.9,702.4 780.9,705.5 781.2,705.4 781.2,702.8 781.5,702.7 781.5,705.3 781.8,704.8 781.8,702.0 782.1,702.0 782.1,704.8 782.4,705.7 782.4,701.1 782.7,701.4 782.7,705.9 783.0,705.8 783.0,701.1 783.3,702.4 783.3,705.7 783.6,705.9 783.6,702.8 783.9,702.8 783.9,706.4 784.2,705.9 784.2,701.8 784.5,701.8 784.5,705.8 784.8,706.1 784.8,702.1 785.1,701.8 785.1,706.2 785.4,705.9 785.4,701.8 785.7,700.9 785.7,706.0 786.0,706.0 786.0,701.2 786.3,701.3 786.3,705.9 786.6,706.0 786.6,701.6 786.9,701.5 786.9,705.9 787.2,704.9 787.2,702.3 787.5,702.1 787.5,705.4 787.8,705.1 787.8,702.3 788.1,701.3 788.1,705.1 788.4,705.1 788.4,701.1 788.7,701.1 788.7,705.1 789.0,705.2 789.0,701.7 789.3,701.7 789.3,705.1 789.6,705.4 789.6,701.8 789.9,701.5 789.9,706.1 790.2,706.8 790.2,702.1 790.5,701.9 790.5,707.0 790.8,705.8 790.8,702.0 791.1,702.1 791.1,704.7 791.5,704.1 791.5,702.4 792.0,702.2 792.0,705.7 792.3,706.6 792.3,701.8 792.6,702.3 792.6,706.5 792.9,706.3 792.9,702.6 793.2,702.5 793.2,706.5 793.5,706.1 793.5,702.6 793.8,702.1 793.8,706.1 794.1,706.6 794.1,701.9 794.4,702.1 794.4,706.0 794.7,706.5 794.7,702.1 795.0,702.6 795.0,706.6 795.3,706.4 795.3,702.7 795.6,702.8 795.6,706.7 795.9,706.4 795.9,702.0 796.2,702.5 796.2,706.1 796.5,705.8 796.5,702.4 796.8,702.6 796.8,705.9 797.1,706.1 797.1,702.7 797.4,703.3 797.4,706.5 797.7,706.1 797.7,703.4 798.0,703.2 798.0,706.1 798.3,705.7 798.3,703.1 798.7,703.2 798.7,705.3"/>
</g>

<g class="tick">
<line x1="150.50" y1="712.50" x2="150.50" y2="717.36"/>
<line x1="266.50" y1="712.50" x2="266.50" y2="717.36"/>
<line x1="383.50" y1="712.50" x2="383.50" y2="717.36"/>
<line x1="499.50" y1="712.50" x2="499.50" y2="717.36"/>
<line x1="615.50" y1="712.50" x2="615.50" y2="717.36"/>
<line x1="731.50" y1="712.50" x2="731.50" y2="717.36"/>
<line x1="848.50" y1="712.50" x2="848.50" y2="717.36"/>
<line x1="964.50" y1="712.50" x2="964.50" y2="717.36"/>
<line x1="1080.50" y1="712.50" x2="1080.50" y2="717.36"/>
<line x1="145.64" y1="712.50" x2="150.50" y2="712.50"/>
<line x1="145.64" y1="635.50" x2="150.50" y2="635.50"/>
<line x1="145.64" y1="558.50" x2="150.50" y2="558.50"/>
<line x1="145.64" y1="481.50" x2="150.50" y2="481.50"/>
<line x1="145.64" y1="404.50" x2="150.50" y2="404.50"/>
<line x1="145.64" y1="327.50" x2="150.50" y2="327.50"/>
<line x1="145.64" y1="250.50" x2="150.50" y2="250.50"/>
<line x1="145.64" y1="173.50" x2="150.50" y2="173.50"/>
<line x1="145.64" y1="96.50" x2="150.50" y2="96.50"/>
</g>
<rect x="150.50" y="96.50" width="930.00" height="616.00" fill="none" stroke="#000" stroke-width="1.11"/>
<g class="xlabels" text-anchor="middle">
<text x="150.06" y="739.60">0</text>
<text x="267.15" y="739.60">3</text>
<text x="382.95" y="739.60">6</text>
<text x="498.91" y="739.60">9</text>
<text x="608.11 621.20" y="739.60">12</text>
<text x="725.04 738.13" y="739.60">15</text>
<text x="841.20 854.29" y="739.60">18</text>
<text x="957.19 970.28" y="739.60">21</text>
<text x="1074.15 1087.24" y="739.60">24</text>
</g>
<g class="ylabels" text-anchor="end">
<text x="141.12" y="721.00">0</text>
<text x="141.02" y="644.00">5</text>
<text x="126.47 139.55" y="567.00">10</text>
<text x="126.17 139.25" y="490.00">15</text>
<text x="127.53 140.61" y="413.00">20</text>
<text x="127.24 140.32" y="336.00">25</text>
<text x="127.68 140.76" y="259.00">30</text>
<text x="127.41 140.49" y="182.00">35</text>
<text x="126.44 139.52" y="105.00">40</text>
</g>
<text x="615" y="765.6" text-anchor="middle">Universal Time [h]</text>
<text transform="translate(101.4,404.5) rotate(-90)" text-anchor="middle">Y-factor [dB]</text>
<text x="615" y="88" text-anchor="middle">SOUTHAFRICA-SANSA of 2019/09/14 with focus code = 01</text>
<g class="legend" text-anchor="middle">
<text x="1000.50" y="142.20" fill="#0000ff">73.688 MHz</text>
<text x="1000.50" y="173.00" fill="#008000">150.563 MHz</text>
<text x="1000.50" y="203.80" fill="#ff0000">327.375 MHz</text>
<text x="1000.50" y="234.60" fill="#ffa500">408.750 MHz</text>
<text x="1000.50" y="265.40" fill="#ff00ff">612.938 MHz</text>
</g>
</svg>
</body>
</html>
